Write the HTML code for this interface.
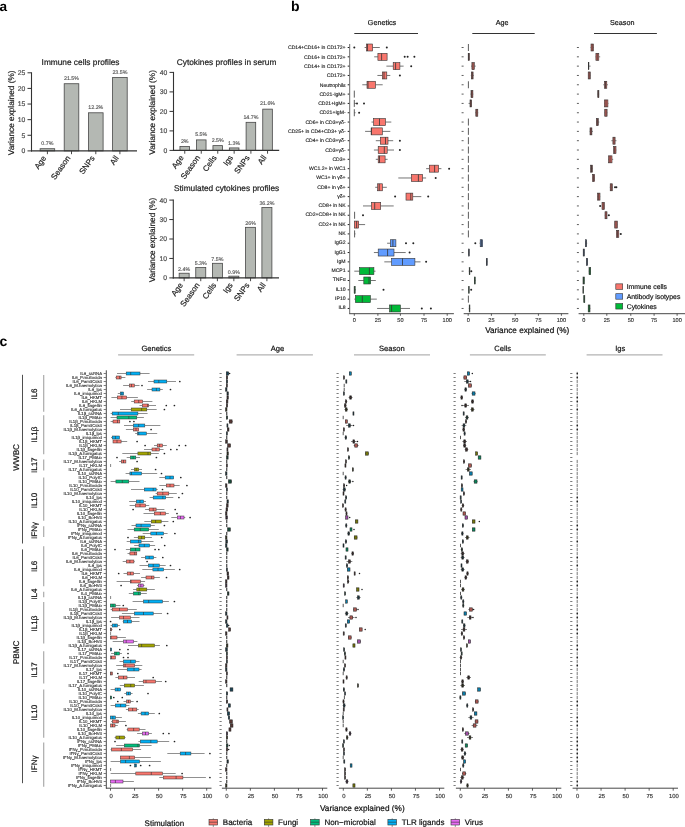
<!DOCTYPE html><html><head><meta charset="utf-8"><style>
html,body{margin:0;padding:0;background:#fff;}
svg{display:block;will-change:transform;}
text{font-family:"Liberation Sans", sans-serif;text-rendering:geometricPrecision;}
</style></head><body>
<svg width="685" height="827" viewBox="0 0 685 827">
<rect width="685" height="827" fill="#fff"/>
<text x="-0.50" y="10.60" font-size="13.6" fill="#000" text-anchor="start" font-weight="bold">a</text>
<text x="290.90" y="10.60" font-size="14" fill="#000" text-anchor="start" font-weight="bold">b</text>
<text x="-0.60" y="346.00" font-size="14" fill="#000" text-anchor="start" font-weight="bold">c</text>
<text x="41.60" y="65.20" font-size="8.3" fill="#222" text-anchor="start" stroke="#222" stroke-width="0.208">Immune cells profiles</text>
<text x="13.60" y="112.85" font-size="8.25" fill="#222" text-anchor="middle" transform="rotate(-90 13.6 112.85)" stroke="#222" stroke-width="0.206">Variance explained (%)</text>
<rect x="40.10" y="148.71" width="14.60" height="2.19" fill="#b4b8b3" stroke="#474747" stroke-width="0.8"/>
<rect x="64.20" y="83.73" width="14.60" height="67.17" fill="#b4b8b3" stroke="#474747" stroke-width="0.8"/>
<rect x="88.50" y="112.79" width="14.60" height="38.11" fill="#b4b8b3" stroke="#474747" stroke-width="0.8"/>
<rect x="112.60" y="77.49" width="14.60" height="73.41" fill="#b4b8b3" stroke="#474747" stroke-width="0.8"/>
<line x1="31.50" y1="72.30" x2="31.50" y2="151.50" stroke="#333" stroke-width="1.1"/>
<line x1="31.00" y1="150.90" x2="137.00" y2="150.90" stroke="#333" stroke-width="1.2"/>
<line x1="27.50" y1="150.90" x2="31.50" y2="150.90" stroke="#333" stroke-width="1.0"/>
<text x="25.30" y="153.30" font-size="6.8" fill="#4a4a4a" text-anchor="end" stroke="#4a4a4a" stroke-width="0.170">0</text>
<line x1="27.50" y1="135.28" x2="31.50" y2="135.28" stroke="#333" stroke-width="1.0"/>
<text x="25.30" y="137.68" font-size="6.8" fill="#4a4a4a" text-anchor="end" stroke="#4a4a4a" stroke-width="0.170">5</text>
<line x1="27.50" y1="119.66" x2="31.50" y2="119.66" stroke="#333" stroke-width="1.0"/>
<text x="25.30" y="122.06" font-size="6.8" fill="#4a4a4a" text-anchor="end" stroke="#4a4a4a" stroke-width="0.170">10</text>
<line x1="27.50" y1="104.04" x2="31.50" y2="104.04" stroke="#333" stroke-width="1.0"/>
<text x="25.30" y="106.44" font-size="6.8" fill="#4a4a4a" text-anchor="end" stroke="#4a4a4a" stroke-width="0.170">15</text>
<line x1="27.50" y1="88.42" x2="31.50" y2="88.42" stroke="#333" stroke-width="1.0"/>
<text x="25.30" y="90.82" font-size="6.8" fill="#4a4a4a" text-anchor="end" stroke="#4a4a4a" stroke-width="0.170">20</text>
<line x1="27.50" y1="72.80" x2="31.50" y2="72.80" stroke="#333" stroke-width="1.0"/>
<text x="25.30" y="75.20" font-size="6.8" fill="#4a4a4a" text-anchor="end" stroke="#4a4a4a" stroke-width="0.170">25</text>
<line x1="47.40" y1="150.90" x2="47.40" y2="154.20" stroke="#333" stroke-width="0.9"/>
<text x="46.60" y="158.10" font-size="8.0" fill="#222" text-anchor="end" transform="rotate(-55 46.6 158.1)" stroke="#222" stroke-width="0.200">Age</text>
<text x="47.40" y="145.31" font-size="5.3" fill="#555" text-anchor="middle" stroke="#555" stroke-width="0.133">0.7%</text>
<line x1="71.50" y1="150.90" x2="71.50" y2="154.20" stroke="#333" stroke-width="0.9"/>
<text x="70.70" y="158.10" font-size="8.0" fill="#222" text-anchor="end" transform="rotate(-55 70.7 158.1)" stroke="#222" stroke-width="0.200">Season</text>
<text x="71.50" y="80.33" font-size="5.3" fill="#555" text-anchor="middle" stroke="#555" stroke-width="0.133">21.5%</text>
<line x1="95.80" y1="150.90" x2="95.80" y2="154.20" stroke="#333" stroke-width="0.9"/>
<text x="95.00" y="158.10" font-size="8.0" fill="#222" text-anchor="end" transform="rotate(-55 95.0 158.1)" stroke="#222" stroke-width="0.200">SNPs</text>
<text x="95.80" y="109.39" font-size="5.3" fill="#555" text-anchor="middle" stroke="#555" stroke-width="0.133">12.2%</text>
<line x1="119.90" y1="150.90" x2="119.90" y2="154.20" stroke="#333" stroke-width="0.9"/>
<text x="119.10" y="158.10" font-size="8.0" fill="#222" text-anchor="end" transform="rotate(-55 119.10000000000001 158.1)" stroke="#222" stroke-width="0.200">All</text>
<text x="119.90" y="74.09" font-size="5.3" fill="#555" text-anchor="middle" stroke="#555" stroke-width="0.133">23.5%</text>
<text x="176.80" y="65.00" font-size="8.3" fill="#222" text-anchor="start" stroke="#222" stroke-width="0.208">Cytokines profiles in serum</text>
<text x="155.20" y="112.40" font-size="8.25" fill="#222" text-anchor="middle" transform="rotate(-90 155.2 112.4)" stroke="#222" stroke-width="0.206">Variance explained (%)</text>
<rect x="179.95" y="146.58" width="9.60" height="3.82" fill="#b4b8b3" stroke="#474747" stroke-width="0.8"/>
<rect x="196.45" y="139.90" width="9.60" height="10.50" fill="#b4b8b3" stroke="#474747" stroke-width="0.8"/>
<rect x="212.95" y="145.62" width="9.60" height="4.77" fill="#b4b8b3" stroke="#474747" stroke-width="0.8"/>
<rect x="229.35" y="147.92" width="9.60" height="2.48" fill="#b4b8b3" stroke="#474747" stroke-width="0.8"/>
<rect x="246.10" y="122.32" width="9.60" height="28.08" fill="#b4b8b3" stroke="#474747" stroke-width="0.8"/>
<rect x="262.75" y="109.14" width="9.60" height="41.26" fill="#b4b8b3" stroke="#474747" stroke-width="0.8"/>
<line x1="173.50" y1="71.90" x2="173.50" y2="151.00" stroke="#333" stroke-width="1.1"/>
<line x1="173.00" y1="150.40" x2="279.20" y2="150.40" stroke="#333" stroke-width="1.2"/>
<line x1="169.50" y1="150.40" x2="173.50" y2="150.40" stroke="#333" stroke-width="1.0"/>
<text x="167.30" y="152.80" font-size="6.8" fill="#4a4a4a" text-anchor="end" stroke="#4a4a4a" stroke-width="0.170">0</text>
<line x1="169.50" y1="130.90" x2="173.50" y2="130.90" stroke="#333" stroke-width="1.0"/>
<text x="167.30" y="133.30" font-size="6.8" fill="#4a4a4a" text-anchor="end" stroke="#4a4a4a" stroke-width="0.170">10</text>
<line x1="169.50" y1="111.40" x2="173.50" y2="111.40" stroke="#333" stroke-width="1.0"/>
<text x="167.30" y="113.80" font-size="6.8" fill="#4a4a4a" text-anchor="end" stroke="#4a4a4a" stroke-width="0.170">20</text>
<line x1="169.50" y1="91.90" x2="173.50" y2="91.90" stroke="#333" stroke-width="1.0"/>
<text x="167.30" y="94.30" font-size="6.8" fill="#4a4a4a" text-anchor="end" stroke="#4a4a4a" stroke-width="0.170">30</text>
<line x1="169.50" y1="72.40" x2="173.50" y2="72.40" stroke="#333" stroke-width="1.0"/>
<text x="167.30" y="74.80" font-size="6.8" fill="#4a4a4a" text-anchor="end" stroke="#4a4a4a" stroke-width="0.170">40</text>
<line x1="184.75" y1="150.40" x2="184.75" y2="153.70" stroke="#333" stroke-width="0.9"/>
<text x="183.95" y="157.60" font-size="8.0" fill="#222" text-anchor="end" transform="rotate(-55 183.95 157.6)" stroke="#222" stroke-width="0.200">Age</text>
<text x="184.75" y="143.30" font-size="5.3" fill="#555" text-anchor="middle" stroke="#555" stroke-width="0.133">2%</text>
<line x1="201.25" y1="150.40" x2="201.25" y2="153.70" stroke="#333" stroke-width="0.9"/>
<text x="200.45" y="157.60" font-size="8.0" fill="#222" text-anchor="end" transform="rotate(-55 200.45 157.6)" stroke="#222" stroke-width="0.200">Season</text>
<text x="201.25" y="136.48" font-size="5.3" fill="#555" text-anchor="middle" stroke="#555" stroke-width="0.133">5.5%</text>
<line x1="217.75" y1="150.40" x2="217.75" y2="153.70" stroke="#333" stroke-width="0.9"/>
<text x="216.95" y="157.60" font-size="8.0" fill="#222" text-anchor="end" transform="rotate(-55 216.95 157.6)" stroke="#222" stroke-width="0.200">Cells</text>
<text x="217.75" y="142.33" font-size="5.3" fill="#555" text-anchor="middle" stroke="#555" stroke-width="0.133">2.5%</text>
<line x1="234.15" y1="150.40" x2="234.15" y2="153.70" stroke="#333" stroke-width="0.9"/>
<text x="233.35" y="157.60" font-size="8.0" fill="#222" text-anchor="end" transform="rotate(-55 233.35 157.6)" stroke="#222" stroke-width="0.200">Igs</text>
<text x="234.15" y="144.67" font-size="5.3" fill="#555" text-anchor="middle" stroke="#555" stroke-width="0.133">1.3%</text>
<line x1="250.90" y1="150.40" x2="250.90" y2="153.70" stroke="#333" stroke-width="0.9"/>
<text x="250.10" y="157.60" font-size="8.0" fill="#222" text-anchor="end" transform="rotate(-55 250.1 157.6)" stroke="#222" stroke-width="0.200">SNPs</text>
<text x="250.90" y="118.54" font-size="5.3" fill="#555" text-anchor="middle" stroke="#555" stroke-width="0.133">14.7%</text>
<line x1="267.55" y1="150.40" x2="267.55" y2="153.70" stroke="#333" stroke-width="0.9"/>
<text x="266.75" y="157.60" font-size="8.0" fill="#222" text-anchor="end" transform="rotate(-55 266.75 157.6)" stroke="#222" stroke-width="0.200">All</text>
<text x="267.55" y="105.08" font-size="5.3" fill="#555" text-anchor="middle" stroke="#555" stroke-width="0.133">21.6%</text>
<text x="174.00" y="191.30" font-size="8.3" fill="#222" text-anchor="start" stroke="#222" stroke-width="0.208">Stimulated cytokines profiles</text>
<text x="155.00" y="240.00" font-size="8.25" fill="#222" text-anchor="middle" transform="rotate(-90 155.0 240.0)" stroke="#222" stroke-width="0.206">Variance explained (%)</text>
<rect x="179.15" y="273.23" width="10.00" height="4.67" fill="#b4b8b3" stroke="#474747" stroke-width="0.8"/>
<rect x="195.75" y="267.59" width="10.00" height="10.31" fill="#b4b8b3" stroke="#474747" stroke-width="0.8"/>
<rect x="212.40" y="263.31" width="10.00" height="14.59" fill="#b4b8b3" stroke="#474747" stroke-width="0.8"/>
<rect x="228.85" y="276.15" width="10.00" height="1.75" fill="#b4b8b3" stroke="#474747" stroke-width="0.8"/>
<rect x="245.55" y="227.33" width="10.00" height="50.57" fill="#b4b8b3" stroke="#474747" stroke-width="0.8"/>
<rect x="261.90" y="207.49" width="10.00" height="70.41" fill="#b4b8b3" stroke="#474747" stroke-width="0.8"/>
<line x1="173.30" y1="199.60" x2="173.30" y2="278.50" stroke="#333" stroke-width="1.1"/>
<line x1="172.80" y1="277.90" x2="279.00" y2="277.90" stroke="#333" stroke-width="1.2"/>
<line x1="169.30" y1="277.90" x2="173.30" y2="277.90" stroke="#333" stroke-width="1.0"/>
<text x="167.10" y="280.30" font-size="6.8" fill="#4a4a4a" text-anchor="end" stroke="#4a4a4a" stroke-width="0.170">0</text>
<line x1="169.30" y1="258.45" x2="173.30" y2="258.45" stroke="#333" stroke-width="1.0"/>
<text x="167.10" y="260.85" font-size="6.8" fill="#4a4a4a" text-anchor="end" stroke="#4a4a4a" stroke-width="0.170">10</text>
<line x1="169.30" y1="239.00" x2="173.30" y2="239.00" stroke="#333" stroke-width="1.0"/>
<text x="167.10" y="241.40" font-size="6.8" fill="#4a4a4a" text-anchor="end" stroke="#4a4a4a" stroke-width="0.170">20</text>
<line x1="169.30" y1="219.55" x2="173.30" y2="219.55" stroke="#333" stroke-width="1.0"/>
<text x="167.10" y="221.95" font-size="6.8" fill="#4a4a4a" text-anchor="end" stroke="#4a4a4a" stroke-width="0.170">30</text>
<line x1="169.30" y1="200.10" x2="173.30" y2="200.10" stroke="#333" stroke-width="1.0"/>
<text x="167.10" y="202.50" font-size="6.8" fill="#4a4a4a" text-anchor="end" stroke="#4a4a4a" stroke-width="0.170">40</text>
<line x1="184.15" y1="277.90" x2="184.15" y2="281.20" stroke="#333" stroke-width="0.9"/>
<text x="183.35" y="285.10" font-size="8.0" fill="#222" text-anchor="end" transform="rotate(-55 183.35 285.09999999999997)" stroke="#222" stroke-width="0.200">Age</text>
<text x="184.15" y="270.73" font-size="5.3" fill="#555" text-anchor="middle" stroke="#555" stroke-width="0.133">2.4%</text>
<line x1="200.75" y1="277.90" x2="200.75" y2="281.20" stroke="#333" stroke-width="0.9"/>
<text x="199.95" y="285.10" font-size="8.0" fill="#222" text-anchor="end" transform="rotate(-55 199.95 285.09999999999997)" stroke="#222" stroke-width="0.200">Season</text>
<text x="200.75" y="265.09" font-size="5.3" fill="#555" text-anchor="middle" stroke="#555" stroke-width="0.133">5.3%</text>
<line x1="217.40" y1="277.90" x2="217.40" y2="281.20" stroke="#333" stroke-width="0.9"/>
<text x="216.60" y="285.10" font-size="8.0" fill="#222" text-anchor="end" transform="rotate(-55 216.6 285.09999999999997)" stroke="#222" stroke-width="0.200">Cells</text>
<text x="217.40" y="260.81" font-size="5.3" fill="#555" text-anchor="middle" stroke="#555" stroke-width="0.133">7.5%</text>
<line x1="233.85" y1="277.90" x2="233.85" y2="281.20" stroke="#333" stroke-width="0.9"/>
<text x="233.05" y="285.10" font-size="8.0" fill="#222" text-anchor="end" transform="rotate(-55 233.04999999999998 285.09999999999997)" stroke="#222" stroke-width="0.200">Igs</text>
<text x="233.85" y="273.65" font-size="5.3" fill="#555" text-anchor="middle" stroke="#555" stroke-width="0.133">0.9%</text>
<line x1="250.55" y1="277.90" x2="250.55" y2="281.20" stroke="#333" stroke-width="0.9"/>
<text x="249.75" y="285.10" font-size="8.0" fill="#222" text-anchor="end" transform="rotate(-55 249.75 285.09999999999997)" stroke="#222" stroke-width="0.200">SNPs</text>
<text x="250.55" y="224.83" font-size="5.3" fill="#555" text-anchor="middle" stroke="#555" stroke-width="0.133">26%</text>
<line x1="266.90" y1="277.90" x2="266.90" y2="281.20" stroke="#333" stroke-width="0.9"/>
<text x="266.10" y="285.10" font-size="8.0" fill="#222" text-anchor="end" transform="rotate(-55 266.09999999999997 285.09999999999997)" stroke="#222" stroke-width="0.200">All</text>
<text x="266.90" y="204.99" font-size="5.3" fill="#555" text-anchor="middle" stroke="#555" stroke-width="0.133">36.2%</text>
<text x="382.00" y="25.10" font-size="7.2" fill="#111" text-anchor="middle" stroke="#111" stroke-width="0.180">Genetics</text>
<line x1="354.30" y1="33.50" x2="418.00" y2="33.50" stroke="#333" stroke-width="1.0"/>
<text x="502.10" y="25.10" font-size="7.2" fill="#111" text-anchor="middle" stroke="#111" stroke-width="0.180">Age</text>
<line x1="472.30" y1="33.50" x2="534.70" y2="33.50" stroke="#333" stroke-width="1.0"/>
<text x="622.20" y="25.10" font-size="7.2" fill="#111" text-anchor="middle" stroke="#111" stroke-width="0.180">Season</text>
<line x1="594.00" y1="33.50" x2="656.90" y2="33.50" stroke="#333" stroke-width="1.0"/>
<text x="345.60" y="49.45" font-size="5.1" fill="#1a1a1a" text-anchor="end" stroke="#1a1a1a" stroke-width="0.128">CD14+CD16+ in CD172+</text>
<line x1="347.70" y1="47.50" x2="349.70" y2="47.50" stroke="#222" stroke-width="1.0"/>
<line x1="372.60" y1="47.50" x2="379.80" y2="47.50" stroke="#3a3a3a" stroke-width="0.7"/>
<line x1="364.60" y1="47.50" x2="366.40" y2="47.50" stroke="#3a3a3a" stroke-width="0.7"/>
<rect x="366.40" y="44.00" width="6.20" height="7.00" fill="#F8766D" stroke="#333" stroke-width="0.6"/>
<line x1="367.50" y1="44.00" x2="367.50" y2="51.00" stroke="#333" stroke-width="0.8"/>
<circle cx="354.30" cy="47.50" r="1.0" fill="#222"/>
<circle cx="386.80" cy="47.50" r="1.0" fill="#222"/>
<text x="345.60" y="58.73" font-size="5.1" fill="#1a1a1a" text-anchor="end" stroke="#1a1a1a" stroke-width="0.128">CD16+ in CD172+</text>
<line x1="347.70" y1="56.82" x2="349.70" y2="56.82" stroke="#222" stroke-width="1.0"/>
<line x1="374.20" y1="56.82" x2="377.90" y2="56.82" stroke="#3a3a3a" stroke-width="0.7"/>
<rect x="377.90" y="53.32" width="9.20" height="7.00" fill="#F8766D" stroke="#333" stroke-width="0.6"/>
<line x1="381.60" y1="53.32" x2="381.60" y2="60.32" stroke="#333" stroke-width="0.8"/>
<circle cx="404.70" cy="56.82" r="1.0" fill="#222"/>
<circle cx="407.60" cy="56.82" r="1.0" fill="#222"/>
<circle cx="414.40" cy="56.82" r="1.0" fill="#222"/>
<text x="345.60" y="68.01" font-size="5.1" fill="#1a1a1a" text-anchor="end" stroke="#1a1a1a" stroke-width="0.128">CD14+ in CD172+</text>
<line x1="347.70" y1="66.14" x2="349.70" y2="66.14" stroke="#222" stroke-width="1.0"/>
<line x1="399.90" y1="66.14" x2="403.60" y2="66.14" stroke="#3a3a3a" stroke-width="0.7"/>
<line x1="386.40" y1="66.14" x2="393.20" y2="66.14" stroke="#3a3a3a" stroke-width="0.7"/>
<rect x="393.20" y="62.64" width="6.70" height="7.00" fill="#F8766D" stroke="#333" stroke-width="0.6"/>
<line x1="395.60" y1="62.64" x2="395.60" y2="69.64" stroke="#333" stroke-width="0.8"/>
<circle cx="411.20" cy="66.14" r="1.0" fill="#222"/>
<text x="345.60" y="77.29" font-size="5.1" fill="#1a1a1a" text-anchor="end" stroke="#1a1a1a" stroke-width="0.128">CD172+</text>
<line x1="347.70" y1="75.46" x2="349.70" y2="75.46" stroke="#222" stroke-width="1.0"/>
<line x1="386.80" y1="75.46" x2="390.30" y2="75.46" stroke="#3a3a3a" stroke-width="0.7"/>
<line x1="377.40" y1="75.46" x2="382.30" y2="75.46" stroke="#3a3a3a" stroke-width="0.7"/>
<rect x="382.30" y="71.96" width="4.50" height="7.00" fill="#F8766D" stroke="#333" stroke-width="0.6"/>
<line x1="384.00" y1="71.96" x2="384.00" y2="78.96" stroke="#333" stroke-width="0.8"/>
<circle cx="399.90" cy="75.46" r="1.0" fill="#222"/>
<text x="345.60" y="86.57" font-size="5.1" fill="#1a1a1a" text-anchor="end" stroke="#1a1a1a" stroke-width="0.128">Neutrophils</text>
<line x1="347.70" y1="84.78" x2="349.70" y2="84.78" stroke="#222" stroke-width="1.0"/>
<line x1="375.50" y1="84.78" x2="382.70" y2="84.78" stroke="#3a3a3a" stroke-width="0.7"/>
<line x1="362.30" y1="84.78" x2="367.00" y2="84.78" stroke="#3a3a3a" stroke-width="0.7"/>
<rect x="367.00" y="81.28" width="8.50" height="7.00" fill="#F8766D" stroke="#333" stroke-width="0.6"/>
<line x1="368.00" y1="81.28" x2="368.00" y2="88.28" stroke="#333" stroke-width="0.8"/>
<text x="345.60" y="95.85" font-size="5.1" fill="#1a1a1a" text-anchor="end" stroke="#1a1a1a" stroke-width="0.128">CD21-IgM+</text>
<line x1="347.70" y1="94.10" x2="349.70" y2="94.10" stroke="#222" stroke-width="1.0"/>
<line x1="354.30" y1="90.60" x2="354.30" y2="97.60" stroke="#333" stroke-width="0.8"/>
<text x="345.60" y="105.13" font-size="5.1" fill="#1a1a1a" text-anchor="end" stroke="#1a1a1a" stroke-width="0.128">CD21+IgM+</text>
<line x1="347.70" y1="103.42" x2="349.70" y2="103.42" stroke="#222" stroke-width="1.0"/>
<line x1="354.50" y1="103.42" x2="356.00" y2="103.42" stroke="#3a3a3a" stroke-width="0.7"/>
<line x1="354.30" y1="99.92" x2="354.30" y2="106.92" stroke="#333" stroke-width="0.8"/>
<circle cx="357.00" cy="103.42" r="1.0" fill="#222"/>
<circle cx="364.00" cy="103.42" r="1.0" fill="#222"/>
<text x="345.60" y="114.41" font-size="5.1" fill="#1a1a1a" text-anchor="end" stroke="#1a1a1a" stroke-width="0.128">CD21+IgM-</text>
<line x1="347.70" y1="112.74" x2="349.70" y2="112.74" stroke="#222" stroke-width="1.0"/>
<line x1="354.50" y1="112.74" x2="355.50" y2="112.74" stroke="#3a3a3a" stroke-width="0.7"/>
<line x1="354.30" y1="109.24" x2="354.30" y2="116.24" stroke="#333" stroke-width="0.8"/>
<circle cx="359.10" cy="112.74" r="1.0" fill="#222"/>
<text x="345.60" y="123.69" font-size="5.1" fill="#1a1a1a" text-anchor="end" stroke="#1a1a1a" stroke-width="0.128">CD6+ in CD3+γδ-</text>
<line x1="347.70" y1="122.06" x2="349.70" y2="122.06" stroke="#222" stroke-width="1.0"/>
<line x1="385.50" y1="122.06" x2="391.30" y2="122.06" stroke="#3a3a3a" stroke-width="0.7"/>
<line x1="371.50" y1="122.06" x2="373.60" y2="122.06" stroke="#3a3a3a" stroke-width="0.7"/>
<rect x="373.60" y="118.56" width="11.90" height="7.00" fill="#F8766D" stroke="#333" stroke-width="0.6"/>
<line x1="379.50" y1="118.56" x2="379.50" y2="125.56" stroke="#333" stroke-width="0.8"/>
<text x="345.60" y="132.97" font-size="5.1" fill="#1a1a1a" text-anchor="end" stroke="#1a1a1a" stroke-width="0.128">CD25+ in CD4+CD3+ γδ-</text>
<line x1="347.70" y1="131.38" x2="349.70" y2="131.38" stroke="#222" stroke-width="1.0"/>
<line x1="382.30" y1="131.38" x2="390.30" y2="131.38" stroke="#3a3a3a" stroke-width="0.7"/>
<line x1="365.10" y1="131.38" x2="371.20" y2="131.38" stroke="#3a3a3a" stroke-width="0.7"/>
<rect x="371.20" y="127.88" width="11.10" height="7.00" fill="#F8766D" stroke="#333" stroke-width="0.6"/>
<line x1="371.40" y1="127.88" x2="371.40" y2="134.88" stroke="#333" stroke-width="0.8"/>
<text x="345.60" y="142.25" font-size="5.1" fill="#1a1a1a" text-anchor="end" stroke="#1a1a1a" stroke-width="0.128">CD4+ in CD3+γδ-</text>
<line x1="347.70" y1="140.70" x2="349.70" y2="140.70" stroke="#222" stroke-width="1.0"/>
<line x1="388.00" y1="140.70" x2="393.20" y2="140.70" stroke="#3a3a3a" stroke-width="0.7"/>
<line x1="375.80" y1="140.70" x2="380.30" y2="140.70" stroke="#3a3a3a" stroke-width="0.7"/>
<rect x="380.30" y="137.20" width="7.70" height="7.00" fill="#F8766D" stroke="#333" stroke-width="0.6"/>
<line x1="385.50" y1="137.20" x2="385.50" y2="144.20" stroke="#333" stroke-width="0.8"/>
<circle cx="399.90" cy="140.70" r="1.0" fill="#222"/>
<text x="345.60" y="151.53" font-size="5.1" fill="#1a1a1a" text-anchor="end" stroke="#1a1a1a" stroke-width="0.128">CD3+γδ-</text>
<line x1="347.70" y1="150.02" x2="349.70" y2="150.02" stroke="#222" stroke-width="1.0"/>
<line x1="387.20" y1="150.02" x2="394.00" y2="150.02" stroke="#3a3a3a" stroke-width="0.7"/>
<line x1="373.90" y1="150.02" x2="378.20" y2="150.02" stroke="#3a3a3a" stroke-width="0.7"/>
<rect x="378.20" y="146.52" width="9.00" height="7.00" fill="#F8766D" stroke="#333" stroke-width="0.6"/>
<line x1="384.30" y1="146.52" x2="384.30" y2="153.52" stroke="#333" stroke-width="0.8"/>
<circle cx="399.90" cy="150.02" r="1.0" fill="#222"/>
<text x="345.60" y="160.81" font-size="5.1" fill="#1a1a1a" text-anchor="end" stroke="#1a1a1a" stroke-width="0.128">CD3+</text>
<line x1="347.70" y1="159.34" x2="349.70" y2="159.34" stroke="#222" stroke-width="1.0"/>
<line x1="385.10" y1="159.34" x2="387.60" y2="159.34" stroke="#3a3a3a" stroke-width="0.7"/>
<line x1="375.80" y1="159.34" x2="378.20" y2="159.34" stroke="#3a3a3a" stroke-width="0.7"/>
<rect x="378.20" y="155.84" width="6.90" height="7.00" fill="#F8766D" stroke="#333" stroke-width="0.6"/>
<line x1="379.50" y1="155.84" x2="379.50" y2="162.84" stroke="#333" stroke-width="0.8"/>
<text x="345.60" y="170.09" font-size="5.1" fill="#1a1a1a" text-anchor="end" stroke="#1a1a1a" stroke-width="0.128">WC1.2+ in WC1</text>
<line x1="347.70" y1="168.66" x2="349.70" y2="168.66" stroke="#222" stroke-width="1.0"/>
<line x1="438.60" y1="168.66" x2="441.40" y2="168.66" stroke="#3a3a3a" stroke-width="0.7"/>
<line x1="426.10" y1="168.66" x2="429.30" y2="168.66" stroke="#3a3a3a" stroke-width="0.7"/>
<rect x="429.30" y="165.16" width="9.30" height="7.00" fill="#F8766D" stroke="#333" stroke-width="0.6"/>
<line x1="434.60" y1="165.16" x2="434.60" y2="172.16" stroke="#333" stroke-width="0.8"/>
<circle cx="449.10" cy="168.66" r="1.0" fill="#222"/>
<text x="345.60" y="179.37" font-size="5.1" fill="#1a1a1a" text-anchor="end" stroke="#1a1a1a" stroke-width="0.128">WC1+ in γδ+</text>
<line x1="347.70" y1="177.98" x2="349.70" y2="177.98" stroke="#222" stroke-width="1.0"/>
<line x1="422.60" y1="177.98" x2="426.10" y2="177.98" stroke="#3a3a3a" stroke-width="0.7"/>
<line x1="398.30" y1="177.98" x2="411.30" y2="177.98" stroke="#3a3a3a" stroke-width="0.7"/>
<rect x="411.30" y="174.48" width="11.30" height="7.00" fill="#F8766D" stroke="#333" stroke-width="0.6"/>
<line x1="418.40" y1="174.48" x2="418.40" y2="181.48" stroke="#333" stroke-width="0.8"/>
<circle cx="435.70" cy="177.98" r="1.0" fill="#222"/>
<text x="345.60" y="188.65" font-size="5.1" fill="#1a1a1a" text-anchor="end" stroke="#1a1a1a" stroke-width="0.128">CD8+ in γδ+</text>
<line x1="347.70" y1="187.30" x2="349.70" y2="187.30" stroke="#222" stroke-width="1.0"/>
<line x1="382.40" y1="187.30" x2="386.80" y2="187.30" stroke="#3a3a3a" stroke-width="0.7"/>
<line x1="375.20" y1="187.30" x2="377.60" y2="187.30" stroke="#3a3a3a" stroke-width="0.7"/>
<rect x="377.60" y="183.80" width="4.80" height="7.00" fill="#F8766D" stroke="#333" stroke-width="0.6"/>
<line x1="379.20" y1="183.80" x2="379.20" y2="190.80" stroke="#333" stroke-width="0.8"/>
<text x="345.60" y="197.93" font-size="5.1" fill="#1a1a1a" text-anchor="end" stroke="#1a1a1a" stroke-width="0.128">γδ+</text>
<line x1="347.70" y1="196.62" x2="349.70" y2="196.62" stroke="#222" stroke-width="1.0"/>
<line x1="412.80" y1="196.62" x2="421.30" y2="196.62" stroke="#3a3a3a" stroke-width="0.7"/>
<rect x="406.00" y="193.12" width="6.80" height="7.00" fill="#F8766D" stroke="#333" stroke-width="0.6"/>
<line x1="410.80" y1="193.12" x2="410.80" y2="200.12" stroke="#333" stroke-width="0.8"/>
<circle cx="395.10" cy="196.62" r="1.0" fill="#222"/>
<circle cx="428.20" cy="196.62" r="1.0" fill="#222"/>
<text x="345.60" y="207.21" font-size="5.1" fill="#1a1a1a" text-anchor="end" stroke="#1a1a1a" stroke-width="0.128">CD8+ in NK</text>
<line x1="347.70" y1="205.94" x2="349.70" y2="205.94" stroke="#222" stroke-width="1.0"/>
<line x1="380.70" y1="205.94" x2="393.70" y2="205.94" stroke="#3a3a3a" stroke-width="0.7"/>
<line x1="363.00" y1="205.94" x2="371.50" y2="205.94" stroke="#3a3a3a" stroke-width="0.7"/>
<rect x="371.50" y="202.44" width="9.20" height="7.00" fill="#F8766D" stroke="#333" stroke-width="0.6"/>
<line x1="374.70" y1="202.44" x2="374.70" y2="209.44" stroke="#333" stroke-width="0.8"/>
<text x="345.60" y="216.49" font-size="5.1" fill="#1a1a1a" text-anchor="end" stroke="#1a1a1a" stroke-width="0.128">CD2+CD8+ in NK</text>
<line x1="347.70" y1="215.26" x2="349.70" y2="215.26" stroke="#222" stroke-width="1.0"/>
<line x1="354.60" y1="211.76" x2="354.60" y2="218.76" stroke="#333" stroke-width="0.8"/>
<circle cx="363.00" cy="215.26" r="1.0" fill="#222"/>
<text x="345.60" y="225.77" font-size="5.1" fill="#1a1a1a" text-anchor="end" stroke="#1a1a1a" stroke-width="0.128">CD2+ in NK</text>
<line x1="347.70" y1="224.58" x2="349.70" y2="224.58" stroke="#222" stroke-width="1.0"/>
<line x1="358.70" y1="224.58" x2="365.10" y2="224.58" stroke="#3a3a3a" stroke-width="0.7"/>
<rect x="354.30" y="221.08" width="4.40" height="7.00" fill="#F8766D" stroke="#333" stroke-width="0.6"/>
<line x1="356.60" y1="221.08" x2="356.60" y2="228.08" stroke="#333" stroke-width="0.8"/>
<text x="345.60" y="235.05" font-size="5.1" fill="#1a1a1a" text-anchor="end" stroke="#1a1a1a" stroke-width="0.128">NK</text>
<line x1="347.70" y1="233.90" x2="349.70" y2="233.90" stroke="#222" stroke-width="1.0"/>
<line x1="354.80" y1="233.90" x2="355.50" y2="233.90" stroke="#3a3a3a" stroke-width="0.7"/>
<line x1="354.60" y1="230.40" x2="354.60" y2="237.40" stroke="#333" stroke-width="0.8"/>
<text x="345.60" y="244.33" font-size="5.1" fill="#1a1a1a" text-anchor="end" stroke="#1a1a1a" stroke-width="0.128">IgG2</text>
<line x1="347.70" y1="243.22" x2="349.70" y2="243.22" stroke="#222" stroke-width="1.0"/>
<line x1="387.10" y1="243.22" x2="390.40" y2="243.22" stroke="#3a3a3a" stroke-width="0.7"/>
<rect x="390.40" y="239.72" width="5.50" height="7.00" fill="#619CFF" stroke="#333" stroke-width="0.6"/>
<line x1="392.90" y1="239.72" x2="392.90" y2="246.72" stroke="#333" stroke-width="0.8"/>
<circle cx="406.00" cy="243.22" r="1.0" fill="#222"/>
<circle cx="413.30" cy="243.22" r="1.0" fill="#222"/>
<text x="345.60" y="253.61" font-size="5.1" fill="#1a1a1a" text-anchor="end" stroke="#1a1a1a" stroke-width="0.128">IgG1</text>
<line x1="347.70" y1="252.54" x2="349.70" y2="252.54" stroke="#222" stroke-width="1.0"/>
<line x1="394.00" y1="252.54" x2="405.70" y2="252.54" stroke="#3a3a3a" stroke-width="0.7"/>
<line x1="373.90" y1="252.54" x2="378.20" y2="252.54" stroke="#3a3a3a" stroke-width="0.7"/>
<rect x="378.20" y="249.04" width="15.80" height="7.00" fill="#619CFF" stroke="#333" stroke-width="0.6"/>
<line x1="387.60" y1="249.04" x2="387.60" y2="256.04" stroke="#333" stroke-width="0.8"/>
<circle cx="409.60" cy="252.54" r="1.0" fill="#222"/>
<text x="345.60" y="262.89" font-size="5.1" fill="#1a1a1a" text-anchor="end" stroke="#1a1a1a" stroke-width="0.128">IgM</text>
<line x1="347.70" y1="261.86" x2="349.70" y2="261.86" stroke="#222" stroke-width="1.0"/>
<line x1="414.90" y1="261.86" x2="420.50" y2="261.86" stroke="#3a3a3a" stroke-width="0.7"/>
<line x1="384.30" y1="261.86" x2="391.60" y2="261.86" stroke="#3a3a3a" stroke-width="0.7"/>
<rect x="391.60" y="258.36" width="23.30" height="7.00" fill="#619CFF" stroke="#333" stroke-width="0.6"/>
<line x1="402.50" y1="258.36" x2="402.50" y2="265.36" stroke="#333" stroke-width="0.8"/>
<circle cx="426.10" cy="261.86" r="1.0" fill="#222"/>
<text x="345.60" y="272.17" font-size="5.1" fill="#1a1a1a" text-anchor="end" stroke="#1a1a1a" stroke-width="0.128">MCP1</text>
<line x1="347.70" y1="271.18" x2="349.70" y2="271.18" stroke="#222" stroke-width="1.0"/>
<line x1="373.90" y1="271.18" x2="375.50" y2="271.18" stroke="#3a3a3a" stroke-width="0.7"/>
<line x1="354.30" y1="271.18" x2="359.50" y2="271.18" stroke="#3a3a3a" stroke-width="0.7"/>
<rect x="359.50" y="267.68" width="14.40" height="7.00" fill="#00BA38" stroke="#333" stroke-width="0.6"/>
<line x1="369.40" y1="267.68" x2="369.40" y2="274.68" stroke="#333" stroke-width="0.8"/>
<text x="345.60" y="281.45" font-size="5.1" fill="#1a1a1a" text-anchor="end" stroke="#1a1a1a" stroke-width="0.128">TNFα</text>
<line x1="347.70" y1="280.50" x2="349.70" y2="280.50" stroke="#222" stroke-width="1.0"/>
<line x1="370.70" y1="280.50" x2="375.80" y2="280.50" stroke="#3a3a3a" stroke-width="0.7"/>
<line x1="358.30" y1="280.50" x2="363.80" y2="280.50" stroke="#3a3a3a" stroke-width="0.7"/>
<rect x="363.80" y="277.00" width="6.90" height="7.00" fill="#00BA38" stroke="#333" stroke-width="0.6"/>
<line x1="369.00" y1="277.00" x2="369.00" y2="284.00" stroke="#333" stroke-width="0.8"/>
<text x="345.60" y="290.73" font-size="5.1" fill="#1a1a1a" text-anchor="end" stroke="#1a1a1a" stroke-width="0.128">IL10</text>
<line x1="347.70" y1="289.82" x2="349.70" y2="289.82" stroke="#222" stroke-width="1.0"/>
<line x1="355.20" y1="289.82" x2="356.00" y2="289.82" stroke="#3a3a3a" stroke-width="0.7"/>
<rect x="354.30" y="286.32" width="0.90" height="7.00" fill="#00BA38" stroke="#333" stroke-width="0.6"/>
<line x1="354.30" y1="286.32" x2="354.30" y2="293.32" stroke="#333" stroke-width="0.8"/>
<circle cx="383.50" cy="289.82" r="1.0" fill="#222"/>
<text x="345.60" y="300.01" font-size="5.1" fill="#1a1a1a" text-anchor="end" stroke="#1a1a1a" stroke-width="0.128">IP10</text>
<line x1="347.70" y1="299.14" x2="349.70" y2="299.14" stroke="#222" stroke-width="1.0"/>
<line x1="370.40" y1="299.14" x2="376.80" y2="299.14" stroke="#3a3a3a" stroke-width="0.7"/>
<line x1="354.30" y1="299.14" x2="355.40" y2="299.14" stroke="#3a3a3a" stroke-width="0.7"/>
<rect x="355.40" y="295.64" width="15.00" height="7.00" fill="#00BA38" stroke="#333" stroke-width="0.6"/>
<line x1="362.30" y1="295.64" x2="362.30" y2="302.64" stroke="#333" stroke-width="0.8"/>
<text x="345.60" y="309.29" font-size="5.1" fill="#1a1a1a" text-anchor="end" stroke="#1a1a1a" stroke-width="0.128">IL8</text>
<line x1="347.70" y1="308.46" x2="349.70" y2="308.46" stroke="#222" stroke-width="1.0"/>
<line x1="400.40" y1="308.46" x2="410.00" y2="308.46" stroke="#3a3a3a" stroke-width="0.7"/>
<line x1="377.10" y1="308.46" x2="389.50" y2="308.46" stroke="#3a3a3a" stroke-width="0.7"/>
<rect x="389.50" y="304.96" width="10.90" height="7.00" fill="#00BA38" stroke="#333" stroke-width="0.6"/>
<line x1="391.60" y1="304.96" x2="391.60" y2="311.96" stroke="#333" stroke-width="0.8"/>
<circle cx="421.80" cy="308.46" r="1.0" fill="#222"/>
<circle cx="430.90" cy="308.46" r="1.0" fill="#222"/>
<line x1="349.70" y1="44.00" x2="349.70" y2="313.60" stroke="#6a6a6a" stroke-width="1.0"/>
<line x1="349.20" y1="313.70" x2="453.90" y2="313.70" stroke="#333" stroke-width="0.9"/>
<line x1="354.30" y1="313.70" x2="354.30" y2="315.80" stroke="#333" stroke-width="0.8"/>
<text x="354.30" y="322.40" font-size="5.6" fill="#333" text-anchor="middle" stroke="#333" stroke-width="0.140">0</text>
<line x1="377.90" y1="313.70" x2="377.90" y2="315.80" stroke="#333" stroke-width="0.8"/>
<text x="377.90" y="322.40" font-size="5.6" fill="#333" text-anchor="middle" stroke="#333" stroke-width="0.140">25</text>
<line x1="400.40" y1="313.70" x2="400.40" y2="315.80" stroke="#333" stroke-width="0.8"/>
<text x="400.40" y="322.40" font-size="5.6" fill="#333" text-anchor="middle" stroke="#333" stroke-width="0.140">50</text>
<line x1="424.00" y1="313.70" x2="424.00" y2="315.80" stroke="#333" stroke-width="0.8"/>
<text x="424.00" y="322.40" font-size="5.6" fill="#333" text-anchor="middle" stroke="#333" stroke-width="0.140">75</text>
<line x1="447.20" y1="313.70" x2="447.20" y2="315.80" stroke="#333" stroke-width="0.8"/>
<text x="447.20" y="322.40" font-size="5.6" fill="#333" text-anchor="middle" stroke="#333" stroke-width="0.140">100</text>
<line x1="461.60" y1="47.50" x2="463.60" y2="47.50" stroke="#333" stroke-width="0.8"/>
<line x1="468.40" y1="44.00" x2="468.40" y2="51.00" stroke="#333" stroke-width="0.8"/>
<line x1="461.60" y1="56.82" x2="463.60" y2="56.82" stroke="#333" stroke-width="0.8"/>
<rect x="468.20" y="53.32" width="1.20" height="7.00" fill="#b75c56" stroke="#333" stroke-width="0.6"/>
<line x1="468.60" y1="53.32" x2="468.60" y2="60.32" stroke="#333" stroke-width="0.8"/>
<line x1="461.60" y1="66.14" x2="463.60" y2="66.14" stroke="#333" stroke-width="0.8"/>
<line x1="474.30" y1="66.14" x2="475.80" y2="66.14" stroke="#333" stroke-width="0.6"/>
<line x1="471.00" y1="66.14" x2="471.90" y2="66.14" stroke="#333" stroke-width="0.6"/>
<rect x="471.90" y="62.64" width="2.40" height="7.00" fill="#d76961" stroke="#333" stroke-width="0.6"/>
<line x1="473.00" y1="62.64" x2="473.00" y2="69.64" stroke="#333" stroke-width="0.8"/>
<line x1="461.60" y1="75.46" x2="463.60" y2="75.46" stroke="#333" stroke-width="0.8"/>
<line x1="473.10" y1="75.46" x2="473.80" y2="75.46" stroke="#333" stroke-width="0.6"/>
<line x1="470.80" y1="75.46" x2="471.40" y2="75.46" stroke="#333" stroke-width="0.6"/>
<rect x="471.40" y="71.96" width="1.70" height="7.00" fill="#b75c56" stroke="#333" stroke-width="0.6"/>
<line x1="472.20" y1="71.96" x2="472.20" y2="78.96" stroke="#333" stroke-width="0.8"/>
<line x1="461.60" y1="84.78" x2="463.60" y2="84.78" stroke="#333" stroke-width="0.8"/>
<line x1="468.40" y1="81.28" x2="468.40" y2="88.28" stroke="#333" stroke-width="0.8"/>
<line x1="461.60" y1="94.10" x2="463.60" y2="94.10" stroke="#333" stroke-width="0.8"/>
<line x1="472.90" y1="94.10" x2="473.30" y2="94.10" stroke="#333" stroke-width="0.6"/>
<line x1="470.50" y1="94.10" x2="471.00" y2="94.10" stroke="#333" stroke-width="0.6"/>
<rect x="471.00" y="90.60" width="1.90" height="7.00" fill="#b75c56" stroke="#333" stroke-width="0.6"/>
<line x1="471.80" y1="90.60" x2="471.80" y2="97.60" stroke="#333" stroke-width="0.8"/>
<line x1="461.60" y1="103.42" x2="463.60" y2="103.42" stroke="#333" stroke-width="0.8"/>
<line x1="468.50" y1="103.42" x2="470.00" y2="103.42" stroke="#333" stroke-width="0.6"/>
<rect x="470.00" y="99.92" width="1.60" height="7.00" fill="#b75c56" stroke="#333" stroke-width="0.6"/>
<line x1="470.80" y1="99.92" x2="470.80" y2="106.92" stroke="#333" stroke-width="0.8"/>
<line x1="461.60" y1="112.74" x2="463.60" y2="112.74" stroke="#333" stroke-width="0.8"/>
<line x1="477.80" y1="112.74" x2="478.20" y2="112.74" stroke="#333" stroke-width="0.6"/>
<line x1="475.20" y1="112.74" x2="475.80" y2="112.74" stroke="#333" stroke-width="0.6"/>
<rect x="475.80" y="109.24" width="2.00" height="7.00" fill="#d76961" stroke="#333" stroke-width="0.6"/>
<line x1="476.80" y1="109.24" x2="476.80" y2="116.24" stroke="#333" stroke-width="0.8"/>
<line x1="461.60" y1="122.06" x2="463.60" y2="122.06" stroke="#333" stroke-width="0.8"/>
<line x1="468.40" y1="118.56" x2="468.40" y2="125.56" stroke="#333" stroke-width="0.8"/>
<line x1="461.60" y1="131.38" x2="463.60" y2="131.38" stroke="#333" stroke-width="0.8"/>
<line x1="468.40" y1="127.88" x2="468.40" y2="134.88" stroke="#333" stroke-width="0.8"/>
<line x1="461.60" y1="140.70" x2="463.60" y2="140.70" stroke="#333" stroke-width="0.8"/>
<line x1="468.40" y1="137.20" x2="468.40" y2="144.20" stroke="#333" stroke-width="0.8"/>
<line x1="461.60" y1="150.02" x2="463.60" y2="150.02" stroke="#333" stroke-width="0.8"/>
<line x1="468.40" y1="146.52" x2="468.40" y2="153.52" stroke="#333" stroke-width="0.8"/>
<line x1="461.60" y1="159.34" x2="463.60" y2="159.34" stroke="#333" stroke-width="0.8"/>
<line x1="468.40" y1="155.84" x2="468.40" y2="162.84" stroke="#333" stroke-width="0.8"/>
<line x1="461.60" y1="168.66" x2="463.60" y2="168.66" stroke="#333" stroke-width="0.8"/>
<line x1="468.40" y1="165.16" x2="468.40" y2="172.16" stroke="#333" stroke-width="0.8"/>
<line x1="461.60" y1="177.98" x2="463.60" y2="177.98" stroke="#333" stroke-width="0.8"/>
<line x1="468.40" y1="174.48" x2="468.40" y2="181.48" stroke="#333" stroke-width="0.8"/>
<line x1="461.60" y1="187.30" x2="463.60" y2="187.30" stroke="#333" stroke-width="0.8"/>
<line x1="468.40" y1="183.80" x2="468.40" y2="190.80" stroke="#333" stroke-width="0.8"/>
<line x1="461.60" y1="196.62" x2="463.60" y2="196.62" stroke="#333" stroke-width="0.8"/>
<line x1="468.40" y1="193.12" x2="468.40" y2="200.12" stroke="#333" stroke-width="0.8"/>
<line x1="461.60" y1="205.94" x2="463.60" y2="205.94" stroke="#333" stroke-width="0.8"/>
<line x1="468.40" y1="202.44" x2="468.40" y2="209.44" stroke="#333" stroke-width="0.8"/>
<line x1="461.60" y1="215.26" x2="463.60" y2="215.26" stroke="#333" stroke-width="0.8"/>
<line x1="468.40" y1="211.76" x2="468.40" y2="218.76" stroke="#333" stroke-width="0.8"/>
<line x1="461.60" y1="224.58" x2="463.60" y2="224.58" stroke="#333" stroke-width="0.8"/>
<line x1="468.40" y1="221.08" x2="468.40" y2="228.08" stroke="#333" stroke-width="0.8"/>
<line x1="461.60" y1="233.90" x2="463.60" y2="233.90" stroke="#333" stroke-width="0.8"/>
<line x1="468.40" y1="230.40" x2="468.40" y2="237.40" stroke="#333" stroke-width="0.8"/>
<line x1="461.60" y1="243.22" x2="463.60" y2="243.22" stroke="#333" stroke-width="0.8"/>
<line x1="479.50" y1="243.22" x2="480.20" y2="243.22" stroke="#333" stroke-width="0.6"/>
<rect x="480.20" y="239.72" width="2.40" height="7.00" fill="#5789dd" stroke="#333" stroke-width="0.6"/>
<line x1="481.40" y1="239.72" x2="481.40" y2="246.72" stroke="#333" stroke-width="0.8"/>
<circle cx="475.30" cy="243.22" r="1.0" fill="#222"/>
<line x1="461.60" y1="252.54" x2="463.60" y2="252.54" stroke="#333" stroke-width="0.8"/>
<line x1="469.20" y1="252.54" x2="469.40" y2="252.54" stroke="#333" stroke-width="0.6"/>
<rect x="468.60" y="249.04" width="0.60" height="7.00" fill="#4e77bc" stroke="#333" stroke-width="0.6"/>
<line x1="468.90" y1="249.04" x2="468.90" y2="256.04" stroke="#333" stroke-width="0.8"/>
<line x1="461.60" y1="261.86" x2="463.60" y2="261.86" stroke="#333" stroke-width="0.8"/>
<line x1="487.20" y1="261.86" x2="487.60" y2="261.86" stroke="#333" stroke-width="0.6"/>
<line x1="486.00" y1="261.86" x2="486.30" y2="261.86" stroke="#333" stroke-width="0.6"/>
<rect x="486.30" y="258.36" width="0.90" height="7.00" fill="#4e77bc" stroke="#333" stroke-width="0.6"/>
<line x1="486.70" y1="258.36" x2="486.70" y2="265.36" stroke="#333" stroke-width="0.8"/>
<line x1="461.60" y1="271.18" x2="463.60" y2="271.18" stroke="#333" stroke-width="0.8"/>
<line x1="469.90" y1="271.18" x2="470.20" y2="271.18" stroke="#333" stroke-width="0.6"/>
<line x1="468.80" y1="271.18" x2="469.20" y2="271.18" stroke="#333" stroke-width="0.6"/>
<rect x="469.20" y="267.68" width="0.70" height="7.00" fill="#0a8c31" stroke="#333" stroke-width="0.6"/>
<line x1="469.50" y1="267.68" x2="469.50" y2="274.68" stroke="#333" stroke-width="0.8"/>
<circle cx="471.30" cy="271.18" r="1.0" fill="#222"/>
<line x1="461.60" y1="280.50" x2="463.60" y2="280.50" stroke="#333" stroke-width="0.8"/>
<line x1="475.20" y1="280.50" x2="475.60" y2="280.50" stroke="#333" stroke-width="0.6"/>
<line x1="474.00" y1="280.50" x2="474.30" y2="280.50" stroke="#333" stroke-width="0.6"/>
<rect x="474.30" y="277.00" width="0.90" height="7.00" fill="#0a8c31" stroke="#333" stroke-width="0.6"/>
<line x1="474.70" y1="277.00" x2="474.70" y2="284.00" stroke="#333" stroke-width="0.8"/>
<line x1="461.60" y1="289.82" x2="463.60" y2="289.82" stroke="#333" stroke-width="0.8"/>
<line x1="469.10" y1="289.82" x2="469.30" y2="289.82" stroke="#333" stroke-width="0.6"/>
<line x1="468.60" y1="289.82" x2="468.70" y2="289.82" stroke="#333" stroke-width="0.6"/>
<rect x="468.70" y="286.32" width="0.40" height="7.00" fill="#0a8c31" stroke="#333" stroke-width="0.6"/>
<line x1="468.90" y1="286.32" x2="468.90" y2="293.32" stroke="#333" stroke-width="0.8"/>
<circle cx="471.20" cy="289.82" r="1.0" fill="#222"/>
<line x1="461.60" y1="299.14" x2="463.60" y2="299.14" stroke="#333" stroke-width="0.8"/>
<line x1="468.40" y1="295.64" x2="468.40" y2="302.64" stroke="#333" stroke-width="0.8"/>
<line x1="461.60" y1="308.46" x2="463.60" y2="308.46" stroke="#333" stroke-width="0.8"/>
<line x1="469.90" y1="308.46" x2="470.20" y2="308.46" stroke="#333" stroke-width="0.6"/>
<line x1="468.80" y1="308.46" x2="469.20" y2="308.46" stroke="#333" stroke-width="0.6"/>
<rect x="469.20" y="304.96" width="0.70" height="7.00" fill="#0a8c31" stroke="#333" stroke-width="0.6"/>
<line x1="469.50" y1="304.96" x2="469.50" y2="311.96" stroke="#333" stroke-width="0.8"/>
<line x1="463.70" y1="313.70" x2="568.40" y2="313.70" stroke="#333" stroke-width="0.9"/>
<line x1="468.20" y1="313.70" x2="468.20" y2="315.80" stroke="#333" stroke-width="0.8"/>
<text x="468.20" y="322.40" font-size="5.6" fill="#333" text-anchor="middle" stroke="#333" stroke-width="0.140">0</text>
<line x1="491.40" y1="313.70" x2="491.40" y2="315.80" stroke="#333" stroke-width="0.8"/>
<text x="491.40" y="322.40" font-size="5.6" fill="#333" text-anchor="middle" stroke="#333" stroke-width="0.140">25</text>
<line x1="515.20" y1="313.70" x2="515.20" y2="315.80" stroke="#333" stroke-width="0.8"/>
<text x="515.20" y="322.40" font-size="5.6" fill="#333" text-anchor="middle" stroke="#333" stroke-width="0.140">50</text>
<line x1="538.40" y1="313.70" x2="538.40" y2="315.80" stroke="#333" stroke-width="0.8"/>
<text x="538.40" y="322.40" font-size="5.6" fill="#333" text-anchor="middle" stroke="#333" stroke-width="0.140">75</text>
<line x1="561.40" y1="313.70" x2="561.40" y2="315.80" stroke="#333" stroke-width="0.8"/>
<text x="561.40" y="322.40" font-size="5.6" fill="#333" text-anchor="middle" stroke="#333" stroke-width="0.140">100</text>
<line x1="576.90" y1="47.50" x2="578.90" y2="47.50" stroke="#333" stroke-width="0.8"/>
<line x1="593.50" y1="47.50" x2="594.00" y2="47.50" stroke="#333" stroke-width="0.6"/>
<line x1="590.60" y1="47.50" x2="591.00" y2="47.50" stroke="#333" stroke-width="0.6"/>
<rect x="591.00" y="44.00" width="2.50" height="7.00" fill="#d76961" stroke="#333" stroke-width="0.6"/>
<line x1="592.20" y1="44.00" x2="592.20" y2="51.00" stroke="#333" stroke-width="0.8"/>
<line x1="576.90" y1="56.82" x2="578.90" y2="56.82" stroke="#333" stroke-width="0.8"/>
<line x1="598.80" y1="56.82" x2="600.20" y2="56.82" stroke="#333" stroke-width="0.6"/>
<line x1="595.50" y1="56.82" x2="595.90" y2="56.82" stroke="#333" stroke-width="0.6"/>
<rect x="595.90" y="53.32" width="2.90" height="7.00" fill="#d76961" stroke="#333" stroke-width="0.6"/>
<line x1="597.20" y1="53.32" x2="597.20" y2="60.32" stroke="#333" stroke-width="0.8"/>
<line x1="576.90" y1="66.14" x2="578.90" y2="66.14" stroke="#333" stroke-width="0.8"/>
<line x1="588.90" y1="66.14" x2="590.60" y2="66.14" stroke="#333" stroke-width="0.6"/>
<rect x="588.30" y="62.64" width="0.60" height="7.00" fill="#b75c56" stroke="#333" stroke-width="0.6"/>
<line x1="588.50" y1="62.64" x2="588.50" y2="69.64" stroke="#333" stroke-width="0.8"/>
<line x1="576.90" y1="75.46" x2="578.90" y2="75.46" stroke="#333" stroke-width="0.8"/>
<line x1="590.30" y1="75.46" x2="590.50" y2="75.46" stroke="#333" stroke-width="0.6"/>
<line x1="588.00" y1="75.46" x2="588.20" y2="75.46" stroke="#333" stroke-width="0.6"/>
<rect x="588.20" y="71.96" width="2.10" height="7.00" fill="#d76961" stroke="#333" stroke-width="0.6"/>
<line x1="589.20" y1="71.96" x2="589.20" y2="78.96" stroke="#333" stroke-width="0.8"/>
<line x1="576.90" y1="84.78" x2="578.90" y2="84.78" stroke="#333" stroke-width="0.8"/>
<line x1="606.80" y1="84.78" x2="608.00" y2="84.78" stroke="#333" stroke-width="0.6"/>
<line x1="603.20" y1="84.78" x2="604.40" y2="84.78" stroke="#333" stroke-width="0.6"/>
<rect x="604.40" y="81.28" width="2.40" height="7.00" fill="#d76961" stroke="#333" stroke-width="0.6"/>
<line x1="605.50" y1="81.28" x2="605.50" y2="88.28" stroke="#333" stroke-width="0.8"/>
<line x1="576.90" y1="94.10" x2="578.90" y2="94.10" stroke="#333" stroke-width="0.8"/>
<line x1="598.90" y1="94.10" x2="599.10" y2="94.10" stroke="#333" stroke-width="0.6"/>
<line x1="597.50" y1="94.10" x2="597.80" y2="94.10" stroke="#333" stroke-width="0.6"/>
<rect x="597.80" y="90.60" width="1.10" height="7.00" fill="#b75c56" stroke="#333" stroke-width="0.6"/>
<line x1="598.30" y1="90.60" x2="598.30" y2="97.60" stroke="#333" stroke-width="0.8"/>
<line x1="576.90" y1="103.42" x2="578.90" y2="103.42" stroke="#333" stroke-width="0.8"/>
<line x1="607.90" y1="103.42" x2="608.40" y2="103.42" stroke="#333" stroke-width="0.6"/>
<line x1="604.00" y1="103.42" x2="604.40" y2="103.42" stroke="#333" stroke-width="0.6"/>
<rect x="604.40" y="99.92" width="3.50" height="7.00" fill="#d76961" stroke="#333" stroke-width="0.6"/>
<line x1="606.00" y1="99.92" x2="606.00" y2="106.92" stroke="#333" stroke-width="0.8"/>
<line x1="576.90" y1="112.74" x2="578.90" y2="112.74" stroke="#333" stroke-width="0.8"/>
<line x1="607.10" y1="112.74" x2="607.40" y2="112.74" stroke="#333" stroke-width="0.6"/>
<line x1="604.40" y1="112.74" x2="604.70" y2="112.74" stroke="#333" stroke-width="0.6"/>
<rect x="604.70" y="109.24" width="2.40" height="7.00" fill="#d76961" stroke="#333" stroke-width="0.6"/>
<line x1="606.00" y1="109.24" x2="606.00" y2="116.24" stroke="#333" stroke-width="0.8"/>
<line x1="576.90" y1="122.06" x2="578.90" y2="122.06" stroke="#333" stroke-width="0.8"/>
<line x1="598.30" y1="122.06" x2="599.30" y2="122.06" stroke="#333" stroke-width="0.6"/>
<line x1="596.00" y1="122.06" x2="596.40" y2="122.06" stroke="#333" stroke-width="0.6"/>
<rect x="596.40" y="118.56" width="1.90" height="7.00" fill="#b75c56" stroke="#333" stroke-width="0.6"/>
<line x1="597.30" y1="118.56" x2="597.30" y2="125.56" stroke="#333" stroke-width="0.8"/>
<line x1="576.90" y1="131.38" x2="578.90" y2="131.38" stroke="#333" stroke-width="0.8"/>
<line x1="591.90" y1="131.38" x2="593.00" y2="131.38" stroke="#333" stroke-width="0.6"/>
<line x1="589.70" y1="131.38" x2="590.00" y2="131.38" stroke="#333" stroke-width="0.6"/>
<rect x="590.00" y="127.88" width="1.90" height="7.00" fill="#b75c56" stroke="#333" stroke-width="0.6"/>
<line x1="591.00" y1="127.88" x2="591.00" y2="134.88" stroke="#333" stroke-width="0.8"/>
<line x1="576.90" y1="140.70" x2="578.90" y2="140.70" stroke="#333" stroke-width="0.8"/>
<line x1="615.10" y1="140.70" x2="616.50" y2="140.70" stroke="#333" stroke-width="0.6"/>
<line x1="611.30" y1="140.70" x2="612.90" y2="140.70" stroke="#333" stroke-width="0.6"/>
<rect x="612.90" y="137.20" width="2.20" height="7.00" fill="#d76961" stroke="#333" stroke-width="0.6"/>
<line x1="614.00" y1="137.20" x2="614.00" y2="144.20" stroke="#333" stroke-width="0.8"/>
<line x1="576.90" y1="150.02" x2="578.90" y2="150.02" stroke="#333" stroke-width="0.8"/>
<line x1="616.00" y1="150.02" x2="616.30" y2="150.02" stroke="#333" stroke-width="0.6"/>
<line x1="613.30" y1="150.02" x2="613.60" y2="150.02" stroke="#333" stroke-width="0.6"/>
<rect x="613.60" y="146.52" width="2.40" height="7.00" fill="#d76961" stroke="#333" stroke-width="0.6"/>
<line x1="614.70" y1="146.52" x2="614.70" y2="153.52" stroke="#333" stroke-width="0.8"/>
<line x1="576.90" y1="159.34" x2="578.90" y2="159.34" stroke="#333" stroke-width="0.8"/>
<line x1="612.00" y1="159.34" x2="613.20" y2="159.34" stroke="#333" stroke-width="0.6"/>
<line x1="608.00" y1="159.34" x2="608.50" y2="159.34" stroke="#333" stroke-width="0.6"/>
<rect x="608.50" y="155.84" width="3.50" height="7.00" fill="#d76961" stroke="#333" stroke-width="0.6"/>
<line x1="610.00" y1="155.84" x2="610.00" y2="162.84" stroke="#333" stroke-width="0.8"/>
<line x1="576.90" y1="168.66" x2="578.90" y2="168.66" stroke="#333" stroke-width="0.8"/>
<line x1="592.40" y1="168.66" x2="592.80" y2="168.66" stroke="#333" stroke-width="0.6"/>
<line x1="590.30" y1="168.66" x2="590.60" y2="168.66" stroke="#333" stroke-width="0.6"/>
<rect x="590.60" y="165.16" width="1.80" height="7.00" fill="#b75c56" stroke="#333" stroke-width="0.6"/>
<line x1="591.50" y1="165.16" x2="591.50" y2="172.16" stroke="#333" stroke-width="0.8"/>
<line x1="576.90" y1="177.98" x2="578.90" y2="177.98" stroke="#333" stroke-width="0.8"/>
<line x1="594.60" y1="177.98" x2="595.00" y2="177.98" stroke="#333" stroke-width="0.6"/>
<line x1="592.20" y1="177.98" x2="592.50" y2="177.98" stroke="#333" stroke-width="0.6"/>
<rect x="592.50" y="174.48" width="2.10" height="7.00" fill="#d76961" stroke="#333" stroke-width="0.6"/>
<line x1="593.60" y1="174.48" x2="593.60" y2="181.48" stroke="#333" stroke-width="0.8"/>
<line x1="576.90" y1="187.30" x2="578.90" y2="187.30" stroke="#333" stroke-width="0.8"/>
<line x1="612.30" y1="187.30" x2="612.80" y2="187.30" stroke="#333" stroke-width="0.6"/>
<line x1="609.80" y1="187.30" x2="610.20" y2="187.30" stroke="#333" stroke-width="0.6"/>
<rect x="610.20" y="183.80" width="2.10" height="7.00" fill="#d76961" stroke="#333" stroke-width="0.6"/>
<line x1="611.20" y1="183.80" x2="611.20" y2="190.80" stroke="#333" stroke-width="0.8"/>
<circle cx="615.00" cy="187.30" r="1.0" fill="#222"/>
<circle cx="616.40" cy="187.30" r="1.0" fill="#222"/>
<line x1="576.90" y1="196.62" x2="578.90" y2="196.62" stroke="#333" stroke-width="0.8"/>
<line x1="600.00" y1="196.62" x2="600.20" y2="196.62" stroke="#333" stroke-width="0.6"/>
<line x1="597.20" y1="196.62" x2="597.50" y2="196.62" stroke="#333" stroke-width="0.6"/>
<rect x="597.50" y="193.12" width="2.50" height="7.00" fill="#d76961" stroke="#333" stroke-width="0.6"/>
<line x1="598.70" y1="193.12" x2="598.70" y2="200.12" stroke="#333" stroke-width="0.8"/>
<line x1="576.90" y1="205.94" x2="578.90" y2="205.94" stroke="#333" stroke-width="0.8"/>
<line x1="604.40" y1="205.94" x2="604.60" y2="205.94" stroke="#333" stroke-width="0.6"/>
<line x1="601.80" y1="205.94" x2="602.00" y2="205.94" stroke="#333" stroke-width="0.6"/>
<rect x="602.00" y="202.44" width="2.40" height="7.00" fill="#d76961" stroke="#333" stroke-width="0.6"/>
<line x1="603.20" y1="202.44" x2="603.20" y2="209.44" stroke="#333" stroke-width="0.8"/>
<circle cx="600.10" cy="205.94" r="1.0" fill="#222"/>
<line x1="576.90" y1="215.26" x2="578.90" y2="215.26" stroke="#333" stroke-width="0.8"/>
<line x1="607.00" y1="215.26" x2="607.30" y2="215.26" stroke="#333" stroke-width="0.6"/>
<line x1="604.80" y1="215.26" x2="605.00" y2="215.26" stroke="#333" stroke-width="0.6"/>
<rect x="605.00" y="211.76" width="2.00" height="7.00" fill="#d76961" stroke="#333" stroke-width="0.6"/>
<line x1="606.00" y1="211.76" x2="606.00" y2="218.76" stroke="#333" stroke-width="0.8"/>
<circle cx="608.90" cy="215.26" r="1.0" fill="#222"/>
<line x1="576.90" y1="224.58" x2="578.90" y2="224.58" stroke="#333" stroke-width="0.8"/>
<line x1="617.40" y1="224.58" x2="617.60" y2="224.58" stroke="#333" stroke-width="0.6"/>
<line x1="614.50" y1="224.58" x2="614.70" y2="224.58" stroke="#333" stroke-width="0.6"/>
<rect x="614.70" y="221.08" width="2.70" height="7.00" fill="#d76961" stroke="#333" stroke-width="0.6"/>
<line x1="616.00" y1="221.08" x2="616.00" y2="228.08" stroke="#333" stroke-width="0.8"/>
<line x1="576.90" y1="233.90" x2="578.90" y2="233.90" stroke="#333" stroke-width="0.8"/>
<line x1="618.80" y1="233.90" x2="619.30" y2="233.90" stroke="#333" stroke-width="0.6"/>
<line x1="616.20" y1="233.90" x2="616.40" y2="233.90" stroke="#333" stroke-width="0.6"/>
<rect x="616.40" y="230.40" width="2.40" height="7.00" fill="#d76961" stroke="#333" stroke-width="0.6"/>
<line x1="617.60" y1="230.40" x2="617.60" y2="237.40" stroke="#333" stroke-width="0.8"/>
<circle cx="620.80" cy="233.90" r="1.0" fill="#222"/>
<line x1="576.90" y1="243.22" x2="578.90" y2="243.22" stroke="#333" stroke-width="0.8"/>
<line x1="586.50" y1="243.22" x2="587.20" y2="243.22" stroke="#333" stroke-width="0.6"/>
<line x1="585.20" y1="243.22" x2="585.50" y2="243.22" stroke="#333" stroke-width="0.6"/>
<rect x="585.50" y="239.72" width="1.00" height="7.00" fill="#4e77bc" stroke="#333" stroke-width="0.6"/>
<line x1="586.00" y1="239.72" x2="586.00" y2="246.72" stroke="#333" stroke-width="0.8"/>
<line x1="576.90" y1="252.54" x2="578.90" y2="252.54" stroke="#333" stroke-width="0.8"/>
<line x1="584.30" y1="252.54" x2="584.50" y2="252.54" stroke="#333" stroke-width="0.6"/>
<line x1="583.00" y1="252.54" x2="583.20" y2="252.54" stroke="#333" stroke-width="0.6"/>
<rect x="583.20" y="249.04" width="1.10" height="7.00" fill="#4e77bc" stroke="#333" stroke-width="0.6"/>
<line x1="583.70" y1="249.04" x2="583.70" y2="256.04" stroke="#333" stroke-width="0.8"/>
<line x1="576.90" y1="261.86" x2="578.90" y2="261.86" stroke="#333" stroke-width="0.8"/>
<line x1="587.60" y1="261.86" x2="587.80" y2="261.86" stroke="#333" stroke-width="0.6"/>
<line x1="586.30" y1="261.86" x2="586.50" y2="261.86" stroke="#333" stroke-width="0.6"/>
<rect x="586.50" y="258.36" width="1.10" height="7.00" fill="#4e77bc" stroke="#333" stroke-width="0.6"/>
<line x1="587.00" y1="258.36" x2="587.00" y2="265.36" stroke="#333" stroke-width="0.8"/>
<line x1="576.90" y1="271.18" x2="578.90" y2="271.18" stroke="#333" stroke-width="0.8"/>
<line x1="590.70" y1="271.18" x2="590.90" y2="271.18" stroke="#333" stroke-width="0.6"/>
<line x1="588.80" y1="271.18" x2="589.00" y2="271.18" stroke="#333" stroke-width="0.6"/>
<rect x="589.00" y="267.68" width="1.70" height="7.00" fill="#0a8c31" stroke="#333" stroke-width="0.6"/>
<line x1="589.80" y1="267.68" x2="589.80" y2="274.68" stroke="#333" stroke-width="0.8"/>
<line x1="576.90" y1="280.50" x2="578.90" y2="280.50" stroke="#333" stroke-width="0.8"/>
<line x1="584.30" y1="280.50" x2="584.50" y2="280.50" stroke="#333" stroke-width="0.6"/>
<rect x="583.00" y="277.00" width="1.30" height="7.00" fill="#0a8c31" stroke="#333" stroke-width="0.6"/>
<line x1="583.60" y1="277.00" x2="583.60" y2="284.00" stroke="#333" stroke-width="0.8"/>
<line x1="576.90" y1="289.82" x2="578.90" y2="289.82" stroke="#333" stroke-width="0.8"/>
<line x1="583.40" y1="289.82" x2="583.60" y2="289.82" stroke="#333" stroke-width="0.6"/>
<rect x="583.00" y="286.32" width="0.40" height="7.00" fill="#0a8c31" stroke="#333" stroke-width="0.6"/>
<line x1="583.20" y1="286.32" x2="583.20" y2="293.32" stroke="#333" stroke-width="0.8"/>
<line x1="576.90" y1="299.14" x2="578.90" y2="299.14" stroke="#333" stroke-width="0.8"/>
<line x1="584.80" y1="299.14" x2="585.00" y2="299.14" stroke="#333" stroke-width="0.6"/>
<line x1="583.60" y1="299.14" x2="583.80" y2="299.14" stroke="#333" stroke-width="0.6"/>
<rect x="583.80" y="295.64" width="1.00" height="7.00" fill="#0a8c31" stroke="#333" stroke-width="0.6"/>
<line x1="584.30" y1="295.64" x2="584.30" y2="302.64" stroke="#333" stroke-width="0.8"/>
<line x1="576.90" y1="308.46" x2="578.90" y2="308.46" stroke="#333" stroke-width="0.8"/>
<line x1="590.00" y1="308.46" x2="590.30" y2="308.46" stroke="#333" stroke-width="0.6"/>
<line x1="588.00" y1="308.46" x2="588.20" y2="308.46" stroke="#333" stroke-width="0.6"/>
<rect x="588.20" y="304.96" width="1.80" height="7.00" fill="#0a8c31" stroke="#333" stroke-width="0.6"/>
<line x1="589.10" y1="304.96" x2="589.10" y2="311.96" stroke="#333" stroke-width="0.8"/>
<line x1="578.60" y1="313.70" x2="685.00" y2="313.70" stroke="#333" stroke-width="0.9"/>
<line x1="583.80" y1="313.70" x2="583.80" y2="315.80" stroke="#333" stroke-width="0.8"/>
<text x="583.80" y="322.40" font-size="5.6" fill="#333" text-anchor="middle" stroke="#333" stroke-width="0.140">0</text>
<line x1="606.80" y1="313.70" x2="606.80" y2="315.80" stroke="#333" stroke-width="0.8"/>
<text x="606.80" y="322.40" font-size="5.6" fill="#333" text-anchor="middle" stroke="#333" stroke-width="0.140">25</text>
<line x1="630.80" y1="313.70" x2="630.80" y2="315.80" stroke="#333" stroke-width="0.8"/>
<text x="630.80" y="322.40" font-size="5.6" fill="#333" text-anchor="middle" stroke="#333" stroke-width="0.140">50</text>
<line x1="654.10" y1="313.70" x2="654.10" y2="315.80" stroke="#333" stroke-width="0.8"/>
<text x="654.10" y="322.40" font-size="5.6" fill="#333" text-anchor="middle" stroke="#333" stroke-width="0.140">75</text>
<line x1="677.10" y1="313.70" x2="677.10" y2="315.80" stroke="#333" stroke-width="0.8"/>
<text x="677.10" y="322.40" font-size="5.6" fill="#333" text-anchor="middle" stroke="#333" stroke-width="0.140">100</text>
<text x="527.20" y="333.30" font-size="8.2" fill="#111" text-anchor="middle" stroke="#111" stroke-width="0.205">Variance explained (%)</text>
<rect x="615.80" y="283.85" width="6.90" height="5.50" fill="#F8766D" stroke="#333" stroke-width="0.6"/>
<text x="626.70" y="289.00" font-size="6.85" fill="#111" text-anchor="start" stroke="#111" stroke-width="0.171">Immune cells</text>
<rect x="615.80" y="293.70" width="6.90" height="5.50" fill="#619CFF" stroke="#333" stroke-width="0.6"/>
<text x="626.70" y="298.85" font-size="6.85" fill="#111" text-anchor="start" stroke="#111" stroke-width="0.171">Antibody isotypes</text>
<rect x="615.80" y="303.55" width="6.90" height="5.50" fill="#00BA38" stroke="#333" stroke-width="0.6"/>
<text x="626.70" y="308.70" font-size="6.85" fill="#111" text-anchor="start" stroke="#111" stroke-width="0.171">Cytokines</text>
<text x="156.40" y="351.20" font-size="7.6" fill="#111" text-anchor="middle" stroke="#111" stroke-width="0.190">Genetics</text>
<line x1="118.10" y1="354.90" x2="194.20" y2="354.90" stroke="#b3b3b3" stroke-width="1.3"/>
<text x="277.40" y="351.20" font-size="7.6" fill="#111" text-anchor="middle" stroke="#111" stroke-width="0.190">Age</text>
<line x1="236.60" y1="354.90" x2="312.90" y2="354.90" stroke="#b3b3b3" stroke-width="1.3"/>
<text x="391.90" y="351.20" font-size="7.6" fill="#111" text-anchor="middle" stroke="#111" stroke-width="0.190">Season</text>
<line x1="354.00" y1="354.90" x2="430.00" y2="354.90" stroke="#b3b3b3" stroke-width="1.3"/>
<text x="502.70" y="351.20" font-size="7.6" fill="#111" text-anchor="middle" stroke="#111" stroke-width="0.190">Cells</text>
<line x1="469.90" y1="354.90" x2="545.80" y2="354.90" stroke="#b3b3b3" stroke-width="1.3"/>
<text x="620.20" y="351.20" font-size="7.6" fill="#111" text-anchor="middle" stroke="#111" stroke-width="0.190">Igs</text>
<line x1="586.60" y1="354.90" x2="662.50" y2="354.90" stroke="#b3b3b3" stroke-width="1.3"/>
<text x="102.00" y="374.95" font-size="4.3" fill="#2a2a2a" text-anchor="end" stroke="#2a2a2a" stroke-width="0.107">IL6_ssRNA</text>
<text x="102.00" y="378.95" font-size="4.3" fill="#2a2a2a" text-anchor="end" stroke="#2a2a2a" stroke-width="0.107">IL6_P.multocida</text>
<text x="102.00" y="382.95" font-size="4.3" fill="#2a2a2a" text-anchor="end" stroke="#2a2a2a" stroke-width="0.107">IL6_Pam3Csk4</text>
<text x="102.00" y="386.95" font-size="4.3" fill="#2a2a2a" text-anchor="end" stroke="#2a2a2a" stroke-width="0.107">IL6_M.haemolytica</text>
<text x="102.00" y="390.95" font-size="4.3" fill="#2a2a2a" text-anchor="end" stroke="#2a2a2a" stroke-width="0.107">IL6_lps</text>
<text x="102.00" y="394.95" font-size="4.3" fill="#2a2a2a" text-anchor="end" stroke="#2a2a2a" stroke-width="0.107">IL6_imiquimod</text>
<text x="102.00" y="398.95" font-size="4.3" fill="#2a2a2a" text-anchor="end" stroke="#2a2a2a" stroke-width="0.107">IL6_HKMT</text>
<text x="102.00" y="402.95" font-size="4.3" fill="#2a2a2a" text-anchor="end" stroke="#2a2a2a" stroke-width="0.107">IL6_HKLM</text>
<text x="102.00" y="406.95" font-size="4.3" fill="#2a2a2a" text-anchor="end" stroke="#2a2a2a" stroke-width="0.107">IL6_flagellin</text>
<text x="102.00" y="410.95" font-size="4.3" fill="#2a2a2a" text-anchor="end" stroke="#2a2a2a" stroke-width="0.107">IL6_A.fumigatus</text>
<text x="102.00" y="414.95" font-size="4.3" fill="#2a2a2a" text-anchor="end" stroke="#2a2a2a" stroke-width="0.107">IL1β_ssRNA</text>
<text x="102.00" y="418.95" font-size="4.3" fill="#2a2a2a" text-anchor="end" stroke="#2a2a2a" stroke-width="0.107">IL1β_PMAio</text>
<text x="102.00" y="422.95" font-size="4.3" fill="#2a2a2a" text-anchor="end" stroke="#2a2a2a" stroke-width="0.107">IL1β_P.multocida</text>
<text x="102.00" y="426.95" font-size="4.3" fill="#2a2a2a" text-anchor="end" stroke="#2a2a2a" stroke-width="0.107">IL1β_Pam3Csk4</text>
<text x="102.00" y="430.95" font-size="4.3" fill="#2a2a2a" text-anchor="end" stroke="#2a2a2a" stroke-width="0.107">IL1β_M.haemolytica</text>
<text x="102.00" y="434.95" font-size="4.3" fill="#2a2a2a" text-anchor="end" stroke="#2a2a2a" stroke-width="0.107">IL1β_lps</text>
<text x="102.00" y="438.95" font-size="4.3" fill="#2a2a2a" text-anchor="end" stroke="#2a2a2a" stroke-width="0.107">IL1β_imiquimod</text>
<text x="102.00" y="442.95" font-size="4.3" fill="#2a2a2a" text-anchor="end" stroke="#2a2a2a" stroke-width="0.107">IL1β_HKMT</text>
<text x="102.00" y="446.95" font-size="4.3" fill="#2a2a2a" text-anchor="end" stroke="#2a2a2a" stroke-width="0.107">IL1β_HKLM</text>
<text x="102.00" y="450.95" font-size="4.3" fill="#2a2a2a" text-anchor="end" stroke="#2a2a2a" stroke-width="0.107">IL1β_flagellin</text>
<text x="102.00" y="454.95" font-size="4.3" fill="#2a2a2a" text-anchor="end" stroke="#2a2a2a" stroke-width="0.107">IL1β_A.fumigatus</text>
<text x="102.00" y="458.95" font-size="4.3" fill="#2a2a2a" text-anchor="end" stroke="#2a2a2a" stroke-width="0.107">IL17_PMAio</text>
<text x="102.00" y="462.95" font-size="4.3" fill="#2a2a2a" text-anchor="end" stroke="#2a2a2a" stroke-width="0.107">IL17_M.haemolytica</text>
<text x="102.00" y="466.95" font-size="4.3" fill="#2a2a2a" text-anchor="end" stroke="#2a2a2a" stroke-width="0.107">IL17_HKLM</text>
<text x="102.00" y="470.95" font-size="4.3" fill="#2a2a2a" text-anchor="end" stroke="#2a2a2a" stroke-width="0.107">IL17_A.fumigatus</text>
<text x="102.00" y="474.95" font-size="4.3" fill="#2a2a2a" text-anchor="end" stroke="#2a2a2a" stroke-width="0.107">IL10_ssRNA</text>
<text x="102.00" y="478.95" font-size="4.3" fill="#2a2a2a" text-anchor="end" stroke="#2a2a2a" stroke-width="0.107">IL10_PolyIC</text>
<text x="102.00" y="482.95" font-size="4.3" fill="#2a2a2a" text-anchor="end" stroke="#2a2a2a" stroke-width="0.107">IL10_PMAio</text>
<text x="102.00" y="486.95" font-size="4.3" fill="#2a2a2a" text-anchor="end" stroke="#2a2a2a" stroke-width="0.107">IL10_P.multocida</text>
<text x="102.00" y="490.95" font-size="4.3" fill="#2a2a2a" text-anchor="end" stroke="#2a2a2a" stroke-width="0.107">IL10_Pam3Csk4</text>
<text x="102.00" y="494.95" font-size="4.3" fill="#2a2a2a" text-anchor="end" stroke="#2a2a2a" stroke-width="0.107">IL10_M.haemolytica</text>
<text x="102.00" y="498.95" font-size="4.3" fill="#2a2a2a" text-anchor="end" stroke="#2a2a2a" stroke-width="0.107">IL10_lps</text>
<text x="102.00" y="502.95" font-size="4.3" fill="#2a2a2a" text-anchor="end" stroke="#2a2a2a" stroke-width="0.107">IL10_imiquimod</text>
<text x="102.00" y="506.95" font-size="4.3" fill="#2a2a2a" text-anchor="end" stroke="#2a2a2a" stroke-width="0.107">IL10_HKMT</text>
<text x="102.00" y="510.95" font-size="4.3" fill="#2a2a2a" text-anchor="end" stroke="#2a2a2a" stroke-width="0.107">IL10_HKLM</text>
<text x="102.00" y="514.95" font-size="4.3" fill="#2a2a2a" text-anchor="end" stroke="#2a2a2a" stroke-width="0.107">IL10_flagellin</text>
<text x="102.00" y="518.95" font-size="4.3" fill="#2a2a2a" text-anchor="end" stroke="#2a2a2a" stroke-width="0.107">IL10_BoHV4</text>
<text x="102.00" y="522.95" font-size="4.3" fill="#2a2a2a" text-anchor="end" stroke="#2a2a2a" stroke-width="0.107">IL10_A.fumigatus</text>
<text x="102.00" y="526.95" font-size="4.3" fill="#2a2a2a" text-anchor="end" stroke="#2a2a2a" stroke-width="0.107">IFNγ_ssRNA</text>
<text x="102.00" y="530.95" font-size="4.3" fill="#2a2a2a" text-anchor="end" stroke="#2a2a2a" stroke-width="0.107">IFNγ_PMAio</text>
<text x="102.00" y="534.95" font-size="4.3" fill="#2a2a2a" text-anchor="end" stroke="#2a2a2a" stroke-width="0.107">IFNγ_imiquimod</text>
<text x="102.00" y="538.95" font-size="4.3" fill="#2a2a2a" text-anchor="end" stroke="#2a2a2a" stroke-width="0.107">IFNγ_A.fumigatus</text>
<text x="102.00" y="542.95" font-size="4.3" fill="#2a2a2a" text-anchor="end" stroke="#2a2a2a" stroke-width="0.107">IL6_ssRNA</text>
<text x="102.00" y="546.95" font-size="4.3" fill="#2a2a2a" text-anchor="end" stroke="#2a2a2a" stroke-width="0.107">IL6_PolyIC</text>
<text x="102.00" y="550.95" font-size="4.3" fill="#2a2a2a" text-anchor="end" stroke="#2a2a2a" stroke-width="0.107">IL6_PMAio</text>
<text x="102.00" y="554.95" font-size="4.3" fill="#2a2a2a" text-anchor="end" stroke="#2a2a2a" stroke-width="0.107">IL6_P.multocida</text>
<text x="102.00" y="558.95" font-size="4.3" fill="#2a2a2a" text-anchor="end" stroke="#2a2a2a" stroke-width="0.107">IL6_Pam3Csk4</text>
<text x="102.00" y="562.95" font-size="4.3" fill="#2a2a2a" text-anchor="end" stroke="#2a2a2a" stroke-width="0.107">IL6_M.haemolytica</text>
<text x="102.00" y="566.95" font-size="4.3" fill="#2a2a2a" text-anchor="end" stroke="#2a2a2a" stroke-width="0.107">IL6_lps</text>
<text x="102.00" y="570.95" font-size="4.3" fill="#2a2a2a" text-anchor="end" stroke="#2a2a2a" stroke-width="0.107">IL6_imiquimod</text>
<text x="102.00" y="574.95" font-size="4.3" fill="#2a2a2a" text-anchor="end" stroke="#2a2a2a" stroke-width="0.107">IL6_HKMT</text>
<text x="102.00" y="578.95" font-size="4.3" fill="#2a2a2a" text-anchor="end" stroke="#2a2a2a" stroke-width="0.107">IL6_HKLM</text>
<text x="102.00" y="582.95" font-size="4.3" fill="#2a2a2a" text-anchor="end" stroke="#2a2a2a" stroke-width="0.107">IL6_flagellin</text>
<text x="102.00" y="586.95" font-size="4.3" fill="#2a2a2a" text-anchor="end" stroke="#2a2a2a" stroke-width="0.107">IL6_BoHV4</text>
<text x="102.00" y="590.95" font-size="4.3" fill="#2a2a2a" text-anchor="end" stroke="#2a2a2a" stroke-width="0.107">IL6_A.fumigatus</text>
<text x="102.00" y="594.95" font-size="4.3" fill="#2a2a2a" text-anchor="end" stroke="#2a2a2a" stroke-width="0.107">IL4_PMAio</text>
<text x="102.00" y="598.95" font-size="4.3" fill="#2a2a2a" text-anchor="end" stroke="#2a2a2a" stroke-width="0.107">IL1β_ssRNA</text>
<text x="102.00" y="602.95" font-size="4.3" fill="#2a2a2a" text-anchor="end" stroke="#2a2a2a" stroke-width="0.107">IL1β_PolyIC</text>
<text x="102.00" y="606.95" font-size="4.3" fill="#2a2a2a" text-anchor="end" stroke="#2a2a2a" stroke-width="0.107">IL1β_PMAio</text>
<text x="102.00" y="610.95" font-size="4.3" fill="#2a2a2a" text-anchor="end" stroke="#2a2a2a" stroke-width="0.107">IL1β_P.multocida</text>
<text x="102.00" y="614.95" font-size="4.3" fill="#2a2a2a" text-anchor="end" stroke="#2a2a2a" stroke-width="0.107">IL1β_Pam3Csk4</text>
<text x="102.00" y="618.95" font-size="4.3" fill="#2a2a2a" text-anchor="end" stroke="#2a2a2a" stroke-width="0.107">IL1β_M.haemolytica</text>
<text x="102.00" y="622.95" font-size="4.3" fill="#2a2a2a" text-anchor="end" stroke="#2a2a2a" stroke-width="0.107">IL1β_lps</text>
<text x="102.00" y="626.95" font-size="4.3" fill="#2a2a2a" text-anchor="end" stroke="#2a2a2a" stroke-width="0.107">IL1β_imiquimod</text>
<text x="102.00" y="630.95" font-size="4.3" fill="#2a2a2a" text-anchor="end" stroke="#2a2a2a" stroke-width="0.107">IL1β_HKMT</text>
<text x="102.00" y="634.95" font-size="4.3" fill="#2a2a2a" text-anchor="end" stroke="#2a2a2a" stroke-width="0.107">IL1β_HKLM</text>
<text x="102.00" y="638.95" font-size="4.3" fill="#2a2a2a" text-anchor="end" stroke="#2a2a2a" stroke-width="0.107">IL1β_flagellin</text>
<text x="102.00" y="642.95" font-size="4.3" fill="#2a2a2a" text-anchor="end" stroke="#2a2a2a" stroke-width="0.107">IL1β_BoHV4</text>
<text x="102.00" y="646.95" font-size="4.3" fill="#2a2a2a" text-anchor="end" stroke="#2a2a2a" stroke-width="0.107">IL1β_A.fumigatus</text>
<text x="102.00" y="650.95" font-size="4.3" fill="#2a2a2a" text-anchor="end" stroke="#2a2a2a" stroke-width="0.107">IL17_ssRNA</text>
<text x="102.00" y="654.95" font-size="4.3" fill="#2a2a2a" text-anchor="end" stroke="#2a2a2a" stroke-width="0.107">IL17_PMAio</text>
<text x="102.00" y="658.95" font-size="4.3" fill="#2a2a2a" text-anchor="end" stroke="#2a2a2a" stroke-width="0.107">IL17_P.multocida</text>
<text x="102.00" y="662.95" font-size="4.3" fill="#2a2a2a" text-anchor="end" stroke="#2a2a2a" stroke-width="0.107">IL17_Pam3Csk4</text>
<text x="102.00" y="666.95" font-size="4.3" fill="#2a2a2a" text-anchor="end" stroke="#2a2a2a" stroke-width="0.107">IL17_M.haemolytica</text>
<text x="102.00" y="670.95" font-size="4.3" fill="#2a2a2a" text-anchor="end" stroke="#2a2a2a" stroke-width="0.107">IL17_lps</text>
<text x="102.00" y="674.95" font-size="4.3" fill="#2a2a2a" text-anchor="end" stroke="#2a2a2a" stroke-width="0.107">IL17_HKMT</text>
<text x="102.00" y="678.95" font-size="4.3" fill="#2a2a2a" text-anchor="end" stroke="#2a2a2a" stroke-width="0.107">IL17_HKLM</text>
<text x="102.00" y="682.95" font-size="4.3" fill="#2a2a2a" text-anchor="end" stroke="#2a2a2a" stroke-width="0.107">IL17_flagellin</text>
<text x="102.00" y="686.95" font-size="4.3" fill="#2a2a2a" text-anchor="end" stroke="#2a2a2a" stroke-width="0.107">IL17_A.fumigatus</text>
<text x="102.00" y="690.95" font-size="4.3" fill="#2a2a2a" text-anchor="end" stroke="#2a2a2a" stroke-width="0.107">IL10_ssRNA</text>
<text x="102.00" y="694.95" font-size="4.3" fill="#2a2a2a" text-anchor="end" stroke="#2a2a2a" stroke-width="0.107">IL10_PolyIC</text>
<text x="102.00" y="698.95" font-size="4.3" fill="#2a2a2a" text-anchor="end" stroke="#2a2a2a" stroke-width="0.107">IL10_PMAio</text>
<text x="102.00" y="702.95" font-size="4.3" fill="#2a2a2a" text-anchor="end" stroke="#2a2a2a" stroke-width="0.107">IL10_P.multocida</text>
<text x="102.00" y="706.95" font-size="4.3" fill="#2a2a2a" text-anchor="end" stroke="#2a2a2a" stroke-width="0.107">IL10_Pam3Csk4</text>
<text x="102.00" y="710.95" font-size="4.3" fill="#2a2a2a" text-anchor="end" stroke="#2a2a2a" stroke-width="0.107">IL10_M.haemolytica</text>
<text x="102.00" y="714.95" font-size="4.3" fill="#2a2a2a" text-anchor="end" stroke="#2a2a2a" stroke-width="0.107">IL10_lps</text>
<text x="102.00" y="718.95" font-size="4.3" fill="#2a2a2a" text-anchor="end" stroke="#2a2a2a" stroke-width="0.107">IL10_imiquimod</text>
<text x="102.00" y="722.95" font-size="4.3" fill="#2a2a2a" text-anchor="end" stroke="#2a2a2a" stroke-width="0.107">IL10_HKMT</text>
<text x="102.00" y="726.95" font-size="4.3" fill="#2a2a2a" text-anchor="end" stroke="#2a2a2a" stroke-width="0.107">IL10_HKLM</text>
<text x="102.00" y="730.95" font-size="4.3" fill="#2a2a2a" text-anchor="end" stroke="#2a2a2a" stroke-width="0.107">IL10_flagellin</text>
<text x="102.00" y="734.95" font-size="4.3" fill="#2a2a2a" text-anchor="end" stroke="#2a2a2a" stroke-width="0.107">IL10_BoHV4</text>
<text x="102.00" y="738.95" font-size="4.3" fill="#2a2a2a" text-anchor="end" stroke="#2a2a2a" stroke-width="0.107">IL10_A.fumigatus</text>
<text x="102.00" y="742.95" font-size="4.3" fill="#2a2a2a" text-anchor="end" stroke="#2a2a2a" stroke-width="0.107">IFNγ_ssRNA</text>
<text x="102.00" y="746.95" font-size="4.3" fill="#2a2a2a" text-anchor="end" stroke="#2a2a2a" stroke-width="0.107">IFNγ_PMAio</text>
<text x="102.00" y="750.95" font-size="4.3" fill="#2a2a2a" text-anchor="end" stroke="#2a2a2a" stroke-width="0.107">IFNγ_P.multocida</text>
<text x="102.00" y="754.95" font-size="4.3" fill="#2a2a2a" text-anchor="end" stroke="#2a2a2a" stroke-width="0.107">IFNγ_Pam3Csk4</text>
<text x="102.00" y="758.95" font-size="4.3" fill="#2a2a2a" text-anchor="end" stroke="#2a2a2a" stroke-width="0.107">IFNγ_M.haemolytica</text>
<text x="102.00" y="762.95" font-size="4.3" fill="#2a2a2a" text-anchor="end" stroke="#2a2a2a" stroke-width="0.107">IFNγ_lps</text>
<text x="102.00" y="766.95" font-size="4.3" fill="#2a2a2a" text-anchor="end" stroke="#2a2a2a" stroke-width="0.107">IFNγ_imiquimod</text>
<text x="102.00" y="770.95" font-size="4.3" fill="#2a2a2a" text-anchor="end" stroke="#2a2a2a" stroke-width="0.107">IFNγ_HKMT</text>
<text x="102.00" y="774.95" font-size="4.3" fill="#2a2a2a" text-anchor="end" stroke="#2a2a2a" stroke-width="0.107">IFNγ_HKLM</text>
<text x="102.00" y="778.95" font-size="4.3" fill="#2a2a2a" text-anchor="end" stroke="#2a2a2a" stroke-width="0.107">IFNγ_flagellin</text>
<text x="102.00" y="782.95" font-size="4.3" fill="#2a2a2a" text-anchor="end" stroke="#2a2a2a" stroke-width="0.107">IFNγ_BoHV4</text>
<text x="102.00" y="786.95" font-size="4.3" fill="#2a2a2a" text-anchor="end" stroke="#2a2a2a" stroke-width="0.107">IFNγ_A.fumigatus</text>
<line x1="103.70" y1="373.50" x2="105.90" y2="373.50" stroke="#444" stroke-width="0.7"/>
<line x1="103.70" y1="377.50" x2="105.90" y2="377.50" stroke="#444" stroke-width="0.7"/>
<line x1="103.70" y1="381.50" x2="105.90" y2="381.50" stroke="#444" stroke-width="0.7"/>
<line x1="103.70" y1="385.50" x2="105.90" y2="385.50" stroke="#444" stroke-width="0.7"/>
<line x1="103.70" y1="389.50" x2="105.90" y2="389.50" stroke="#444" stroke-width="0.7"/>
<line x1="103.70" y1="393.50" x2="105.90" y2="393.50" stroke="#444" stroke-width="0.7"/>
<line x1="103.70" y1="397.50" x2="105.90" y2="397.50" stroke="#444" stroke-width="0.7"/>
<line x1="103.70" y1="401.50" x2="105.90" y2="401.50" stroke="#444" stroke-width="0.7"/>
<line x1="103.70" y1="405.50" x2="105.90" y2="405.50" stroke="#444" stroke-width="0.7"/>
<line x1="103.70" y1="409.50" x2="105.90" y2="409.50" stroke="#444" stroke-width="0.7"/>
<line x1="103.70" y1="413.50" x2="105.90" y2="413.50" stroke="#444" stroke-width="0.7"/>
<line x1="103.70" y1="417.50" x2="105.90" y2="417.50" stroke="#444" stroke-width="0.7"/>
<line x1="103.70" y1="421.50" x2="105.90" y2="421.50" stroke="#444" stroke-width="0.7"/>
<line x1="103.70" y1="425.50" x2="105.90" y2="425.50" stroke="#444" stroke-width="0.7"/>
<line x1="103.70" y1="429.50" x2="105.90" y2="429.50" stroke="#444" stroke-width="0.7"/>
<line x1="103.70" y1="433.50" x2="105.90" y2="433.50" stroke="#444" stroke-width="0.7"/>
<line x1="103.70" y1="437.50" x2="105.90" y2="437.50" stroke="#444" stroke-width="0.7"/>
<line x1="103.70" y1="441.50" x2="105.90" y2="441.50" stroke="#444" stroke-width="0.7"/>
<line x1="103.70" y1="445.50" x2="105.90" y2="445.50" stroke="#444" stroke-width="0.7"/>
<line x1="103.70" y1="449.50" x2="105.90" y2="449.50" stroke="#444" stroke-width="0.7"/>
<line x1="103.70" y1="453.50" x2="105.90" y2="453.50" stroke="#444" stroke-width="0.7"/>
<line x1="103.70" y1="457.50" x2="105.90" y2="457.50" stroke="#444" stroke-width="0.7"/>
<line x1="103.70" y1="461.50" x2="105.90" y2="461.50" stroke="#444" stroke-width="0.7"/>
<line x1="103.70" y1="465.50" x2="105.90" y2="465.50" stroke="#444" stroke-width="0.7"/>
<line x1="103.70" y1="469.50" x2="105.90" y2="469.50" stroke="#444" stroke-width="0.7"/>
<line x1="103.70" y1="473.50" x2="105.90" y2="473.50" stroke="#444" stroke-width="0.7"/>
<line x1="103.70" y1="477.50" x2="105.90" y2="477.50" stroke="#444" stroke-width="0.7"/>
<line x1="103.70" y1="481.50" x2="105.90" y2="481.50" stroke="#444" stroke-width="0.7"/>
<line x1="103.70" y1="485.50" x2="105.90" y2="485.50" stroke="#444" stroke-width="0.7"/>
<line x1="103.70" y1="489.50" x2="105.90" y2="489.50" stroke="#444" stroke-width="0.7"/>
<line x1="103.70" y1="493.50" x2="105.90" y2="493.50" stroke="#444" stroke-width="0.7"/>
<line x1="103.70" y1="497.50" x2="105.90" y2="497.50" stroke="#444" stroke-width="0.7"/>
<line x1="103.70" y1="501.50" x2="105.90" y2="501.50" stroke="#444" stroke-width="0.7"/>
<line x1="103.70" y1="505.50" x2="105.90" y2="505.50" stroke="#444" stroke-width="0.7"/>
<line x1="103.70" y1="509.50" x2="105.90" y2="509.50" stroke="#444" stroke-width="0.7"/>
<line x1="103.70" y1="513.50" x2="105.90" y2="513.50" stroke="#444" stroke-width="0.7"/>
<line x1="103.70" y1="517.50" x2="105.90" y2="517.50" stroke="#444" stroke-width="0.7"/>
<line x1="103.70" y1="521.50" x2="105.90" y2="521.50" stroke="#444" stroke-width="0.7"/>
<line x1="103.70" y1="525.50" x2="105.90" y2="525.50" stroke="#444" stroke-width="0.7"/>
<line x1="103.70" y1="529.50" x2="105.90" y2="529.50" stroke="#444" stroke-width="0.7"/>
<line x1="103.70" y1="533.50" x2="105.90" y2="533.50" stroke="#444" stroke-width="0.7"/>
<line x1="103.70" y1="537.50" x2="105.90" y2="537.50" stroke="#444" stroke-width="0.7"/>
<line x1="103.70" y1="541.50" x2="105.90" y2="541.50" stroke="#444" stroke-width="0.7"/>
<line x1="103.70" y1="545.50" x2="105.90" y2="545.50" stroke="#444" stroke-width="0.7"/>
<line x1="103.70" y1="549.50" x2="105.90" y2="549.50" stroke="#444" stroke-width="0.7"/>
<line x1="103.70" y1="553.50" x2="105.90" y2="553.50" stroke="#444" stroke-width="0.7"/>
<line x1="103.70" y1="557.50" x2="105.90" y2="557.50" stroke="#444" stroke-width="0.7"/>
<line x1="103.70" y1="561.50" x2="105.90" y2="561.50" stroke="#444" stroke-width="0.7"/>
<line x1="103.70" y1="565.50" x2="105.90" y2="565.50" stroke="#444" stroke-width="0.7"/>
<line x1="103.70" y1="569.50" x2="105.90" y2="569.50" stroke="#444" stroke-width="0.7"/>
<line x1="103.70" y1="573.50" x2="105.90" y2="573.50" stroke="#444" stroke-width="0.7"/>
<line x1="103.70" y1="577.50" x2="105.90" y2="577.50" stroke="#444" stroke-width="0.7"/>
<line x1="103.70" y1="581.50" x2="105.90" y2="581.50" stroke="#444" stroke-width="0.7"/>
<line x1="103.70" y1="585.50" x2="105.90" y2="585.50" stroke="#444" stroke-width="0.7"/>
<line x1="103.70" y1="589.50" x2="105.90" y2="589.50" stroke="#444" stroke-width="0.7"/>
<line x1="103.70" y1="593.50" x2="105.90" y2="593.50" stroke="#444" stroke-width="0.7"/>
<line x1="103.70" y1="597.50" x2="105.90" y2="597.50" stroke="#444" stroke-width="0.7"/>
<line x1="103.70" y1="601.50" x2="105.90" y2="601.50" stroke="#444" stroke-width="0.7"/>
<line x1="103.70" y1="605.50" x2="105.90" y2="605.50" stroke="#444" stroke-width="0.7"/>
<line x1="103.70" y1="609.50" x2="105.90" y2="609.50" stroke="#444" stroke-width="0.7"/>
<line x1="103.70" y1="613.50" x2="105.90" y2="613.50" stroke="#444" stroke-width="0.7"/>
<line x1="103.70" y1="617.50" x2="105.90" y2="617.50" stroke="#444" stroke-width="0.7"/>
<line x1="103.70" y1="621.50" x2="105.90" y2="621.50" stroke="#444" stroke-width="0.7"/>
<line x1="103.70" y1="625.50" x2="105.90" y2="625.50" stroke="#444" stroke-width="0.7"/>
<line x1="103.70" y1="629.50" x2="105.90" y2="629.50" stroke="#444" stroke-width="0.7"/>
<line x1="103.70" y1="633.50" x2="105.90" y2="633.50" stroke="#444" stroke-width="0.7"/>
<line x1="103.70" y1="637.50" x2="105.90" y2="637.50" stroke="#444" stroke-width="0.7"/>
<line x1="103.70" y1="641.50" x2="105.90" y2="641.50" stroke="#444" stroke-width="0.7"/>
<line x1="103.70" y1="645.50" x2="105.90" y2="645.50" stroke="#444" stroke-width="0.7"/>
<line x1="103.70" y1="649.50" x2="105.90" y2="649.50" stroke="#444" stroke-width="0.7"/>
<line x1="103.70" y1="653.50" x2="105.90" y2="653.50" stroke="#444" stroke-width="0.7"/>
<line x1="103.70" y1="657.50" x2="105.90" y2="657.50" stroke="#444" stroke-width="0.7"/>
<line x1="103.70" y1="661.50" x2="105.90" y2="661.50" stroke="#444" stroke-width="0.7"/>
<line x1="103.70" y1="665.50" x2="105.90" y2="665.50" stroke="#444" stroke-width="0.7"/>
<line x1="103.70" y1="669.50" x2="105.90" y2="669.50" stroke="#444" stroke-width="0.7"/>
<line x1="103.70" y1="673.50" x2="105.90" y2="673.50" stroke="#444" stroke-width="0.7"/>
<line x1="103.70" y1="677.50" x2="105.90" y2="677.50" stroke="#444" stroke-width="0.7"/>
<line x1="103.70" y1="681.50" x2="105.90" y2="681.50" stroke="#444" stroke-width="0.7"/>
<line x1="103.70" y1="685.50" x2="105.90" y2="685.50" stroke="#444" stroke-width="0.7"/>
<line x1="103.70" y1="689.50" x2="105.90" y2="689.50" stroke="#444" stroke-width="0.7"/>
<line x1="103.70" y1="693.50" x2="105.90" y2="693.50" stroke="#444" stroke-width="0.7"/>
<line x1="103.70" y1="697.50" x2="105.90" y2="697.50" stroke="#444" stroke-width="0.7"/>
<line x1="103.70" y1="701.50" x2="105.90" y2="701.50" stroke="#444" stroke-width="0.7"/>
<line x1="103.70" y1="705.50" x2="105.90" y2="705.50" stroke="#444" stroke-width="0.7"/>
<line x1="103.70" y1="709.50" x2="105.90" y2="709.50" stroke="#444" stroke-width="0.7"/>
<line x1="103.70" y1="713.50" x2="105.90" y2="713.50" stroke="#444" stroke-width="0.7"/>
<line x1="103.70" y1="717.50" x2="105.90" y2="717.50" stroke="#444" stroke-width="0.7"/>
<line x1="103.70" y1="721.50" x2="105.90" y2="721.50" stroke="#444" stroke-width="0.7"/>
<line x1="103.70" y1="725.50" x2="105.90" y2="725.50" stroke="#444" stroke-width="0.7"/>
<line x1="103.70" y1="729.50" x2="105.90" y2="729.50" stroke="#444" stroke-width="0.7"/>
<line x1="103.70" y1="733.50" x2="105.90" y2="733.50" stroke="#444" stroke-width="0.7"/>
<line x1="103.70" y1="737.50" x2="105.90" y2="737.50" stroke="#444" stroke-width="0.7"/>
<line x1="103.70" y1="741.50" x2="105.90" y2="741.50" stroke="#444" stroke-width="0.7"/>
<line x1="103.70" y1="745.50" x2="105.90" y2="745.50" stroke="#444" stroke-width="0.7"/>
<line x1="103.70" y1="749.50" x2="105.90" y2="749.50" stroke="#444" stroke-width="0.7"/>
<line x1="103.70" y1="753.50" x2="105.90" y2="753.50" stroke="#444" stroke-width="0.7"/>
<line x1="103.70" y1="757.50" x2="105.90" y2="757.50" stroke="#444" stroke-width="0.7"/>
<line x1="103.70" y1="761.50" x2="105.90" y2="761.50" stroke="#444" stroke-width="0.7"/>
<line x1="103.70" y1="765.50" x2="105.90" y2="765.50" stroke="#444" stroke-width="0.7"/>
<line x1="103.70" y1="769.50" x2="105.90" y2="769.50" stroke="#444" stroke-width="0.7"/>
<line x1="103.70" y1="773.50" x2="105.90" y2="773.50" stroke="#444" stroke-width="0.7"/>
<line x1="103.70" y1="777.50" x2="105.90" y2="777.50" stroke="#444" stroke-width="0.7"/>
<line x1="103.70" y1="781.50" x2="105.90" y2="781.50" stroke="#444" stroke-width="0.7"/>
<line x1="103.70" y1="785.50" x2="105.90" y2="785.50" stroke="#444" stroke-width="0.7"/>
<line x1="219.50" y1="373.50" x2="221.70" y2="373.50" stroke="#444" stroke-width="0.7"/>
<line x1="219.50" y1="377.50" x2="221.70" y2="377.50" stroke="#444" stroke-width="0.7"/>
<line x1="219.50" y1="381.50" x2="221.70" y2="381.50" stroke="#444" stroke-width="0.7"/>
<line x1="219.50" y1="385.50" x2="221.70" y2="385.50" stroke="#444" stroke-width="0.7"/>
<line x1="219.50" y1="389.50" x2="221.70" y2="389.50" stroke="#444" stroke-width="0.7"/>
<line x1="219.50" y1="393.50" x2="221.70" y2="393.50" stroke="#444" stroke-width="0.7"/>
<line x1="219.50" y1="397.50" x2="221.70" y2="397.50" stroke="#444" stroke-width="0.7"/>
<line x1="219.50" y1="401.50" x2="221.70" y2="401.50" stroke="#444" stroke-width="0.7"/>
<line x1="219.50" y1="405.50" x2="221.70" y2="405.50" stroke="#444" stroke-width="0.7"/>
<line x1="219.50" y1="409.50" x2="221.70" y2="409.50" stroke="#444" stroke-width="0.7"/>
<line x1="219.50" y1="413.50" x2="221.70" y2="413.50" stroke="#444" stroke-width="0.7"/>
<line x1="219.50" y1="417.50" x2="221.70" y2="417.50" stroke="#444" stroke-width="0.7"/>
<line x1="219.50" y1="421.50" x2="221.70" y2="421.50" stroke="#444" stroke-width="0.7"/>
<line x1="219.50" y1="425.50" x2="221.70" y2="425.50" stroke="#444" stroke-width="0.7"/>
<line x1="219.50" y1="429.50" x2="221.70" y2="429.50" stroke="#444" stroke-width="0.7"/>
<line x1="219.50" y1="433.50" x2="221.70" y2="433.50" stroke="#444" stroke-width="0.7"/>
<line x1="219.50" y1="437.50" x2="221.70" y2="437.50" stroke="#444" stroke-width="0.7"/>
<line x1="219.50" y1="441.50" x2="221.70" y2="441.50" stroke="#444" stroke-width="0.7"/>
<line x1="219.50" y1="445.50" x2="221.70" y2="445.50" stroke="#444" stroke-width="0.7"/>
<line x1="219.50" y1="449.50" x2="221.70" y2="449.50" stroke="#444" stroke-width="0.7"/>
<line x1="219.50" y1="453.50" x2="221.70" y2="453.50" stroke="#444" stroke-width="0.7"/>
<line x1="219.50" y1="457.50" x2="221.70" y2="457.50" stroke="#444" stroke-width="0.7"/>
<line x1="219.50" y1="461.50" x2="221.70" y2="461.50" stroke="#444" stroke-width="0.7"/>
<line x1="219.50" y1="465.50" x2="221.70" y2="465.50" stroke="#444" stroke-width="0.7"/>
<line x1="219.50" y1="469.50" x2="221.70" y2="469.50" stroke="#444" stroke-width="0.7"/>
<line x1="219.50" y1="473.50" x2="221.70" y2="473.50" stroke="#444" stroke-width="0.7"/>
<line x1="219.50" y1="477.50" x2="221.70" y2="477.50" stroke="#444" stroke-width="0.7"/>
<line x1="219.50" y1="481.50" x2="221.70" y2="481.50" stroke="#444" stroke-width="0.7"/>
<line x1="219.50" y1="485.50" x2="221.70" y2="485.50" stroke="#444" stroke-width="0.7"/>
<line x1="219.50" y1="489.50" x2="221.70" y2="489.50" stroke="#444" stroke-width="0.7"/>
<line x1="219.50" y1="493.50" x2="221.70" y2="493.50" stroke="#444" stroke-width="0.7"/>
<line x1="219.50" y1="497.50" x2="221.70" y2="497.50" stroke="#444" stroke-width="0.7"/>
<line x1="219.50" y1="501.50" x2="221.70" y2="501.50" stroke="#444" stroke-width="0.7"/>
<line x1="219.50" y1="505.50" x2="221.70" y2="505.50" stroke="#444" stroke-width="0.7"/>
<line x1="219.50" y1="509.50" x2="221.70" y2="509.50" stroke="#444" stroke-width="0.7"/>
<line x1="219.50" y1="513.50" x2="221.70" y2="513.50" stroke="#444" stroke-width="0.7"/>
<line x1="219.50" y1="517.50" x2="221.70" y2="517.50" stroke="#444" stroke-width="0.7"/>
<line x1="219.50" y1="521.50" x2="221.70" y2="521.50" stroke="#444" stroke-width="0.7"/>
<line x1="219.50" y1="525.50" x2="221.70" y2="525.50" stroke="#444" stroke-width="0.7"/>
<line x1="219.50" y1="529.50" x2="221.70" y2="529.50" stroke="#444" stroke-width="0.7"/>
<line x1="219.50" y1="533.50" x2="221.70" y2="533.50" stroke="#444" stroke-width="0.7"/>
<line x1="219.50" y1="537.50" x2="221.70" y2="537.50" stroke="#444" stroke-width="0.7"/>
<line x1="219.50" y1="541.50" x2="221.70" y2="541.50" stroke="#444" stroke-width="0.7"/>
<line x1="219.50" y1="545.50" x2="221.70" y2="545.50" stroke="#444" stroke-width="0.7"/>
<line x1="219.50" y1="549.50" x2="221.70" y2="549.50" stroke="#444" stroke-width="0.7"/>
<line x1="219.50" y1="553.50" x2="221.70" y2="553.50" stroke="#444" stroke-width="0.7"/>
<line x1="219.50" y1="557.50" x2="221.70" y2="557.50" stroke="#444" stroke-width="0.7"/>
<line x1="219.50" y1="561.50" x2="221.70" y2="561.50" stroke="#444" stroke-width="0.7"/>
<line x1="219.50" y1="565.50" x2="221.70" y2="565.50" stroke="#444" stroke-width="0.7"/>
<line x1="219.50" y1="569.50" x2="221.70" y2="569.50" stroke="#444" stroke-width="0.7"/>
<line x1="219.50" y1="573.50" x2="221.70" y2="573.50" stroke="#444" stroke-width="0.7"/>
<line x1="219.50" y1="577.50" x2="221.70" y2="577.50" stroke="#444" stroke-width="0.7"/>
<line x1="219.50" y1="581.50" x2="221.70" y2="581.50" stroke="#444" stroke-width="0.7"/>
<line x1="219.50" y1="585.50" x2="221.70" y2="585.50" stroke="#444" stroke-width="0.7"/>
<line x1="219.50" y1="589.50" x2="221.70" y2="589.50" stroke="#444" stroke-width="0.7"/>
<line x1="219.50" y1="593.50" x2="221.70" y2="593.50" stroke="#444" stroke-width="0.7"/>
<line x1="219.50" y1="597.50" x2="221.70" y2="597.50" stroke="#444" stroke-width="0.7"/>
<line x1="219.50" y1="601.50" x2="221.70" y2="601.50" stroke="#444" stroke-width="0.7"/>
<line x1="219.50" y1="605.50" x2="221.70" y2="605.50" stroke="#444" stroke-width="0.7"/>
<line x1="219.50" y1="609.50" x2="221.70" y2="609.50" stroke="#444" stroke-width="0.7"/>
<line x1="219.50" y1="613.50" x2="221.70" y2="613.50" stroke="#444" stroke-width="0.7"/>
<line x1="219.50" y1="617.50" x2="221.70" y2="617.50" stroke="#444" stroke-width="0.7"/>
<line x1="219.50" y1="621.50" x2="221.70" y2="621.50" stroke="#444" stroke-width="0.7"/>
<line x1="219.50" y1="625.50" x2="221.70" y2="625.50" stroke="#444" stroke-width="0.7"/>
<line x1="219.50" y1="629.50" x2="221.70" y2="629.50" stroke="#444" stroke-width="0.7"/>
<line x1="219.50" y1="633.50" x2="221.70" y2="633.50" stroke="#444" stroke-width="0.7"/>
<line x1="219.50" y1="637.50" x2="221.70" y2="637.50" stroke="#444" stroke-width="0.7"/>
<line x1="219.50" y1="641.50" x2="221.70" y2="641.50" stroke="#444" stroke-width="0.7"/>
<line x1="219.50" y1="645.50" x2="221.70" y2="645.50" stroke="#444" stroke-width="0.7"/>
<line x1="219.50" y1="649.50" x2="221.70" y2="649.50" stroke="#444" stroke-width="0.7"/>
<line x1="219.50" y1="653.50" x2="221.70" y2="653.50" stroke="#444" stroke-width="0.7"/>
<line x1="219.50" y1="657.50" x2="221.70" y2="657.50" stroke="#444" stroke-width="0.7"/>
<line x1="219.50" y1="661.50" x2="221.70" y2="661.50" stroke="#444" stroke-width="0.7"/>
<line x1="219.50" y1="665.50" x2="221.70" y2="665.50" stroke="#444" stroke-width="0.7"/>
<line x1="219.50" y1="669.50" x2="221.70" y2="669.50" stroke="#444" stroke-width="0.7"/>
<line x1="219.50" y1="673.50" x2="221.70" y2="673.50" stroke="#444" stroke-width="0.7"/>
<line x1="219.50" y1="677.50" x2="221.70" y2="677.50" stroke="#444" stroke-width="0.7"/>
<line x1="219.50" y1="681.50" x2="221.70" y2="681.50" stroke="#444" stroke-width="0.7"/>
<line x1="219.50" y1="685.50" x2="221.70" y2="685.50" stroke="#444" stroke-width="0.7"/>
<line x1="219.50" y1="689.50" x2="221.70" y2="689.50" stroke="#444" stroke-width="0.7"/>
<line x1="219.50" y1="693.50" x2="221.70" y2="693.50" stroke="#444" stroke-width="0.7"/>
<line x1="219.50" y1="697.50" x2="221.70" y2="697.50" stroke="#444" stroke-width="0.7"/>
<line x1="219.50" y1="701.50" x2="221.70" y2="701.50" stroke="#444" stroke-width="0.7"/>
<line x1="219.50" y1="705.50" x2="221.70" y2="705.50" stroke="#444" stroke-width="0.7"/>
<line x1="219.50" y1="709.50" x2="221.70" y2="709.50" stroke="#444" stroke-width="0.7"/>
<line x1="219.50" y1="713.50" x2="221.70" y2="713.50" stroke="#444" stroke-width="0.7"/>
<line x1="219.50" y1="717.50" x2="221.70" y2="717.50" stroke="#444" stroke-width="0.7"/>
<line x1="219.50" y1="721.50" x2="221.70" y2="721.50" stroke="#444" stroke-width="0.7"/>
<line x1="219.50" y1="725.50" x2="221.70" y2="725.50" stroke="#444" stroke-width="0.7"/>
<line x1="219.50" y1="729.50" x2="221.70" y2="729.50" stroke="#444" stroke-width="0.7"/>
<line x1="219.50" y1="733.50" x2="221.70" y2="733.50" stroke="#444" stroke-width="0.7"/>
<line x1="219.50" y1="737.50" x2="221.70" y2="737.50" stroke="#444" stroke-width="0.7"/>
<line x1="219.50" y1="741.50" x2="221.70" y2="741.50" stroke="#444" stroke-width="0.7"/>
<line x1="219.50" y1="745.50" x2="221.70" y2="745.50" stroke="#444" stroke-width="0.7"/>
<line x1="219.50" y1="749.50" x2="221.70" y2="749.50" stroke="#444" stroke-width="0.7"/>
<line x1="219.50" y1="753.50" x2="221.70" y2="753.50" stroke="#444" stroke-width="0.7"/>
<line x1="219.50" y1="757.50" x2="221.70" y2="757.50" stroke="#444" stroke-width="0.7"/>
<line x1="219.50" y1="761.50" x2="221.70" y2="761.50" stroke="#444" stroke-width="0.7"/>
<line x1="219.50" y1="765.50" x2="221.70" y2="765.50" stroke="#444" stroke-width="0.7"/>
<line x1="219.50" y1="769.50" x2="221.70" y2="769.50" stroke="#444" stroke-width="0.7"/>
<line x1="219.50" y1="773.50" x2="221.70" y2="773.50" stroke="#444" stroke-width="0.7"/>
<line x1="219.50" y1="777.50" x2="221.70" y2="777.50" stroke="#444" stroke-width="0.7"/>
<line x1="219.50" y1="781.50" x2="221.70" y2="781.50" stroke="#444" stroke-width="0.7"/>
<line x1="219.50" y1="785.50" x2="221.70" y2="785.50" stroke="#444" stroke-width="0.7"/>
<line x1="336.50" y1="373.50" x2="338.70" y2="373.50" stroke="#444" stroke-width="0.7"/>
<line x1="336.50" y1="377.50" x2="338.70" y2="377.50" stroke="#444" stroke-width="0.7"/>
<line x1="336.50" y1="381.50" x2="338.70" y2="381.50" stroke="#444" stroke-width="0.7"/>
<line x1="336.50" y1="385.50" x2="338.70" y2="385.50" stroke="#444" stroke-width="0.7"/>
<line x1="336.50" y1="389.50" x2="338.70" y2="389.50" stroke="#444" stroke-width="0.7"/>
<line x1="336.50" y1="393.50" x2="338.70" y2="393.50" stroke="#444" stroke-width="0.7"/>
<line x1="336.50" y1="397.50" x2="338.70" y2="397.50" stroke="#444" stroke-width="0.7"/>
<line x1="336.50" y1="401.50" x2="338.70" y2="401.50" stroke="#444" stroke-width="0.7"/>
<line x1="336.50" y1="405.50" x2="338.70" y2="405.50" stroke="#444" stroke-width="0.7"/>
<line x1="336.50" y1="409.50" x2="338.70" y2="409.50" stroke="#444" stroke-width="0.7"/>
<line x1="336.50" y1="413.50" x2="338.70" y2="413.50" stroke="#444" stroke-width="0.7"/>
<line x1="336.50" y1="417.50" x2="338.70" y2="417.50" stroke="#444" stroke-width="0.7"/>
<line x1="336.50" y1="421.50" x2="338.70" y2="421.50" stroke="#444" stroke-width="0.7"/>
<line x1="336.50" y1="425.50" x2="338.70" y2="425.50" stroke="#444" stroke-width="0.7"/>
<line x1="336.50" y1="429.50" x2="338.70" y2="429.50" stroke="#444" stroke-width="0.7"/>
<line x1="336.50" y1="433.50" x2="338.70" y2="433.50" stroke="#444" stroke-width="0.7"/>
<line x1="336.50" y1="437.50" x2="338.70" y2="437.50" stroke="#444" stroke-width="0.7"/>
<line x1="336.50" y1="441.50" x2="338.70" y2="441.50" stroke="#444" stroke-width="0.7"/>
<line x1="336.50" y1="445.50" x2="338.70" y2="445.50" stroke="#444" stroke-width="0.7"/>
<line x1="336.50" y1="449.50" x2="338.70" y2="449.50" stroke="#444" stroke-width="0.7"/>
<line x1="336.50" y1="453.50" x2="338.70" y2="453.50" stroke="#444" stroke-width="0.7"/>
<line x1="336.50" y1="457.50" x2="338.70" y2="457.50" stroke="#444" stroke-width="0.7"/>
<line x1="336.50" y1="461.50" x2="338.70" y2="461.50" stroke="#444" stroke-width="0.7"/>
<line x1="336.50" y1="465.50" x2="338.70" y2="465.50" stroke="#444" stroke-width="0.7"/>
<line x1="336.50" y1="469.50" x2="338.70" y2="469.50" stroke="#444" stroke-width="0.7"/>
<line x1="336.50" y1="473.50" x2="338.70" y2="473.50" stroke="#444" stroke-width="0.7"/>
<line x1="336.50" y1="477.50" x2="338.70" y2="477.50" stroke="#444" stroke-width="0.7"/>
<line x1="336.50" y1="481.50" x2="338.70" y2="481.50" stroke="#444" stroke-width="0.7"/>
<line x1="336.50" y1="485.50" x2="338.70" y2="485.50" stroke="#444" stroke-width="0.7"/>
<line x1="336.50" y1="489.50" x2="338.70" y2="489.50" stroke="#444" stroke-width="0.7"/>
<line x1="336.50" y1="493.50" x2="338.70" y2="493.50" stroke="#444" stroke-width="0.7"/>
<line x1="336.50" y1="497.50" x2="338.70" y2="497.50" stroke="#444" stroke-width="0.7"/>
<line x1="336.50" y1="501.50" x2="338.70" y2="501.50" stroke="#444" stroke-width="0.7"/>
<line x1="336.50" y1="505.50" x2="338.70" y2="505.50" stroke="#444" stroke-width="0.7"/>
<line x1="336.50" y1="509.50" x2="338.70" y2="509.50" stroke="#444" stroke-width="0.7"/>
<line x1="336.50" y1="513.50" x2="338.70" y2="513.50" stroke="#444" stroke-width="0.7"/>
<line x1="336.50" y1="517.50" x2="338.70" y2="517.50" stroke="#444" stroke-width="0.7"/>
<line x1="336.50" y1="521.50" x2="338.70" y2="521.50" stroke="#444" stroke-width="0.7"/>
<line x1="336.50" y1="525.50" x2="338.70" y2="525.50" stroke="#444" stroke-width="0.7"/>
<line x1="336.50" y1="529.50" x2="338.70" y2="529.50" stroke="#444" stroke-width="0.7"/>
<line x1="336.50" y1="533.50" x2="338.70" y2="533.50" stroke="#444" stroke-width="0.7"/>
<line x1="336.50" y1="537.50" x2="338.70" y2="537.50" stroke="#444" stroke-width="0.7"/>
<line x1="336.50" y1="541.50" x2="338.70" y2="541.50" stroke="#444" stroke-width="0.7"/>
<line x1="336.50" y1="545.50" x2="338.70" y2="545.50" stroke="#444" stroke-width="0.7"/>
<line x1="336.50" y1="549.50" x2="338.70" y2="549.50" stroke="#444" stroke-width="0.7"/>
<line x1="336.50" y1="553.50" x2="338.70" y2="553.50" stroke="#444" stroke-width="0.7"/>
<line x1="336.50" y1="557.50" x2="338.70" y2="557.50" stroke="#444" stroke-width="0.7"/>
<line x1="336.50" y1="561.50" x2="338.70" y2="561.50" stroke="#444" stroke-width="0.7"/>
<line x1="336.50" y1="565.50" x2="338.70" y2="565.50" stroke="#444" stroke-width="0.7"/>
<line x1="336.50" y1="569.50" x2="338.70" y2="569.50" stroke="#444" stroke-width="0.7"/>
<line x1="336.50" y1="573.50" x2="338.70" y2="573.50" stroke="#444" stroke-width="0.7"/>
<line x1="336.50" y1="577.50" x2="338.70" y2="577.50" stroke="#444" stroke-width="0.7"/>
<line x1="336.50" y1="581.50" x2="338.70" y2="581.50" stroke="#444" stroke-width="0.7"/>
<line x1="336.50" y1="585.50" x2="338.70" y2="585.50" stroke="#444" stroke-width="0.7"/>
<line x1="336.50" y1="589.50" x2="338.70" y2="589.50" stroke="#444" stroke-width="0.7"/>
<line x1="336.50" y1="593.50" x2="338.70" y2="593.50" stroke="#444" stroke-width="0.7"/>
<line x1="336.50" y1="597.50" x2="338.70" y2="597.50" stroke="#444" stroke-width="0.7"/>
<line x1="336.50" y1="601.50" x2="338.70" y2="601.50" stroke="#444" stroke-width="0.7"/>
<line x1="336.50" y1="605.50" x2="338.70" y2="605.50" stroke="#444" stroke-width="0.7"/>
<line x1="336.50" y1="609.50" x2="338.70" y2="609.50" stroke="#444" stroke-width="0.7"/>
<line x1="336.50" y1="613.50" x2="338.70" y2="613.50" stroke="#444" stroke-width="0.7"/>
<line x1="336.50" y1="617.50" x2="338.70" y2="617.50" stroke="#444" stroke-width="0.7"/>
<line x1="336.50" y1="621.50" x2="338.70" y2="621.50" stroke="#444" stroke-width="0.7"/>
<line x1="336.50" y1="625.50" x2="338.70" y2="625.50" stroke="#444" stroke-width="0.7"/>
<line x1="336.50" y1="629.50" x2="338.70" y2="629.50" stroke="#444" stroke-width="0.7"/>
<line x1="336.50" y1="633.50" x2="338.70" y2="633.50" stroke="#444" stroke-width="0.7"/>
<line x1="336.50" y1="637.50" x2="338.70" y2="637.50" stroke="#444" stroke-width="0.7"/>
<line x1="336.50" y1="641.50" x2="338.70" y2="641.50" stroke="#444" stroke-width="0.7"/>
<line x1="336.50" y1="645.50" x2="338.70" y2="645.50" stroke="#444" stroke-width="0.7"/>
<line x1="336.50" y1="649.50" x2="338.70" y2="649.50" stroke="#444" stroke-width="0.7"/>
<line x1="336.50" y1="653.50" x2="338.70" y2="653.50" stroke="#444" stroke-width="0.7"/>
<line x1="336.50" y1="657.50" x2="338.70" y2="657.50" stroke="#444" stroke-width="0.7"/>
<line x1="336.50" y1="661.50" x2="338.70" y2="661.50" stroke="#444" stroke-width="0.7"/>
<line x1="336.50" y1="665.50" x2="338.70" y2="665.50" stroke="#444" stroke-width="0.7"/>
<line x1="336.50" y1="669.50" x2="338.70" y2="669.50" stroke="#444" stroke-width="0.7"/>
<line x1="336.50" y1="673.50" x2="338.70" y2="673.50" stroke="#444" stroke-width="0.7"/>
<line x1="336.50" y1="677.50" x2="338.70" y2="677.50" stroke="#444" stroke-width="0.7"/>
<line x1="336.50" y1="681.50" x2="338.70" y2="681.50" stroke="#444" stroke-width="0.7"/>
<line x1="336.50" y1="685.50" x2="338.70" y2="685.50" stroke="#444" stroke-width="0.7"/>
<line x1="336.50" y1="689.50" x2="338.70" y2="689.50" stroke="#444" stroke-width="0.7"/>
<line x1="336.50" y1="693.50" x2="338.70" y2="693.50" stroke="#444" stroke-width="0.7"/>
<line x1="336.50" y1="697.50" x2="338.70" y2="697.50" stroke="#444" stroke-width="0.7"/>
<line x1="336.50" y1="701.50" x2="338.70" y2="701.50" stroke="#444" stroke-width="0.7"/>
<line x1="336.50" y1="705.50" x2="338.70" y2="705.50" stroke="#444" stroke-width="0.7"/>
<line x1="336.50" y1="709.50" x2="338.70" y2="709.50" stroke="#444" stroke-width="0.7"/>
<line x1="336.50" y1="713.50" x2="338.70" y2="713.50" stroke="#444" stroke-width="0.7"/>
<line x1="336.50" y1="717.50" x2="338.70" y2="717.50" stroke="#444" stroke-width="0.7"/>
<line x1="336.50" y1="721.50" x2="338.70" y2="721.50" stroke="#444" stroke-width="0.7"/>
<line x1="336.50" y1="725.50" x2="338.70" y2="725.50" stroke="#444" stroke-width="0.7"/>
<line x1="336.50" y1="729.50" x2="338.70" y2="729.50" stroke="#444" stroke-width="0.7"/>
<line x1="336.50" y1="733.50" x2="338.70" y2="733.50" stroke="#444" stroke-width="0.7"/>
<line x1="336.50" y1="737.50" x2="338.70" y2="737.50" stroke="#444" stroke-width="0.7"/>
<line x1="336.50" y1="741.50" x2="338.70" y2="741.50" stroke="#444" stroke-width="0.7"/>
<line x1="336.50" y1="745.50" x2="338.70" y2="745.50" stroke="#444" stroke-width="0.7"/>
<line x1="336.50" y1="749.50" x2="338.70" y2="749.50" stroke="#444" stroke-width="0.7"/>
<line x1="336.50" y1="753.50" x2="338.70" y2="753.50" stroke="#444" stroke-width="0.7"/>
<line x1="336.50" y1="757.50" x2="338.70" y2="757.50" stroke="#444" stroke-width="0.7"/>
<line x1="336.50" y1="761.50" x2="338.70" y2="761.50" stroke="#444" stroke-width="0.7"/>
<line x1="336.50" y1="765.50" x2="338.70" y2="765.50" stroke="#444" stroke-width="0.7"/>
<line x1="336.50" y1="769.50" x2="338.70" y2="769.50" stroke="#444" stroke-width="0.7"/>
<line x1="336.50" y1="773.50" x2="338.70" y2="773.50" stroke="#444" stroke-width="0.7"/>
<line x1="336.50" y1="777.50" x2="338.70" y2="777.50" stroke="#444" stroke-width="0.7"/>
<line x1="336.50" y1="781.50" x2="338.70" y2="781.50" stroke="#444" stroke-width="0.7"/>
<line x1="336.50" y1="785.50" x2="338.70" y2="785.50" stroke="#444" stroke-width="0.7"/>
<line x1="453.50" y1="373.50" x2="455.70" y2="373.50" stroke="#444" stroke-width="0.7"/>
<line x1="453.50" y1="377.50" x2="455.70" y2="377.50" stroke="#444" stroke-width="0.7"/>
<line x1="453.50" y1="381.50" x2="455.70" y2="381.50" stroke="#444" stroke-width="0.7"/>
<line x1="453.50" y1="385.50" x2="455.70" y2="385.50" stroke="#444" stroke-width="0.7"/>
<line x1="453.50" y1="389.50" x2="455.70" y2="389.50" stroke="#444" stroke-width="0.7"/>
<line x1="453.50" y1="393.50" x2="455.70" y2="393.50" stroke="#444" stroke-width="0.7"/>
<line x1="453.50" y1="397.50" x2="455.70" y2="397.50" stroke="#444" stroke-width="0.7"/>
<line x1="453.50" y1="401.50" x2="455.70" y2="401.50" stroke="#444" stroke-width="0.7"/>
<line x1="453.50" y1="405.50" x2="455.70" y2="405.50" stroke="#444" stroke-width="0.7"/>
<line x1="453.50" y1="409.50" x2="455.70" y2="409.50" stroke="#444" stroke-width="0.7"/>
<line x1="453.50" y1="413.50" x2="455.70" y2="413.50" stroke="#444" stroke-width="0.7"/>
<line x1="453.50" y1="417.50" x2="455.70" y2="417.50" stroke="#444" stroke-width="0.7"/>
<line x1="453.50" y1="421.50" x2="455.70" y2="421.50" stroke="#444" stroke-width="0.7"/>
<line x1="453.50" y1="425.50" x2="455.70" y2="425.50" stroke="#444" stroke-width="0.7"/>
<line x1="453.50" y1="429.50" x2="455.70" y2="429.50" stroke="#444" stroke-width="0.7"/>
<line x1="453.50" y1="433.50" x2="455.70" y2="433.50" stroke="#444" stroke-width="0.7"/>
<line x1="453.50" y1="437.50" x2="455.70" y2="437.50" stroke="#444" stroke-width="0.7"/>
<line x1="453.50" y1="441.50" x2="455.70" y2="441.50" stroke="#444" stroke-width="0.7"/>
<line x1="453.50" y1="445.50" x2="455.70" y2="445.50" stroke="#444" stroke-width="0.7"/>
<line x1="453.50" y1="449.50" x2="455.70" y2="449.50" stroke="#444" stroke-width="0.7"/>
<line x1="453.50" y1="453.50" x2="455.70" y2="453.50" stroke="#444" stroke-width="0.7"/>
<line x1="453.50" y1="457.50" x2="455.70" y2="457.50" stroke="#444" stroke-width="0.7"/>
<line x1="453.50" y1="461.50" x2="455.70" y2="461.50" stroke="#444" stroke-width="0.7"/>
<line x1="453.50" y1="465.50" x2="455.70" y2="465.50" stroke="#444" stroke-width="0.7"/>
<line x1="453.50" y1="469.50" x2="455.70" y2="469.50" stroke="#444" stroke-width="0.7"/>
<line x1="453.50" y1="473.50" x2="455.70" y2="473.50" stroke="#444" stroke-width="0.7"/>
<line x1="453.50" y1="477.50" x2="455.70" y2="477.50" stroke="#444" stroke-width="0.7"/>
<line x1="453.50" y1="481.50" x2="455.70" y2="481.50" stroke="#444" stroke-width="0.7"/>
<line x1="453.50" y1="485.50" x2="455.70" y2="485.50" stroke="#444" stroke-width="0.7"/>
<line x1="453.50" y1="489.50" x2="455.70" y2="489.50" stroke="#444" stroke-width="0.7"/>
<line x1="453.50" y1="493.50" x2="455.70" y2="493.50" stroke="#444" stroke-width="0.7"/>
<line x1="453.50" y1="497.50" x2="455.70" y2="497.50" stroke="#444" stroke-width="0.7"/>
<line x1="453.50" y1="501.50" x2="455.70" y2="501.50" stroke="#444" stroke-width="0.7"/>
<line x1="453.50" y1="505.50" x2="455.70" y2="505.50" stroke="#444" stroke-width="0.7"/>
<line x1="453.50" y1="509.50" x2="455.70" y2="509.50" stroke="#444" stroke-width="0.7"/>
<line x1="453.50" y1="513.50" x2="455.70" y2="513.50" stroke="#444" stroke-width="0.7"/>
<line x1="453.50" y1="517.50" x2="455.70" y2="517.50" stroke="#444" stroke-width="0.7"/>
<line x1="453.50" y1="521.50" x2="455.70" y2="521.50" stroke="#444" stroke-width="0.7"/>
<line x1="453.50" y1="525.50" x2="455.70" y2="525.50" stroke="#444" stroke-width="0.7"/>
<line x1="453.50" y1="529.50" x2="455.70" y2="529.50" stroke="#444" stroke-width="0.7"/>
<line x1="453.50" y1="533.50" x2="455.70" y2="533.50" stroke="#444" stroke-width="0.7"/>
<line x1="453.50" y1="537.50" x2="455.70" y2="537.50" stroke="#444" stroke-width="0.7"/>
<line x1="453.50" y1="541.50" x2="455.70" y2="541.50" stroke="#444" stroke-width="0.7"/>
<line x1="453.50" y1="545.50" x2="455.70" y2="545.50" stroke="#444" stroke-width="0.7"/>
<line x1="453.50" y1="549.50" x2="455.70" y2="549.50" stroke="#444" stroke-width="0.7"/>
<line x1="453.50" y1="553.50" x2="455.70" y2="553.50" stroke="#444" stroke-width="0.7"/>
<line x1="453.50" y1="557.50" x2="455.70" y2="557.50" stroke="#444" stroke-width="0.7"/>
<line x1="453.50" y1="561.50" x2="455.70" y2="561.50" stroke="#444" stroke-width="0.7"/>
<line x1="453.50" y1="565.50" x2="455.70" y2="565.50" stroke="#444" stroke-width="0.7"/>
<line x1="453.50" y1="569.50" x2="455.70" y2="569.50" stroke="#444" stroke-width="0.7"/>
<line x1="453.50" y1="573.50" x2="455.70" y2="573.50" stroke="#444" stroke-width="0.7"/>
<line x1="453.50" y1="577.50" x2="455.70" y2="577.50" stroke="#444" stroke-width="0.7"/>
<line x1="453.50" y1="581.50" x2="455.70" y2="581.50" stroke="#444" stroke-width="0.7"/>
<line x1="453.50" y1="585.50" x2="455.70" y2="585.50" stroke="#444" stroke-width="0.7"/>
<line x1="453.50" y1="589.50" x2="455.70" y2="589.50" stroke="#444" stroke-width="0.7"/>
<line x1="453.50" y1="593.50" x2="455.70" y2="593.50" stroke="#444" stroke-width="0.7"/>
<line x1="453.50" y1="597.50" x2="455.70" y2="597.50" stroke="#444" stroke-width="0.7"/>
<line x1="453.50" y1="601.50" x2="455.70" y2="601.50" stroke="#444" stroke-width="0.7"/>
<line x1="453.50" y1="605.50" x2="455.70" y2="605.50" stroke="#444" stroke-width="0.7"/>
<line x1="453.50" y1="609.50" x2="455.70" y2="609.50" stroke="#444" stroke-width="0.7"/>
<line x1="453.50" y1="613.50" x2="455.70" y2="613.50" stroke="#444" stroke-width="0.7"/>
<line x1="453.50" y1="617.50" x2="455.70" y2="617.50" stroke="#444" stroke-width="0.7"/>
<line x1="453.50" y1="621.50" x2="455.70" y2="621.50" stroke="#444" stroke-width="0.7"/>
<line x1="453.50" y1="625.50" x2="455.70" y2="625.50" stroke="#444" stroke-width="0.7"/>
<line x1="453.50" y1="629.50" x2="455.70" y2="629.50" stroke="#444" stroke-width="0.7"/>
<line x1="453.50" y1="633.50" x2="455.70" y2="633.50" stroke="#444" stroke-width="0.7"/>
<line x1="453.50" y1="637.50" x2="455.70" y2="637.50" stroke="#444" stroke-width="0.7"/>
<line x1="453.50" y1="641.50" x2="455.70" y2="641.50" stroke="#444" stroke-width="0.7"/>
<line x1="453.50" y1="645.50" x2="455.70" y2="645.50" stroke="#444" stroke-width="0.7"/>
<line x1="453.50" y1="649.50" x2="455.70" y2="649.50" stroke="#444" stroke-width="0.7"/>
<line x1="453.50" y1="653.50" x2="455.70" y2="653.50" stroke="#444" stroke-width="0.7"/>
<line x1="453.50" y1="657.50" x2="455.70" y2="657.50" stroke="#444" stroke-width="0.7"/>
<line x1="453.50" y1="661.50" x2="455.70" y2="661.50" stroke="#444" stroke-width="0.7"/>
<line x1="453.50" y1="665.50" x2="455.70" y2="665.50" stroke="#444" stroke-width="0.7"/>
<line x1="453.50" y1="669.50" x2="455.70" y2="669.50" stroke="#444" stroke-width="0.7"/>
<line x1="453.50" y1="673.50" x2="455.70" y2="673.50" stroke="#444" stroke-width="0.7"/>
<line x1="453.50" y1="677.50" x2="455.70" y2="677.50" stroke="#444" stroke-width="0.7"/>
<line x1="453.50" y1="681.50" x2="455.70" y2="681.50" stroke="#444" stroke-width="0.7"/>
<line x1="453.50" y1="685.50" x2="455.70" y2="685.50" stroke="#444" stroke-width="0.7"/>
<line x1="453.50" y1="689.50" x2="455.70" y2="689.50" stroke="#444" stroke-width="0.7"/>
<line x1="453.50" y1="693.50" x2="455.70" y2="693.50" stroke="#444" stroke-width="0.7"/>
<line x1="453.50" y1="697.50" x2="455.70" y2="697.50" stroke="#444" stroke-width="0.7"/>
<line x1="453.50" y1="701.50" x2="455.70" y2="701.50" stroke="#444" stroke-width="0.7"/>
<line x1="453.50" y1="705.50" x2="455.70" y2="705.50" stroke="#444" stroke-width="0.7"/>
<line x1="453.50" y1="709.50" x2="455.70" y2="709.50" stroke="#444" stroke-width="0.7"/>
<line x1="453.50" y1="713.50" x2="455.70" y2="713.50" stroke="#444" stroke-width="0.7"/>
<line x1="453.50" y1="717.50" x2="455.70" y2="717.50" stroke="#444" stroke-width="0.7"/>
<line x1="453.50" y1="721.50" x2="455.70" y2="721.50" stroke="#444" stroke-width="0.7"/>
<line x1="453.50" y1="725.50" x2="455.70" y2="725.50" stroke="#444" stroke-width="0.7"/>
<line x1="453.50" y1="729.50" x2="455.70" y2="729.50" stroke="#444" stroke-width="0.7"/>
<line x1="453.50" y1="733.50" x2="455.70" y2="733.50" stroke="#444" stroke-width="0.7"/>
<line x1="453.50" y1="737.50" x2="455.70" y2="737.50" stroke="#444" stroke-width="0.7"/>
<line x1="453.50" y1="741.50" x2="455.70" y2="741.50" stroke="#444" stroke-width="0.7"/>
<line x1="453.50" y1="745.50" x2="455.70" y2="745.50" stroke="#444" stroke-width="0.7"/>
<line x1="453.50" y1="749.50" x2="455.70" y2="749.50" stroke="#444" stroke-width="0.7"/>
<line x1="453.50" y1="753.50" x2="455.70" y2="753.50" stroke="#444" stroke-width="0.7"/>
<line x1="453.50" y1="757.50" x2="455.70" y2="757.50" stroke="#444" stroke-width="0.7"/>
<line x1="453.50" y1="761.50" x2="455.70" y2="761.50" stroke="#444" stroke-width="0.7"/>
<line x1="453.50" y1="765.50" x2="455.70" y2="765.50" stroke="#444" stroke-width="0.7"/>
<line x1="453.50" y1="769.50" x2="455.70" y2="769.50" stroke="#444" stroke-width="0.7"/>
<line x1="453.50" y1="773.50" x2="455.70" y2="773.50" stroke="#444" stroke-width="0.7"/>
<line x1="453.50" y1="777.50" x2="455.70" y2="777.50" stroke="#444" stroke-width="0.7"/>
<line x1="453.50" y1="781.50" x2="455.70" y2="781.50" stroke="#444" stroke-width="0.7"/>
<line x1="453.50" y1="785.50" x2="455.70" y2="785.50" stroke="#444" stroke-width="0.7"/>
<line x1="570.20" y1="373.50" x2="572.40" y2="373.50" stroke="#444" stroke-width="0.7"/>
<line x1="570.20" y1="377.50" x2="572.40" y2="377.50" stroke="#444" stroke-width="0.7"/>
<line x1="570.20" y1="381.50" x2="572.40" y2="381.50" stroke="#444" stroke-width="0.7"/>
<line x1="570.20" y1="385.50" x2="572.40" y2="385.50" stroke="#444" stroke-width="0.7"/>
<line x1="570.20" y1="389.50" x2="572.40" y2="389.50" stroke="#444" stroke-width="0.7"/>
<line x1="570.20" y1="393.50" x2="572.40" y2="393.50" stroke="#444" stroke-width="0.7"/>
<line x1="570.20" y1="397.50" x2="572.40" y2="397.50" stroke="#444" stroke-width="0.7"/>
<line x1="570.20" y1="401.50" x2="572.40" y2="401.50" stroke="#444" stroke-width="0.7"/>
<line x1="570.20" y1="405.50" x2="572.40" y2="405.50" stroke="#444" stroke-width="0.7"/>
<line x1="570.20" y1="409.50" x2="572.40" y2="409.50" stroke="#444" stroke-width="0.7"/>
<line x1="570.20" y1="413.50" x2="572.40" y2="413.50" stroke="#444" stroke-width="0.7"/>
<line x1="570.20" y1="417.50" x2="572.40" y2="417.50" stroke="#444" stroke-width="0.7"/>
<line x1="570.20" y1="421.50" x2="572.40" y2="421.50" stroke="#444" stroke-width="0.7"/>
<line x1="570.20" y1="425.50" x2="572.40" y2="425.50" stroke="#444" stroke-width="0.7"/>
<line x1="570.20" y1="429.50" x2="572.40" y2="429.50" stroke="#444" stroke-width="0.7"/>
<line x1="570.20" y1="433.50" x2="572.40" y2="433.50" stroke="#444" stroke-width="0.7"/>
<line x1="570.20" y1="437.50" x2="572.40" y2="437.50" stroke="#444" stroke-width="0.7"/>
<line x1="570.20" y1="441.50" x2="572.40" y2="441.50" stroke="#444" stroke-width="0.7"/>
<line x1="570.20" y1="445.50" x2="572.40" y2="445.50" stroke="#444" stroke-width="0.7"/>
<line x1="570.20" y1="449.50" x2="572.40" y2="449.50" stroke="#444" stroke-width="0.7"/>
<line x1="570.20" y1="453.50" x2="572.40" y2="453.50" stroke="#444" stroke-width="0.7"/>
<line x1="570.20" y1="457.50" x2="572.40" y2="457.50" stroke="#444" stroke-width="0.7"/>
<line x1="570.20" y1="461.50" x2="572.40" y2="461.50" stroke="#444" stroke-width="0.7"/>
<line x1="570.20" y1="465.50" x2="572.40" y2="465.50" stroke="#444" stroke-width="0.7"/>
<line x1="570.20" y1="469.50" x2="572.40" y2="469.50" stroke="#444" stroke-width="0.7"/>
<line x1="570.20" y1="473.50" x2="572.40" y2="473.50" stroke="#444" stroke-width="0.7"/>
<line x1="570.20" y1="477.50" x2="572.40" y2="477.50" stroke="#444" stroke-width="0.7"/>
<line x1="570.20" y1="481.50" x2="572.40" y2="481.50" stroke="#444" stroke-width="0.7"/>
<line x1="570.20" y1="485.50" x2="572.40" y2="485.50" stroke="#444" stroke-width="0.7"/>
<line x1="570.20" y1="489.50" x2="572.40" y2="489.50" stroke="#444" stroke-width="0.7"/>
<line x1="570.20" y1="493.50" x2="572.40" y2="493.50" stroke="#444" stroke-width="0.7"/>
<line x1="570.20" y1="497.50" x2="572.40" y2="497.50" stroke="#444" stroke-width="0.7"/>
<line x1="570.20" y1="501.50" x2="572.40" y2="501.50" stroke="#444" stroke-width="0.7"/>
<line x1="570.20" y1="505.50" x2="572.40" y2="505.50" stroke="#444" stroke-width="0.7"/>
<line x1="570.20" y1="509.50" x2="572.40" y2="509.50" stroke="#444" stroke-width="0.7"/>
<line x1="570.20" y1="513.50" x2="572.40" y2="513.50" stroke="#444" stroke-width="0.7"/>
<line x1="570.20" y1="517.50" x2="572.40" y2="517.50" stroke="#444" stroke-width="0.7"/>
<line x1="570.20" y1="521.50" x2="572.40" y2="521.50" stroke="#444" stroke-width="0.7"/>
<line x1="570.20" y1="525.50" x2="572.40" y2="525.50" stroke="#444" stroke-width="0.7"/>
<line x1="570.20" y1="529.50" x2="572.40" y2="529.50" stroke="#444" stroke-width="0.7"/>
<line x1="570.20" y1="533.50" x2="572.40" y2="533.50" stroke="#444" stroke-width="0.7"/>
<line x1="570.20" y1="537.50" x2="572.40" y2="537.50" stroke="#444" stroke-width="0.7"/>
<line x1="570.20" y1="541.50" x2="572.40" y2="541.50" stroke="#444" stroke-width="0.7"/>
<line x1="570.20" y1="545.50" x2="572.40" y2="545.50" stroke="#444" stroke-width="0.7"/>
<line x1="570.20" y1="549.50" x2="572.40" y2="549.50" stroke="#444" stroke-width="0.7"/>
<line x1="570.20" y1="553.50" x2="572.40" y2="553.50" stroke="#444" stroke-width="0.7"/>
<line x1="570.20" y1="557.50" x2="572.40" y2="557.50" stroke="#444" stroke-width="0.7"/>
<line x1="570.20" y1="561.50" x2="572.40" y2="561.50" stroke="#444" stroke-width="0.7"/>
<line x1="570.20" y1="565.50" x2="572.40" y2="565.50" stroke="#444" stroke-width="0.7"/>
<line x1="570.20" y1="569.50" x2="572.40" y2="569.50" stroke="#444" stroke-width="0.7"/>
<line x1="570.20" y1="573.50" x2="572.40" y2="573.50" stroke="#444" stroke-width="0.7"/>
<line x1="570.20" y1="577.50" x2="572.40" y2="577.50" stroke="#444" stroke-width="0.7"/>
<line x1="570.20" y1="581.50" x2="572.40" y2="581.50" stroke="#444" stroke-width="0.7"/>
<line x1="570.20" y1="585.50" x2="572.40" y2="585.50" stroke="#444" stroke-width="0.7"/>
<line x1="570.20" y1="589.50" x2="572.40" y2="589.50" stroke="#444" stroke-width="0.7"/>
<line x1="570.20" y1="593.50" x2="572.40" y2="593.50" stroke="#444" stroke-width="0.7"/>
<line x1="570.20" y1="597.50" x2="572.40" y2="597.50" stroke="#444" stroke-width="0.7"/>
<line x1="570.20" y1="601.50" x2="572.40" y2="601.50" stroke="#444" stroke-width="0.7"/>
<line x1="570.20" y1="605.50" x2="572.40" y2="605.50" stroke="#444" stroke-width="0.7"/>
<line x1="570.20" y1="609.50" x2="572.40" y2="609.50" stroke="#444" stroke-width="0.7"/>
<line x1="570.20" y1="613.50" x2="572.40" y2="613.50" stroke="#444" stroke-width="0.7"/>
<line x1="570.20" y1="617.50" x2="572.40" y2="617.50" stroke="#444" stroke-width="0.7"/>
<line x1="570.20" y1="621.50" x2="572.40" y2="621.50" stroke="#444" stroke-width="0.7"/>
<line x1="570.20" y1="625.50" x2="572.40" y2="625.50" stroke="#444" stroke-width="0.7"/>
<line x1="570.20" y1="629.50" x2="572.40" y2="629.50" stroke="#444" stroke-width="0.7"/>
<line x1="570.20" y1="633.50" x2="572.40" y2="633.50" stroke="#444" stroke-width="0.7"/>
<line x1="570.20" y1="637.50" x2="572.40" y2="637.50" stroke="#444" stroke-width="0.7"/>
<line x1="570.20" y1="641.50" x2="572.40" y2="641.50" stroke="#444" stroke-width="0.7"/>
<line x1="570.20" y1="645.50" x2="572.40" y2="645.50" stroke="#444" stroke-width="0.7"/>
<line x1="570.20" y1="649.50" x2="572.40" y2="649.50" stroke="#444" stroke-width="0.7"/>
<line x1="570.20" y1="653.50" x2="572.40" y2="653.50" stroke="#444" stroke-width="0.7"/>
<line x1="570.20" y1="657.50" x2="572.40" y2="657.50" stroke="#444" stroke-width="0.7"/>
<line x1="570.20" y1="661.50" x2="572.40" y2="661.50" stroke="#444" stroke-width="0.7"/>
<line x1="570.20" y1="665.50" x2="572.40" y2="665.50" stroke="#444" stroke-width="0.7"/>
<line x1="570.20" y1="669.50" x2="572.40" y2="669.50" stroke="#444" stroke-width="0.7"/>
<line x1="570.20" y1="673.50" x2="572.40" y2="673.50" stroke="#444" stroke-width="0.7"/>
<line x1="570.20" y1="677.50" x2="572.40" y2="677.50" stroke="#444" stroke-width="0.7"/>
<line x1="570.20" y1="681.50" x2="572.40" y2="681.50" stroke="#444" stroke-width="0.7"/>
<line x1="570.20" y1="685.50" x2="572.40" y2="685.50" stroke="#444" stroke-width="0.7"/>
<line x1="570.20" y1="689.50" x2="572.40" y2="689.50" stroke="#444" stroke-width="0.7"/>
<line x1="570.20" y1="693.50" x2="572.40" y2="693.50" stroke="#444" stroke-width="0.7"/>
<line x1="570.20" y1="697.50" x2="572.40" y2="697.50" stroke="#444" stroke-width="0.7"/>
<line x1="570.20" y1="701.50" x2="572.40" y2="701.50" stroke="#444" stroke-width="0.7"/>
<line x1="570.20" y1="705.50" x2="572.40" y2="705.50" stroke="#444" stroke-width="0.7"/>
<line x1="570.20" y1="709.50" x2="572.40" y2="709.50" stroke="#444" stroke-width="0.7"/>
<line x1="570.20" y1="713.50" x2="572.40" y2="713.50" stroke="#444" stroke-width="0.7"/>
<line x1="570.20" y1="717.50" x2="572.40" y2="717.50" stroke="#444" stroke-width="0.7"/>
<line x1="570.20" y1="721.50" x2="572.40" y2="721.50" stroke="#444" stroke-width="0.7"/>
<line x1="570.20" y1="725.50" x2="572.40" y2="725.50" stroke="#444" stroke-width="0.7"/>
<line x1="570.20" y1="729.50" x2="572.40" y2="729.50" stroke="#444" stroke-width="0.7"/>
<line x1="570.20" y1="733.50" x2="572.40" y2="733.50" stroke="#444" stroke-width="0.7"/>
<line x1="570.20" y1="737.50" x2="572.40" y2="737.50" stroke="#444" stroke-width="0.7"/>
<line x1="570.20" y1="741.50" x2="572.40" y2="741.50" stroke="#444" stroke-width="0.7"/>
<line x1="570.20" y1="745.50" x2="572.40" y2="745.50" stroke="#444" stroke-width="0.7"/>
<line x1="570.20" y1="749.50" x2="572.40" y2="749.50" stroke="#444" stroke-width="0.7"/>
<line x1="570.20" y1="753.50" x2="572.40" y2="753.50" stroke="#444" stroke-width="0.7"/>
<line x1="570.20" y1="757.50" x2="572.40" y2="757.50" stroke="#444" stroke-width="0.7"/>
<line x1="570.20" y1="761.50" x2="572.40" y2="761.50" stroke="#444" stroke-width="0.7"/>
<line x1="570.20" y1="765.50" x2="572.40" y2="765.50" stroke="#444" stroke-width="0.7"/>
<line x1="570.20" y1="769.50" x2="572.40" y2="769.50" stroke="#444" stroke-width="0.7"/>
<line x1="570.20" y1="773.50" x2="572.40" y2="773.50" stroke="#444" stroke-width="0.7"/>
<line x1="570.20" y1="777.50" x2="572.40" y2="777.50" stroke="#444" stroke-width="0.7"/>
<line x1="570.20" y1="781.50" x2="572.40" y2="781.50" stroke="#444" stroke-width="0.7"/>
<line x1="570.20" y1="785.50" x2="572.40" y2="785.50" stroke="#444" stroke-width="0.7"/>
<line x1="106.30" y1="370.30" x2="106.30" y2="788.60" stroke="#333" stroke-width="0.9"/>
<line x1="106.00" y1="788.20" x2="211.50" y2="788.20" stroke="#333" stroke-width="0.9"/>
<line x1="110.50" y1="788.20" x2="110.50" y2="790.70" stroke="#333" stroke-width="0.8"/>
<text x="111.20" y="797.60" font-size="5.9" fill="#333" text-anchor="middle" stroke="#333" stroke-width="0.148">0</text>
<line x1="134.55" y1="788.20" x2="134.55" y2="790.70" stroke="#333" stroke-width="0.8"/>
<text x="135.25" y="797.60" font-size="5.9" fill="#333" text-anchor="middle" stroke="#333" stroke-width="0.148">25</text>
<line x1="158.60" y1="788.20" x2="158.60" y2="790.70" stroke="#333" stroke-width="0.8"/>
<text x="159.30" y="797.60" font-size="5.9" fill="#333" text-anchor="middle" stroke="#333" stroke-width="0.148">50</text>
<line x1="182.65" y1="788.20" x2="182.65" y2="790.70" stroke="#333" stroke-width="0.8"/>
<text x="183.35" y="797.60" font-size="5.9" fill="#333" text-anchor="middle" stroke="#333" stroke-width="0.148">75</text>
<line x1="206.70" y1="788.20" x2="206.70" y2="790.70" stroke="#333" stroke-width="0.8"/>
<text x="207.40" y="797.60" font-size="5.9" fill="#333" text-anchor="middle" stroke="#333" stroke-width="0.148">100</text>
<line x1="221.90" y1="788.20" x2="327.30" y2="788.20" stroke="#333" stroke-width="0.9"/>
<line x1="226.30" y1="788.20" x2="226.30" y2="790.70" stroke="#333" stroke-width="0.8"/>
<text x="227.00" y="797.60" font-size="5.9" fill="#333" text-anchor="middle" stroke="#333" stroke-width="0.148">0</text>
<line x1="250.35" y1="788.20" x2="250.35" y2="790.70" stroke="#333" stroke-width="0.8"/>
<text x="251.05" y="797.60" font-size="5.9" fill="#333" text-anchor="middle" stroke="#333" stroke-width="0.148">25</text>
<line x1="274.40" y1="788.20" x2="274.40" y2="790.70" stroke="#333" stroke-width="0.8"/>
<text x="275.10" y="797.60" font-size="5.9" fill="#333" text-anchor="middle" stroke="#333" stroke-width="0.148">50</text>
<line x1="298.45" y1="788.20" x2="298.45" y2="790.70" stroke="#333" stroke-width="0.8"/>
<text x="299.15" y="797.60" font-size="5.9" fill="#333" text-anchor="middle" stroke="#333" stroke-width="0.148">75</text>
<line x1="322.50" y1="788.20" x2="322.50" y2="790.70" stroke="#333" stroke-width="0.8"/>
<text x="323.20" y="797.60" font-size="5.9" fill="#333" text-anchor="middle" stroke="#333" stroke-width="0.148">100</text>
<line x1="338.90" y1="788.20" x2="444.30" y2="788.20" stroke="#333" stroke-width="0.9"/>
<line x1="343.30" y1="788.20" x2="343.30" y2="790.70" stroke="#333" stroke-width="0.8"/>
<text x="344.00" y="797.60" font-size="5.9" fill="#333" text-anchor="middle" stroke="#333" stroke-width="0.148">0</text>
<line x1="367.35" y1="788.20" x2="367.35" y2="790.70" stroke="#333" stroke-width="0.8"/>
<text x="368.05" y="797.60" font-size="5.9" fill="#333" text-anchor="middle" stroke="#333" stroke-width="0.148">25</text>
<line x1="391.40" y1="788.20" x2="391.40" y2="790.70" stroke="#333" stroke-width="0.8"/>
<text x="392.10" y="797.60" font-size="5.9" fill="#333" text-anchor="middle" stroke="#333" stroke-width="0.148">50</text>
<line x1="415.45" y1="788.20" x2="415.45" y2="790.70" stroke="#333" stroke-width="0.8"/>
<text x="416.15" y="797.60" font-size="5.9" fill="#333" text-anchor="middle" stroke="#333" stroke-width="0.148">75</text>
<line x1="439.50" y1="788.20" x2="439.50" y2="790.70" stroke="#333" stroke-width="0.8"/>
<text x="440.20" y="797.60" font-size="5.9" fill="#333" text-anchor="middle" stroke="#333" stroke-width="0.148">100</text>
<line x1="455.90" y1="788.20" x2="561.30" y2="788.20" stroke="#333" stroke-width="0.9"/>
<line x1="460.30" y1="788.20" x2="460.30" y2="790.70" stroke="#333" stroke-width="0.8"/>
<text x="461.00" y="797.60" font-size="5.9" fill="#333" text-anchor="middle" stroke="#333" stroke-width="0.148">0</text>
<line x1="484.35" y1="788.20" x2="484.35" y2="790.70" stroke="#333" stroke-width="0.8"/>
<text x="485.05" y="797.60" font-size="5.9" fill="#333" text-anchor="middle" stroke="#333" stroke-width="0.148">25</text>
<line x1="508.40" y1="788.20" x2="508.40" y2="790.70" stroke="#333" stroke-width="0.8"/>
<text x="509.10" y="797.60" font-size="5.9" fill="#333" text-anchor="middle" stroke="#333" stroke-width="0.148">50</text>
<line x1="532.45" y1="788.20" x2="532.45" y2="790.70" stroke="#333" stroke-width="0.8"/>
<text x="533.15" y="797.60" font-size="5.9" fill="#333" text-anchor="middle" stroke="#333" stroke-width="0.148">75</text>
<line x1="556.50" y1="788.20" x2="556.50" y2="790.70" stroke="#333" stroke-width="0.8"/>
<text x="557.20" y="797.60" font-size="5.9" fill="#333" text-anchor="middle" stroke="#333" stroke-width="0.148">100</text>
<line x1="572.60" y1="788.20" x2="678.00" y2="788.20" stroke="#333" stroke-width="0.9"/>
<line x1="577.00" y1="788.20" x2="577.00" y2="790.70" stroke="#333" stroke-width="0.8"/>
<text x="577.70" y="797.60" font-size="5.9" fill="#333" text-anchor="middle" stroke="#333" stroke-width="0.148">0</text>
<line x1="601.05" y1="788.20" x2="601.05" y2="790.70" stroke="#333" stroke-width="0.8"/>
<text x="601.75" y="797.60" font-size="5.9" fill="#333" text-anchor="middle" stroke="#333" stroke-width="0.148">25</text>
<line x1="625.10" y1="788.20" x2="625.10" y2="790.70" stroke="#333" stroke-width="0.8"/>
<text x="625.80" y="797.60" font-size="5.9" fill="#333" text-anchor="middle" stroke="#333" stroke-width="0.148">50</text>
<line x1="649.15" y1="788.20" x2="649.15" y2="790.70" stroke="#333" stroke-width="0.8"/>
<text x="649.85" y="797.60" font-size="5.9" fill="#333" text-anchor="middle" stroke="#333" stroke-width="0.148">75</text>
<line x1="673.20" y1="788.20" x2="673.20" y2="790.70" stroke="#333" stroke-width="0.8"/>
<text x="673.90" y="797.60" font-size="5.9" fill="#333" text-anchor="middle" stroke="#333" stroke-width="0.148">100</text>
<text x="362.30" y="810.70" font-size="8.25" fill="#111" text-anchor="middle" stroke="#111" stroke-width="0.206">Variance explained (%)</text>
<line x1="140.00" y1="373.50" x2="149.60" y2="373.50" stroke="#444" stroke-width="0.6"/>
<line x1="117.00" y1="373.50" x2="126.20" y2="373.50" stroke="#444" stroke-width="0.6"/>
<rect x="126.20" y="372.00" width="13.80" height="3.00" fill="#00B0F6" stroke="#333" stroke-width="0.5"/>
<line x1="130.70" y1="372.00" x2="130.70" y2="375.00" stroke="#333" stroke-width="0.6"/>
<line x1="121.10" y1="377.50" x2="125.40" y2="377.50" stroke="#444" stroke-width="0.6"/>
<line x1="115.40" y1="377.50" x2="116.20" y2="377.50" stroke="#444" stroke-width="0.6"/>
<rect x="116.20" y="376.00" width="4.90" height="3.00" fill="#F8766D" stroke="#333" stroke-width="0.5"/>
<line x1="119.60" y1="376.00" x2="119.60" y2="379.00" stroke="#333" stroke-width="0.6"/>
<line x1="166.80" y1="381.50" x2="176.00" y2="381.50" stroke="#444" stroke-width="0.6"/>
<line x1="148.00" y1="381.50" x2="154.00" y2="381.50" stroke="#444" stroke-width="0.6"/>
<rect x="154.00" y="380.00" width="12.80" height="3.00" fill="#00B0F6" stroke="#333" stroke-width="0.5"/>
<line x1="158.80" y1="380.00" x2="158.80" y2="383.00" stroke="#333" stroke-width="0.6"/>
<circle cx="179.80" cy="381.50" r="0.85" fill="#222"/>
<line x1="134.40" y1="385.50" x2="139.50" y2="385.50" stroke="#444" stroke-width="0.6"/>
<line x1="123.10" y1="385.50" x2="129.40" y2="385.50" stroke="#444" stroke-width="0.6"/>
<rect x="129.40" y="384.00" width="5.00" height="3.00" fill="#F8766D" stroke="#333" stroke-width="0.5"/>
<line x1="131.50" y1="384.00" x2="131.50" y2="387.00" stroke="#333" stroke-width="0.6"/>
<circle cx="142.00" cy="385.50" r="0.85" fill="#222"/>
<line x1="159.90" y1="389.50" x2="162.80" y2="389.50" stroke="#444" stroke-width="0.6"/>
<line x1="147.10" y1="389.50" x2="152.00" y2="389.50" stroke="#444" stroke-width="0.6"/>
<rect x="152.00" y="388.00" width="7.90" height="3.00" fill="#00B0F6" stroke="#333" stroke-width="0.5"/>
<line x1="156.40" y1="388.00" x2="156.40" y2="391.00" stroke="#333" stroke-width="0.6"/>
<circle cx="170.50" cy="389.50" r="0.85" fill="#222"/>
<line x1="117.80" y1="393.50" x2="120.30" y2="393.50" stroke="#444" stroke-width="0.6"/>
<rect x="120.30" y="392.00" width="3.30" height="3.00" fill="#00B0F6" stroke="#333" stroke-width="0.5"/>
<line x1="121.90" y1="392.00" x2="121.90" y2="395.00" stroke="#333" stroke-width="0.6"/>
<line x1="126.70" y1="397.50" x2="137.90" y2="397.50" stroke="#444" stroke-width="0.6"/>
<line x1="111.40" y1="397.50" x2="117.40" y2="397.50" stroke="#444" stroke-width="0.6"/>
<rect x="117.40" y="396.00" width="9.30" height="3.00" fill="#F8766D" stroke="#333" stroke-width="0.5"/>
<line x1="121.90" y1="396.00" x2="121.90" y2="399.00" stroke="#333" stroke-width="0.6"/>
<line x1="142.70" y1="401.50" x2="152.40" y2="401.50" stroke="#444" stroke-width="0.6"/>
<line x1="131.20" y1="401.50" x2="134.20" y2="401.50" stroke="#444" stroke-width="0.6"/>
<rect x="134.20" y="400.00" width="8.50" height="3.00" fill="#F8766D" stroke="#333" stroke-width="0.5"/>
<line x1="138.70" y1="400.00" x2="138.70" y2="403.00" stroke="#333" stroke-width="0.6"/>
<line x1="148.70" y1="405.50" x2="156.00" y2="405.50" stroke="#444" stroke-width="0.6"/>
<line x1="139.50" y1="405.50" x2="142.40" y2="405.50" stroke="#444" stroke-width="0.6"/>
<rect x="142.40" y="404.00" width="6.30" height="3.00" fill="#F8766D" stroke="#333" stroke-width="0.5"/>
<line x1="147.60" y1="404.00" x2="147.60" y2="407.00" stroke="#333" stroke-width="0.6"/>
<circle cx="166.30" cy="405.50" r="0.85" fill="#222"/>
<circle cx="174.40" cy="405.50" r="0.85" fill="#222"/>
<line x1="146.80" y1="409.50" x2="156.70" y2="409.50" stroke="#444" stroke-width="0.6"/>
<line x1="120.00" y1="409.50" x2="131.20" y2="409.50" stroke="#444" stroke-width="0.6"/>
<rect x="131.20" y="408.00" width="15.60" height="3.00" fill="#A3A500" stroke="#333" stroke-width="0.5"/>
<line x1="141.60" y1="408.00" x2="141.60" y2="411.00" stroke="#333" stroke-width="0.6"/>
<circle cx="164.40" cy="409.50" r="0.85" fill="#222"/>
<line x1="137.90" y1="413.50" x2="147.60" y2="413.50" stroke="#444" stroke-width="0.6"/>
<line x1="110.60" y1="413.50" x2="112.20" y2="413.50" stroke="#444" stroke-width="0.6"/>
<rect x="112.20" y="412.00" width="25.70" height="3.00" fill="#00B0F6" stroke="#333" stroke-width="0.5"/>
<line x1="118.30" y1="412.00" x2="118.30" y2="415.00" stroke="#333" stroke-width="0.6"/>
<line x1="136.80" y1="417.50" x2="143.90" y2="417.50" stroke="#444" stroke-width="0.6"/>
<line x1="110.60" y1="417.50" x2="117.00" y2="417.50" stroke="#444" stroke-width="0.6"/>
<rect x="117.00" y="416.00" width="19.80" height="3.00" fill="#00BF7D" stroke="#333" stroke-width="0.5"/>
<line x1="128.80" y1="416.00" x2="128.80" y2="419.00" stroke="#333" stroke-width="0.6"/>
<line x1="110.60" y1="421.50" x2="113.00" y2="421.50" stroke="#444" stroke-width="0.6"/>
<rect x="113.00" y="420.00" width="6.80" height="3.00" fill="#F8766D" stroke="#333" stroke-width="0.5"/>
<line x1="117.50" y1="420.00" x2="117.50" y2="423.00" stroke="#333" stroke-width="0.6"/>
<circle cx="129.90" cy="421.50" r="0.85" fill="#222"/>
<circle cx="133.90" cy="421.50" r="0.85" fill="#222"/>
<line x1="144.80" y1="425.50" x2="160.40" y2="425.50" stroke="#444" stroke-width="0.6"/>
<line x1="124.00" y1="425.50" x2="133.40" y2="425.50" stroke="#444" stroke-width="0.6"/>
<rect x="133.40" y="424.00" width="11.40" height="3.00" fill="#00B0F6" stroke="#333" stroke-width="0.5"/>
<line x1="138.70" y1="424.00" x2="138.70" y2="427.00" stroke="#333" stroke-width="0.6"/>
<line x1="125.90" y1="429.50" x2="133.40" y2="429.50" stroke="#444" stroke-width="0.6"/>
<rect x="133.40" y="428.00" width="5.30" height="3.00" fill="#F8766D" stroke="#333" stroke-width="0.5"/>
<line x1="136.00" y1="428.00" x2="136.00" y2="431.00" stroke="#333" stroke-width="0.6"/>
<circle cx="151.10" cy="429.50" r="0.85" fill="#222"/>
<line x1="146.40" y1="433.50" x2="157.20" y2="433.50" stroke="#444" stroke-width="0.6"/>
<line x1="135.20" y1="433.50" x2="137.60" y2="433.50" stroke="#444" stroke-width="0.6"/>
<rect x="137.60" y="432.00" width="8.80" height="3.00" fill="#00B0F6" stroke="#333" stroke-width="0.5"/>
<line x1="138.70" y1="432.00" x2="138.70" y2="435.00" stroke="#333" stroke-width="0.6"/>
<line x1="111.10" y1="437.50" x2="112.20" y2="437.50" stroke="#444" stroke-width="0.6"/>
<rect x="112.20" y="436.00" width="7.30" height="3.00" fill="#00B0F6" stroke="#333" stroke-width="0.5"/>
<line x1="115.40" y1="436.00" x2="115.40" y2="439.00" stroke="#333" stroke-width="0.6"/>
<line x1="121.10" y1="441.50" x2="127.20" y2="441.50" stroke="#444" stroke-width="0.6"/>
<rect x="113.00" y="440.00" width="8.10" height="3.00" fill="#F8766D" stroke="#333" stroke-width="0.5"/>
<line x1="117.00" y1="440.00" x2="117.00" y2="443.00" stroke="#333" stroke-width="0.6"/>
<circle cx="137.10" cy="441.50" r="0.85" fill="#222"/>
<line x1="162.50" y1="445.50" x2="166.80" y2="445.50" stroke="#444" stroke-width="0.6"/>
<line x1="154.00" y1="445.50" x2="157.20" y2="445.50" stroke="#444" stroke-width="0.6"/>
<rect x="157.20" y="444.00" width="5.30" height="3.00" fill="#F8766D" stroke="#333" stroke-width="0.5"/>
<line x1="159.60" y1="444.00" x2="159.60" y2="447.00" stroke="#333" stroke-width="0.6"/>
<circle cx="145.10" cy="445.50" r="0.85" fill="#222"/>
<circle cx="179.20" cy="445.50" r="0.85" fill="#222"/>
<circle cx="185.60" cy="445.50" r="0.85" fill="#222"/>
<line x1="159.30" y1="449.50" x2="163.60" y2="449.50" stroke="#444" stroke-width="0.6"/>
<line x1="144.00" y1="449.50" x2="152.00" y2="449.50" stroke="#444" stroke-width="0.6"/>
<rect x="152.00" y="448.00" width="7.30" height="3.00" fill="#F8766D" stroke="#333" stroke-width="0.5"/>
<line x1="156.00" y1="448.00" x2="156.00" y2="451.00" stroke="#333" stroke-width="0.6"/>
<circle cx="170.80" cy="449.50" r="0.85" fill="#222"/>
<circle cx="176.90" cy="449.50" r="0.85" fill="#222"/>
<line x1="150.80" y1="453.50" x2="158.80" y2="453.50" stroke="#444" stroke-width="0.6"/>
<line x1="122.30" y1="453.50" x2="137.90" y2="453.50" stroke="#444" stroke-width="0.6"/>
<rect x="137.90" y="452.00" width="12.90" height="3.00" fill="#A3A500" stroke="#333" stroke-width="0.5"/>
<line x1="148.00" y1="452.00" x2="148.00" y2="455.00" stroke="#333" stroke-width="0.6"/>
<circle cx="164.40" cy="453.50" r="0.85" fill="#222"/>
<line x1="135.80" y1="457.50" x2="140.00" y2="457.50" stroke="#444" stroke-width="0.6"/>
<line x1="126.70" y1="457.50" x2="130.40" y2="457.50" stroke="#444" stroke-width="0.6"/>
<rect x="130.40" y="456.00" width="5.40" height="3.00" fill="#00BF7D" stroke="#333" stroke-width="0.5"/>
<line x1="133.10" y1="456.00" x2="133.10" y2="459.00" stroke="#333" stroke-width="0.6"/>
<circle cx="117.00" cy="457.50" r="0.85" fill="#222"/>
<circle cx="156.40" cy="457.50" r="0.85" fill="#222"/>
<line x1="119.10" y1="461.50" x2="121.40" y2="461.50" stroke="#444" stroke-width="0.6"/>
<rect x="121.40" y="460.00" width="4.50" height="3.00" fill="#F8766D" stroke="#333" stroke-width="0.5"/>
<line x1="123.50" y1="460.00" x2="123.50" y2="463.00" stroke="#333" stroke-width="0.6"/>
<circle cx="137.10" cy="461.50" r="0.85" fill="#222"/>
<line x1="110.60" y1="464.00" x2="110.60" y2="467.00" stroke="#333" stroke-width="0.6"/>
<line x1="138.70" y1="469.50" x2="142.00" y2="469.50" stroke="#444" stroke-width="0.6"/>
<line x1="131.00" y1="469.50" x2="134.40" y2="469.50" stroke="#444" stroke-width="0.6"/>
<rect x="134.40" y="468.00" width="4.30" height="3.00" fill="#A3A500" stroke="#333" stroke-width="0.5"/>
<line x1="136.30" y1="468.00" x2="136.30" y2="471.00" stroke="#333" stroke-width="0.6"/>
<circle cx="155.60" cy="469.50" r="0.85" fill="#222"/>
<line x1="141.60" y1="473.50" x2="157.20" y2="473.50" stroke="#444" stroke-width="0.6"/>
<line x1="125.60" y1="473.50" x2="129.90" y2="473.50" stroke="#444" stroke-width="0.6"/>
<rect x="129.90" y="472.00" width="11.70" height="3.00" fill="#00B0F6" stroke="#333" stroke-width="0.5"/>
<line x1="131.50" y1="472.00" x2="131.50" y2="475.00" stroke="#333" stroke-width="0.6"/>
<circle cx="161.50" cy="473.50" r="0.85" fill="#222"/>
<line x1="159.30" y1="477.50" x2="165.20" y2="477.50" stroke="#444" stroke-width="0.6"/>
<rect x="165.20" y="476.00" width="8.50" height="3.00" fill="#00B0F6" stroke="#333" stroke-width="0.5"/>
<line x1="170.00" y1="476.00" x2="170.00" y2="479.00" stroke="#333" stroke-width="0.6"/>
<circle cx="180.80" cy="477.50" r="0.85" fill="#222"/>
<line x1="128.80" y1="481.50" x2="139.50" y2="481.50" stroke="#444" stroke-width="0.6"/>
<line x1="110.60" y1="481.50" x2="115.90" y2="481.50" stroke="#444" stroke-width="0.6"/>
<rect x="115.90" y="480.00" width="12.90" height="3.00" fill="#00BF7D" stroke="#333" stroke-width="0.5"/>
<line x1="122.30" y1="480.00" x2="122.30" y2="483.00" stroke="#333" stroke-width="0.6"/>
<line x1="174.00" y1="485.50" x2="179.70" y2="485.50" stroke="#444" stroke-width="0.6"/>
<line x1="159.30" y1="485.50" x2="166.30" y2="485.50" stroke="#444" stroke-width="0.6"/>
<rect x="166.30" y="484.00" width="7.70" height="3.00" fill="#F8766D" stroke="#333" stroke-width="0.5"/>
<line x1="170.00" y1="484.00" x2="170.00" y2="487.00" stroke="#333" stroke-width="0.6"/>
<circle cx="186.90" cy="485.50" r="0.85" fill="#222"/>
<line x1="156.10" y1="489.50" x2="157.70" y2="489.50" stroke="#444" stroke-width="0.6"/>
<line x1="131.00" y1="489.50" x2="144.30" y2="489.50" stroke="#444" stroke-width="0.6"/>
<rect x="144.30" y="488.00" width="11.80" height="3.00" fill="#00B0F6" stroke="#333" stroke-width="0.5"/>
<line x1="153.20" y1="488.00" x2="153.20" y2="491.00" stroke="#333" stroke-width="0.6"/>
<circle cx="162.50" cy="489.50" r="0.85" fill="#222"/>
<line x1="168.80" y1="493.50" x2="176.80" y2="493.50" stroke="#444" stroke-width="0.6"/>
<line x1="155.60" y1="493.50" x2="157.20" y2="493.50" stroke="#444" stroke-width="0.6"/>
<rect x="157.20" y="492.00" width="11.60" height="3.00" fill="#F8766D" stroke="#333" stroke-width="0.5"/>
<line x1="162.80" y1="492.00" x2="162.80" y2="495.00" stroke="#333" stroke-width="0.6"/>
<circle cx="182.40" cy="493.50" r="0.85" fill="#222"/>
<line x1="165.70" y1="497.50" x2="173.30" y2="497.50" stroke="#444" stroke-width="0.6"/>
<line x1="149.60" y1="497.50" x2="153.20" y2="497.50" stroke="#444" stroke-width="0.6"/>
<rect x="153.20" y="496.00" width="12.50" height="3.00" fill="#00B0F6" stroke="#333" stroke-width="0.5"/>
<line x1="162.80" y1="496.00" x2="162.80" y2="499.00" stroke="#333" stroke-width="0.6"/>
<circle cx="178.90" cy="497.50" r="0.85" fill="#222"/>
<line x1="143.50" y1="501.50" x2="146.00" y2="501.50" stroke="#444" stroke-width="0.6"/>
<line x1="129.10" y1="501.50" x2="136.30" y2="501.50" stroke="#444" stroke-width="0.6"/>
<rect x="136.30" y="500.00" width="7.20" height="3.00" fill="#00B0F6" stroke="#333" stroke-width="0.5"/>
<line x1="140.00" y1="500.00" x2="140.00" y2="503.00" stroke="#333" stroke-width="0.6"/>
<line x1="145.60" y1="505.50" x2="149.20" y2="505.50" stroke="#444" stroke-width="0.6"/>
<line x1="129.60" y1="505.50" x2="135.50" y2="505.50" stroke="#444" stroke-width="0.6"/>
<rect x="135.50" y="504.00" width="10.10" height="3.00" fill="#F8766D" stroke="#333" stroke-width="0.5"/>
<line x1="140.00" y1="504.00" x2="140.00" y2="507.00" stroke="#333" stroke-width="0.6"/>
<line x1="156.10" y1="509.50" x2="164.40" y2="509.50" stroke="#444" stroke-width="0.6"/>
<line x1="145.10" y1="509.50" x2="149.20" y2="509.50" stroke="#444" stroke-width="0.6"/>
<rect x="149.20" y="508.00" width="6.90" height="3.00" fill="#F8766D" stroke="#333" stroke-width="0.5"/>
<line x1="153.20" y1="508.00" x2="153.20" y2="511.00" stroke="#333" stroke-width="0.6"/>
<circle cx="133.10" cy="509.50" r="0.85" fill="#222"/>
<circle cx="175.20" cy="509.50" r="0.85" fill="#222"/>
<line x1="165.50" y1="513.50" x2="168.80" y2="513.50" stroke="#444" stroke-width="0.6"/>
<line x1="143.50" y1="513.50" x2="154.30" y2="513.50" stroke="#444" stroke-width="0.6"/>
<rect x="154.30" y="512.00" width="11.20" height="3.00" fill="#F8766D" stroke="#333" stroke-width="0.5"/>
<line x1="160.40" y1="512.00" x2="160.40" y2="515.00" stroke="#333" stroke-width="0.6"/>
<circle cx="177.00" cy="513.50" r="0.85" fill="#222"/>
<line x1="184.00" y1="517.50" x2="185.30" y2="517.50" stroke="#444" stroke-width="0.6"/>
<line x1="171.30" y1="517.50" x2="177.30" y2="517.50" stroke="#444" stroke-width="0.6"/>
<rect x="177.30" y="516.00" width="6.70" height="3.00" fill="#E76BF3" stroke="#333" stroke-width="0.5"/>
<line x1="180.50" y1="516.00" x2="180.50" y2="519.00" stroke="#333" stroke-width="0.6"/>
<circle cx="190.10" cy="517.50" r="0.85" fill="#222"/>
<line x1="161.20" y1="521.50" x2="168.40" y2="521.50" stroke="#444" stroke-width="0.6"/>
<line x1="144.30" y1="521.50" x2="151.30" y2="521.50" stroke="#444" stroke-width="0.6"/>
<rect x="151.30" y="520.00" width="9.90" height="3.00" fill="#A3A500" stroke="#333" stroke-width="0.5"/>
<line x1="155.60" y1="520.00" x2="155.60" y2="523.00" stroke="#333" stroke-width="0.6"/>
<circle cx="173.30" cy="521.50" r="0.85" fill="#222"/>
<line x1="150.40" y1="525.50" x2="154.80" y2="525.50" stroke="#444" stroke-width="0.6"/>
<line x1="131.50" y1="525.50" x2="136.00" y2="525.50" stroke="#444" stroke-width="0.6"/>
<rect x="136.00" y="524.00" width="14.40" height="3.00" fill="#00B0F6" stroke="#333" stroke-width="0.5"/>
<line x1="141.10" y1="524.00" x2="141.10" y2="527.00" stroke="#333" stroke-width="0.6"/>
<circle cx="164.40" cy="525.50" r="0.85" fill="#222"/>
<line x1="148.70" y1="529.50" x2="158.80" y2="529.50" stroke="#444" stroke-width="0.6"/>
<line x1="127.50" y1="529.50" x2="134.20" y2="529.50" stroke="#444" stroke-width="0.6"/>
<rect x="134.20" y="528.00" width="14.50" height="3.00" fill="#00BF7D" stroke="#333" stroke-width="0.5"/>
<line x1="140.30" y1="528.00" x2="140.30" y2="531.00" stroke="#333" stroke-width="0.6"/>
<line x1="163.60" y1="533.50" x2="167.60" y2="533.50" stroke="#444" stroke-width="0.6"/>
<line x1="142.70" y1="533.50" x2="150.80" y2="533.50" stroke="#444" stroke-width="0.6"/>
<rect x="150.80" y="532.00" width="12.80" height="3.00" fill="#00B0F6" stroke="#333" stroke-width="0.5"/>
<line x1="156.40" y1="532.00" x2="156.40" y2="535.00" stroke="#333" stroke-width="0.6"/>
<circle cx="174.90" cy="533.50" r="0.85" fill="#222"/>
<line x1="144.80" y1="537.50" x2="151.90" y2="537.50" stroke="#444" stroke-width="0.6"/>
<line x1="133.90" y1="537.50" x2="138.20" y2="537.50" stroke="#444" stroke-width="0.6"/>
<rect x="138.20" y="536.00" width="6.60" height="3.00" fill="#A3A500" stroke="#333" stroke-width="0.5"/>
<line x1="141.60" y1="536.00" x2="141.60" y2="539.00" stroke="#333" stroke-width="0.6"/>
<circle cx="128.00" cy="537.50" r="0.85" fill="#222"/>
<circle cx="161.70" cy="537.50" r="0.85" fill="#222"/>
<line x1="141.10" y1="541.50" x2="153.50" y2="541.50" stroke="#444" stroke-width="0.6"/>
<line x1="126.70" y1="541.50" x2="130.40" y2="541.50" stroke="#444" stroke-width="0.6"/>
<rect x="130.40" y="540.00" width="10.70" height="3.00" fill="#00B0F6" stroke="#333" stroke-width="0.5"/>
<line x1="138.70" y1="540.00" x2="138.70" y2="543.00" stroke="#333" stroke-width="0.6"/>
<line x1="149.60" y1="545.50" x2="155.10" y2="545.50" stroke="#444" stroke-width="0.6"/>
<line x1="134.20" y1="545.50" x2="139.00" y2="545.50" stroke="#444" stroke-width="0.6"/>
<rect x="139.00" y="544.00" width="10.60" height="3.00" fill="#00B0F6" stroke="#333" stroke-width="0.5"/>
<line x1="144.30" y1="544.00" x2="144.30" y2="547.00" stroke="#333" stroke-width="0.6"/>
<circle cx="164.70" cy="545.50" r="0.85" fill="#222"/>
<line x1="125.90" y1="549.50" x2="130.40" y2="549.50" stroke="#444" stroke-width="0.6"/>
<rect x="130.40" y="548.00" width="9.60" height="3.00" fill="#00BF7D" stroke="#333" stroke-width="0.5"/>
<line x1="135.50" y1="548.00" x2="135.50" y2="551.00" stroke="#333" stroke-width="0.6"/>
<circle cx="115.00" cy="549.50" r="0.85" fill="#222"/>
<circle cx="155.10" cy="549.50" r="0.85" fill="#222"/>
<circle cx="158.80" cy="549.50" r="0.85" fill="#222"/>
<line x1="127.50" y1="553.50" x2="129.90" y2="553.50" stroke="#444" stroke-width="0.6"/>
<rect x="129.90" y="552.00" width="6.90" height="3.00" fill="#F8766D" stroke="#333" stroke-width="0.5"/>
<line x1="134.70" y1="552.00" x2="134.70" y2="555.00" stroke="#333" stroke-width="0.6"/>
<line x1="153.50" y1="557.50" x2="156.40" y2="557.50" stroke="#444" stroke-width="0.6"/>
<line x1="141.10" y1="557.50" x2="145.50" y2="557.50" stroke="#444" stroke-width="0.6"/>
<rect x="145.50" y="556.00" width="8.00" height="3.00" fill="#00B0F6" stroke="#333" stroke-width="0.5"/>
<line x1="149.20" y1="556.00" x2="149.20" y2="559.00" stroke="#333" stroke-width="0.6"/>
<circle cx="162.80" cy="557.50" r="0.85" fill="#222"/>
<line x1="133.90" y1="561.50" x2="134.70" y2="561.50" stroke="#444" stroke-width="0.6"/>
<line x1="122.70" y1="561.50" x2="126.40" y2="561.50" stroke="#444" stroke-width="0.6"/>
<rect x="126.40" y="560.00" width="7.50" height="3.00" fill="#F8766D" stroke="#333" stroke-width="0.5"/>
<line x1="129.90" y1="560.00" x2="129.90" y2="563.00" stroke="#333" stroke-width="0.6"/>
<circle cx="147.10" cy="561.50" r="0.85" fill="#222"/>
<line x1="159.30" y1="565.50" x2="165.70" y2="565.50" stroke="#444" stroke-width="0.6"/>
<line x1="139.50" y1="565.50" x2="148.40" y2="565.50" stroke="#444" stroke-width="0.6"/>
<rect x="148.40" y="564.00" width="10.90" height="3.00" fill="#00B0F6" stroke="#333" stroke-width="0.5"/>
<line x1="153.20" y1="564.00" x2="153.20" y2="567.00" stroke="#333" stroke-width="0.6"/>
<circle cx="170.50" cy="565.50" r="0.85" fill="#222"/>
<line x1="163.60" y1="569.50" x2="174.90" y2="569.50" stroke="#444" stroke-width="0.6"/>
<line x1="142.30" y1="569.50" x2="152.90" y2="569.50" stroke="#444" stroke-width="0.6"/>
<rect x="152.90" y="568.00" width="10.70" height="3.00" fill="#00B0F6" stroke="#333" stroke-width="0.5"/>
<line x1="158.00" y1="568.00" x2="158.00" y2="571.00" stroke="#333" stroke-width="0.6"/>
<circle cx="179.70" cy="569.50" r="0.85" fill="#222"/>
<line x1="133.60" y1="573.50" x2="140.00" y2="573.50" stroke="#444" stroke-width="0.6"/>
<line x1="123.50" y1="573.50" x2="127.20" y2="573.50" stroke="#444" stroke-width="0.6"/>
<rect x="127.20" y="572.00" width="6.40" height="3.00" fill="#F8766D" stroke="#333" stroke-width="0.5"/>
<line x1="130.40" y1="572.00" x2="130.40" y2="575.00" stroke="#333" stroke-width="0.6"/>
<circle cx="118.70" cy="573.50" r="0.85" fill="#222"/>
<line x1="154.00" y1="577.50" x2="159.90" y2="577.50" stroke="#444" stroke-width="0.6"/>
<line x1="141.10" y1="577.50" x2="146.00" y2="577.50" stroke="#444" stroke-width="0.6"/>
<rect x="146.00" y="576.00" width="8.00" height="3.00" fill="#F8766D" stroke="#333" stroke-width="0.5"/>
<line x1="151.60" y1="576.00" x2="151.60" y2="579.00" stroke="#333" stroke-width="0.6"/>
<circle cx="166.50" cy="577.50" r="0.85" fill="#222"/>
<line x1="140.30" y1="581.50" x2="145.10" y2="581.50" stroke="#444" stroke-width="0.6"/>
<line x1="116.60" y1="581.50" x2="130.40" y2="581.50" stroke="#444" stroke-width="0.6"/>
<rect x="130.40" y="580.00" width="9.90" height="3.00" fill="#F8766D" stroke="#333" stroke-width="0.5"/>
<line x1="131.00" y1="580.00" x2="131.00" y2="583.00" stroke="#333" stroke-width="0.6"/>
<line x1="143.20" y1="585.50" x2="144.50" y2="585.50" stroke="#444" stroke-width="0.6"/>
<line x1="137.00" y1="585.50" x2="138.40" y2="585.50" stroke="#444" stroke-width="0.6"/>
<rect x="138.40" y="584.00" width="4.80" height="3.00" fill="#E76BF3" stroke="#333" stroke-width="0.5"/>
<line x1="140.80" y1="584.00" x2="140.80" y2="587.00" stroke="#333" stroke-width="0.6"/>
<circle cx="121.10" cy="585.50" r="0.85" fill="#222"/>
<line x1="146.80" y1="589.50" x2="154.80" y2="589.50" stroke="#444" stroke-width="0.6"/>
<line x1="133.10" y1="589.50" x2="136.80" y2="589.50" stroke="#444" stroke-width="0.6"/>
<rect x="136.80" y="588.00" width="10.00" height="3.00" fill="#A3A500" stroke="#333" stroke-width="0.5"/>
<line x1="139.20" y1="588.00" x2="139.20" y2="591.00" stroke="#333" stroke-width="0.6"/>
<line x1="140.70" y1="593.50" x2="146.80" y2="593.50" stroke="#444" stroke-width="0.6"/>
<line x1="128.80" y1="593.50" x2="133.40" y2="593.50" stroke="#444" stroke-width="0.6"/>
<rect x="133.40" y="592.00" width="7.30" height="3.00" fill="#00BF7D" stroke="#333" stroke-width="0.5"/>
<line x1="138.70" y1="592.00" x2="138.70" y2="595.00" stroke="#333" stroke-width="0.6"/>
<line x1="110.60" y1="596.00" x2="110.60" y2="599.00" stroke="#333" stroke-width="0.6"/>
<line x1="162.50" y1="601.50" x2="168.90" y2="601.50" stroke="#444" stroke-width="0.6"/>
<line x1="132.60" y1="601.50" x2="143.50" y2="601.50" stroke="#444" stroke-width="0.6"/>
<rect x="143.50" y="600.00" width="19.00" height="3.00" fill="#00B0F6" stroke="#333" stroke-width="0.5"/>
<line x1="148.70" y1="600.00" x2="148.70" y2="603.00" stroke="#333" stroke-width="0.6"/>
<circle cx="174.40" cy="601.50" r="0.85" fill="#222"/>
<line x1="115.40" y1="605.50" x2="120.50" y2="605.50" stroke="#444" stroke-width="0.6"/>
<rect x="110.30" y="604.00" width="5.10" height="3.00" fill="#00BF7D" stroke="#333" stroke-width="0.5"/>
<line x1="113.00" y1="604.00" x2="113.00" y2="607.00" stroke="#333" stroke-width="0.6"/>
<circle cx="123.30" cy="605.50" r="0.85" fill="#222"/>
<line x1="127.50" y1="609.50" x2="136.80" y2="609.50" stroke="#444" stroke-width="0.6"/>
<line x1="110.60" y1="609.50" x2="112.20" y2="609.50" stroke="#444" stroke-width="0.6"/>
<rect x="112.20" y="608.00" width="15.30" height="3.00" fill="#F8766D" stroke="#333" stroke-width="0.5"/>
<line x1="119.50" y1="608.00" x2="119.50" y2="611.00" stroke="#333" stroke-width="0.6"/>
<line x1="153.20" y1="613.50" x2="162.00" y2="613.50" stroke="#444" stroke-width="0.6"/>
<line x1="121.90" y1="613.50" x2="134.40" y2="613.50" stroke="#444" stroke-width="0.6"/>
<rect x="134.40" y="612.00" width="18.80" height="3.00" fill="#00B0F6" stroke="#333" stroke-width="0.5"/>
<line x1="143.50" y1="612.00" x2="143.50" y2="615.00" stroke="#333" stroke-width="0.6"/>
<circle cx="167.60" cy="613.50" r="0.85" fill="#222"/>
<line x1="130.40" y1="617.50" x2="139.50" y2="617.50" stroke="#444" stroke-width="0.6"/>
<line x1="111.10" y1="617.50" x2="119.50" y2="617.50" stroke="#444" stroke-width="0.6"/>
<rect x="119.50" y="616.00" width="10.90" height="3.00" fill="#F8766D" stroke="#333" stroke-width="0.5"/>
<line x1="123.50" y1="616.00" x2="123.50" y2="619.00" stroke="#333" stroke-width="0.6"/>
<line x1="131.50" y1="621.50" x2="139.50" y2="621.50" stroke="#444" stroke-width="0.6"/>
<line x1="122.70" y1="621.50" x2="123.50" y2="621.50" stroke="#444" stroke-width="0.6"/>
<rect x="123.50" y="620.00" width="8.00" height="3.00" fill="#00B0F6" stroke="#333" stroke-width="0.5"/>
<line x1="127.50" y1="620.00" x2="127.50" y2="623.00" stroke="#333" stroke-width="0.6"/>
<circle cx="110.60" cy="621.50" r="0.85" fill="#222"/>
<line x1="117.50" y1="625.50" x2="119.80" y2="625.50" stroke="#444" stroke-width="0.6"/>
<line x1="110.60" y1="625.50" x2="112.20" y2="625.50" stroke="#444" stroke-width="0.6"/>
<rect x="112.20" y="624.00" width="5.30" height="3.00" fill="#00B0F6" stroke="#333" stroke-width="0.5"/>
<line x1="115.00" y1="624.00" x2="115.00" y2="627.00" stroke="#333" stroke-width="0.6"/>
<line x1="111.70" y1="629.50" x2="112.50" y2="629.50" stroke="#444" stroke-width="0.6"/>
<rect x="110.60" y="628.00" width="1.10" height="3.00" fill="#F8766D" stroke="#333" stroke-width="0.5"/>
<line x1="110.80" y1="628.00" x2="110.80" y2="631.00" stroke="#333" stroke-width="0.6"/>
<circle cx="119.80" cy="629.50" r="0.85" fill="#222"/>
<line x1="110.60" y1="632.00" x2="110.60" y2="635.00" stroke="#333" stroke-width="0.6"/>
<line x1="117.00" y1="637.50" x2="125.90" y2="637.50" stroke="#444" stroke-width="0.6"/>
<rect x="110.60" y="636.00" width="6.40" height="3.00" fill="#F8766D" stroke="#333" stroke-width="0.5"/>
<line x1="111.00" y1="636.00" x2="111.00" y2="639.00" stroke="#333" stroke-width="0.6"/>
<line x1="133.60" y1="641.50" x2="137.40" y2="641.50" stroke="#444" stroke-width="0.6"/>
<line x1="112.70" y1="641.50" x2="123.50" y2="641.50" stroke="#444" stroke-width="0.6"/>
<rect x="123.50" y="640.00" width="10.10" height="3.00" fill="#E76BF3" stroke="#333" stroke-width="0.5"/>
<line x1="126.20" y1="640.00" x2="126.20" y2="643.00" stroke="#333" stroke-width="0.6"/>
<line x1="154.50" y1="645.50" x2="159.90" y2="645.50" stroke="#444" stroke-width="0.6"/>
<line x1="128.00" y1="645.50" x2="138.40" y2="645.50" stroke="#444" stroke-width="0.6"/>
<rect x="138.40" y="644.00" width="16.10" height="3.00" fill="#A3A500" stroke="#333" stroke-width="0.5"/>
<line x1="141.60" y1="644.00" x2="141.60" y2="647.00" stroke="#333" stroke-width="0.6"/>
<circle cx="166.80" cy="645.50" r="0.85" fill="#222"/>
<rect x="110.60" y="648.00" width="1.10" height="3.00" fill="#00B0F6" stroke="#333" stroke-width="0.5"/>
<line x1="110.80" y1="648.00" x2="110.80" y2="651.00" stroke="#333" stroke-width="0.6"/>
<circle cx="119.80" cy="649.50" r="0.85" fill="#222"/>
<circle cx="128.00" cy="649.50" r="0.85" fill="#222"/>
<line x1="119.50" y1="653.50" x2="121.90" y2="653.50" stroke="#444" stroke-width="0.6"/>
<line x1="111.10" y1="653.50" x2="114.30" y2="653.50" stroke="#444" stroke-width="0.6"/>
<rect x="114.30" y="652.00" width="5.20" height="3.00" fill="#00BF7D" stroke="#333" stroke-width="0.5"/>
<line x1="116.20" y1="652.00" x2="116.20" y2="655.00" stroke="#333" stroke-width="0.6"/>
<circle cx="128.00" cy="653.50" r="0.85" fill="#222"/>
<rect x="110.60" y="656.00" width="4.80" height="3.00" fill="#F8766D" stroke="#333" stroke-width="0.5"/>
<line x1="111.50" y1="656.00" x2="111.50" y2="659.00" stroke="#333" stroke-width="0.6"/>
<circle cx="123.50" cy="657.50" r="0.85" fill="#222"/>
<circle cx="128.00" cy="657.50" r="0.85" fill="#222"/>
<line x1="135.50" y1="661.50" x2="139.50" y2="661.50" stroke="#444" stroke-width="0.6"/>
<line x1="119.50" y1="661.50" x2="123.50" y2="661.50" stroke="#444" stroke-width="0.6"/>
<rect x="123.50" y="660.00" width="12.00" height="3.00" fill="#00B0F6" stroke="#333" stroke-width="0.5"/>
<line x1="130.70" y1="660.00" x2="130.70" y2="663.00" stroke="#333" stroke-width="0.6"/>
<line x1="134.70" y1="665.50" x2="142.30" y2="665.50" stroke="#444" stroke-width="0.6"/>
<line x1="116.20" y1="665.50" x2="123.50" y2="665.50" stroke="#444" stroke-width="0.6"/>
<rect x="123.50" y="664.00" width="11.20" height="3.00" fill="#F8766D" stroke="#333" stroke-width="0.5"/>
<line x1="125.10" y1="664.00" x2="125.10" y2="667.00" stroke="#333" stroke-width="0.6"/>
<line x1="139.00" y1="669.50" x2="141.60" y2="669.50" stroke="#444" stroke-width="0.6"/>
<line x1="117.50" y1="669.50" x2="127.20" y2="669.50" stroke="#444" stroke-width="0.6"/>
<rect x="127.20" y="668.00" width="11.80" height="3.00" fill="#00B0F6" stroke="#333" stroke-width="0.5"/>
<line x1="134.00" y1="668.00" x2="134.00" y2="671.00" stroke="#333" stroke-width="0.6"/>
<rect x="110.30" y="672.00" width="2.20" height="3.00" fill="#F8766D" stroke="#333" stroke-width="0.5"/>
<line x1="111.00" y1="672.00" x2="111.00" y2="675.00" stroke="#333" stroke-width="0.6"/>
<circle cx="117.80" cy="673.50" r="0.85" fill="#222"/>
<line x1="127.00" y1="677.50" x2="135.00" y2="677.50" stroke="#444" stroke-width="0.6"/>
<line x1="115.40" y1="677.50" x2="118.30" y2="677.50" stroke="#444" stroke-width="0.6"/>
<rect x="118.30" y="676.00" width="8.70" height="3.00" fill="#F8766D" stroke="#333" stroke-width="0.5"/>
<line x1="123.50" y1="676.00" x2="123.50" y2="679.00" stroke="#333" stroke-width="0.6"/>
<circle cx="153.20" cy="677.50" r="0.85" fill="#222"/>
<line x1="155.60" y1="681.50" x2="162.00" y2="681.50" stroke="#444" stroke-width="0.6"/>
<line x1="138.70" y1="681.50" x2="143.20" y2="681.50" stroke="#444" stroke-width="0.6"/>
<rect x="143.20" y="680.00" width="12.40" height="3.00" fill="#F8766D" stroke="#333" stroke-width="0.5"/>
<line x1="146.00" y1="680.00" x2="146.00" y2="683.00" stroke="#333" stroke-width="0.6"/>
<circle cx="165.70" cy="681.50" r="0.85" fill="#222"/>
<line x1="134.70" y1="685.50" x2="143.90" y2="685.50" stroke="#444" stroke-width="0.6"/>
<line x1="119.80" y1="685.50" x2="124.30" y2="685.50" stroke="#444" stroke-width="0.6"/>
<rect x="124.30" y="684.00" width="10.40" height="3.00" fill="#A3A500" stroke="#333" stroke-width="0.5"/>
<line x1="130.70" y1="684.00" x2="130.70" y2="687.00" stroke="#333" stroke-width="0.6"/>
<line x1="120.60" y1="689.50" x2="121.10" y2="689.50" stroke="#444" stroke-width="0.6"/>
<line x1="110.60" y1="689.50" x2="115.10" y2="689.50" stroke="#444" stroke-width="0.6"/>
<rect x="115.10" y="688.00" width="5.50" height="3.00" fill="#00B0F6" stroke="#333" stroke-width="0.5"/>
<line x1="117.80" y1="688.00" x2="117.80" y2="691.00" stroke="#333" stroke-width="0.6"/>
<line x1="130.70" y1="693.50" x2="132.60" y2="693.50" stroke="#444" stroke-width="0.6"/>
<line x1="124.30" y1="693.50" x2="126.40" y2="693.50" stroke="#444" stroke-width="0.6"/>
<rect x="126.40" y="692.00" width="4.30" height="3.00" fill="#00B0F6" stroke="#333" stroke-width="0.5"/>
<line x1="128.50" y1="692.00" x2="128.50" y2="695.00" stroke="#333" stroke-width="0.6"/>
<circle cx="148.00" cy="693.50" r="0.85" fill="#222"/>
<rect x="110.30" y="696.00" width="1.40" height="3.00" fill="#00BF7D" stroke="#333" stroke-width="0.5"/>
<line x1="110.80" y1="696.00" x2="110.80" y2="699.00" stroke="#333" stroke-width="0.6"/>
<circle cx="113.80" cy="697.50" r="0.85" fill="#222"/>
<circle cx="122.30" cy="697.50" r="0.85" fill="#222"/>
<line x1="130.40" y1="701.50" x2="133.60" y2="701.50" stroke="#444" stroke-width="0.6"/>
<line x1="123.50" y1="701.50" x2="126.70" y2="701.50" stroke="#444" stroke-width="0.6"/>
<rect x="126.70" y="700.00" width="3.70" height="3.00" fill="#F8766D" stroke="#333" stroke-width="0.5"/>
<line x1="128.50" y1="700.00" x2="128.50" y2="703.00" stroke="#333" stroke-width="0.6"/>
<circle cx="117.80" cy="701.50" r="0.85" fill="#222"/>
<circle cx="137.10" cy="701.50" r="0.85" fill="#222"/>
<line x1="125.90" y1="705.50" x2="129.40" y2="705.50" stroke="#444" stroke-width="0.6"/>
<line x1="110.60" y1="705.50" x2="115.40" y2="705.50" stroke="#444" stroke-width="0.6"/>
<rect x="115.40" y="704.00" width="10.50" height="3.00" fill="#00B0F6" stroke="#333" stroke-width="0.5"/>
<line x1="120.60" y1="704.00" x2="120.60" y2="707.00" stroke="#333" stroke-width="0.6"/>
<line x1="136.80" y1="709.50" x2="138.70" y2="709.50" stroke="#444" stroke-width="0.6"/>
<line x1="125.90" y1="709.50" x2="128.30" y2="709.50" stroke="#444" stroke-width="0.6"/>
<rect x="128.30" y="708.00" width="8.50" height="3.00" fill="#F8766D" stroke="#333" stroke-width="0.5"/>
<line x1="132.60" y1="708.00" x2="132.60" y2="711.00" stroke="#333" stroke-width="0.6"/>
<line x1="148.70" y1="713.50" x2="154.80" y2="713.50" stroke="#444" stroke-width="0.6"/>
<line x1="137.90" y1="713.50" x2="141.10" y2="713.50" stroke="#444" stroke-width="0.6"/>
<rect x="141.10" y="712.00" width="7.60" height="3.00" fill="#00B0F6" stroke="#333" stroke-width="0.5"/>
<line x1="145.10" y1="712.00" x2="145.10" y2="715.00" stroke="#333" stroke-width="0.6"/>
<circle cx="159.30" cy="713.50" r="0.85" fill="#222"/>
<line x1="115.40" y1="717.50" x2="121.90" y2="717.50" stroke="#444" stroke-width="0.6"/>
<rect x="110.30" y="716.00" width="5.10" height="3.00" fill="#00B0F6" stroke="#333" stroke-width="0.5"/>
<line x1="112.80" y1="716.00" x2="112.80" y2="719.00" stroke="#333" stroke-width="0.6"/>
<line x1="118.70" y1="721.50" x2="125.90" y2="721.50" stroke="#444" stroke-width="0.6"/>
<line x1="111.10" y1="721.50" x2="112.50" y2="721.50" stroke="#444" stroke-width="0.6"/>
<rect x="112.50" y="720.00" width="6.20" height="3.00" fill="#F8766D" stroke="#333" stroke-width="0.5"/>
<line x1="117.00" y1="720.00" x2="117.00" y2="723.00" stroke="#333" stroke-width="0.6"/>
<line x1="115.00" y1="725.50" x2="117.80" y2="725.50" stroke="#444" stroke-width="0.6"/>
<rect x="110.60" y="724.00" width="4.40" height="3.00" fill="#F8766D" stroke="#333" stroke-width="0.5"/>
<line x1="112.50" y1="724.00" x2="112.50" y2="727.00" stroke="#333" stroke-width="0.6"/>
<circle cx="125.90" cy="725.50" r="0.85" fill="#222"/>
<line x1="139.20" y1="729.50" x2="145.50" y2="729.50" stroke="#444" stroke-width="0.6"/>
<line x1="126.70" y1="729.50" x2="127.80" y2="729.50" stroke="#444" stroke-width="0.6"/>
<rect x="127.80" y="728.00" width="11.40" height="3.00" fill="#F8766D" stroke="#333" stroke-width="0.5"/>
<line x1="133.60" y1="728.00" x2="133.60" y2="731.00" stroke="#333" stroke-width="0.6"/>
<line x1="148.70" y1="733.50" x2="151.90" y2="733.50" stroke="#444" stroke-width="0.6"/>
<line x1="137.10" y1="733.50" x2="142.40" y2="733.50" stroke="#444" stroke-width="0.6"/>
<rect x="142.40" y="732.00" width="6.30" height="3.00" fill="#E76BF3" stroke="#333" stroke-width="0.5"/>
<line x1="145.50" y1="732.00" x2="145.50" y2="735.00" stroke="#333" stroke-width="0.6"/>
<circle cx="163.30" cy="733.50" r="0.85" fill="#222"/>
<circle cx="168.90" cy="733.50" r="0.85" fill="#222"/>
<line x1="124.60" y1="737.50" x2="125.60" y2="737.50" stroke="#444" stroke-width="0.6"/>
<line x1="114.60" y1="737.50" x2="115.90" y2="737.50" stroke="#444" stroke-width="0.6"/>
<rect x="115.90" y="736.00" width="8.70" height="3.00" fill="#A3A500" stroke="#333" stroke-width="0.5"/>
<line x1="119.50" y1="736.00" x2="119.50" y2="739.00" stroke="#333" stroke-width="0.6"/>
<line x1="157.20" y1="741.50" x2="169.20" y2="741.50" stroke="#444" stroke-width="0.6"/>
<line x1="138.40" y1="741.50" x2="140.30" y2="741.50" stroke="#444" stroke-width="0.6"/>
<rect x="140.30" y="740.00" width="16.90" height="3.00" fill="#00B0F6" stroke="#333" stroke-width="0.5"/>
<line x1="150.80" y1="740.00" x2="150.80" y2="743.00" stroke="#333" stroke-width="0.6"/>
<circle cx="115.00" cy="741.50" r="0.85" fill="#222"/>
<circle cx="174.50" cy="741.50" r="0.85" fill="#222"/>
<line x1="139.50" y1="745.50" x2="151.60" y2="745.50" stroke="#444" stroke-width="0.6"/>
<line x1="116.20" y1="745.50" x2="124.30" y2="745.50" stroke="#444" stroke-width="0.6"/>
<rect x="124.30" y="744.00" width="15.20" height="3.00" fill="#00BF7D" stroke="#333" stroke-width="0.5"/>
<line x1="137.90" y1="744.00" x2="137.90" y2="747.00" stroke="#333" stroke-width="0.6"/>
<line x1="132.60" y1="749.50" x2="141.10" y2="749.50" stroke="#444" stroke-width="0.6"/>
<line x1="110.60" y1="749.50" x2="111.70" y2="749.50" stroke="#444" stroke-width="0.6"/>
<rect x="111.70" y="748.00" width="20.90" height="3.00" fill="#F8766D" stroke="#333" stroke-width="0.5"/>
<line x1="121.40" y1="748.00" x2="121.40" y2="751.00" stroke="#333" stroke-width="0.6"/>
<line x1="190.90" y1="753.50" x2="204.60" y2="753.50" stroke="#444" stroke-width="0.6"/>
<line x1="167.30" y1="753.50" x2="180.20" y2="753.50" stroke="#444" stroke-width="0.6"/>
<rect x="180.20" y="752.00" width="10.70" height="3.00" fill="#00B0F6" stroke="#333" stroke-width="0.5"/>
<line x1="185.60" y1="752.00" x2="185.60" y2="755.00" stroke="#333" stroke-width="0.6"/>
<circle cx="209.90" cy="753.50" r="0.85" fill="#222"/>
<line x1="134.70" y1="757.50" x2="150.80" y2="757.50" stroke="#444" stroke-width="0.6"/>
<rect x="120.30" y="756.00" width="14.40" height="3.00" fill="#F8766D" stroke="#333" stroke-width="0.5"/>
<line x1="129.40" y1="756.00" x2="129.40" y2="759.00" stroke="#333" stroke-width="0.6"/>
<line x1="139.50" y1="761.50" x2="160.90" y2="761.50" stroke="#444" stroke-width="0.6"/>
<line x1="110.60" y1="761.50" x2="120.60" y2="761.50" stroke="#444" stroke-width="0.6"/>
<rect x="120.60" y="760.00" width="18.90" height="3.00" fill="#00B0F6" stroke="#333" stroke-width="0.5"/>
<line x1="125.60" y1="760.00" x2="125.60" y2="763.00" stroke="#333" stroke-width="0.6"/>
<rect x="134.40" y="764.00" width="2.20" height="3.00" fill="#00B0F6" stroke="#333" stroke-width="0.5"/>
<line x1="135.50" y1="764.00" x2="135.50" y2="767.00" stroke="#333" stroke-width="0.6"/>
<circle cx="130.40" cy="765.50" r="0.85" fill="#222"/>
<circle cx="140.70" cy="765.50" r="0.85" fill="#222"/>
<circle cx="149.60" cy="765.50" r="0.85" fill="#222"/>
<line x1="110.60" y1="768.00" x2="110.60" y2="771.00" stroke="#333" stroke-width="0.6"/>
<line x1="162.50" y1="773.50" x2="175.70" y2="773.50" stroke="#444" stroke-width="0.6"/>
<line x1="110.60" y1="773.50" x2="135.80" y2="773.50" stroke="#444" stroke-width="0.6"/>
<rect x="135.80" y="772.00" width="26.70" height="3.00" fill="#F8766D" stroke="#333" stroke-width="0.5"/>
<line x1="151.30" y1="772.00" x2="151.30" y2="775.00" stroke="#333" stroke-width="0.6"/>
<circle cx="182.10" cy="773.50" r="0.85" fill="#222"/>
<line x1="182.90" y1="777.50" x2="205.90" y2="777.50" stroke="#444" stroke-width="0.6"/>
<line x1="159.30" y1="777.50" x2="163.30" y2="777.50" stroke="#444" stroke-width="0.6"/>
<rect x="163.30" y="776.00" width="19.60" height="3.00" fill="#F8766D" stroke="#333" stroke-width="0.5"/>
<line x1="176.10" y1="776.00" x2="176.10" y2="779.00" stroke="#333" stroke-width="0.6"/>
<circle cx="209.90" cy="777.50" r="0.85" fill="#222"/>
<line x1="123.00" y1="781.50" x2="133.90" y2="781.50" stroke="#444" stroke-width="0.6"/>
<rect x="110.30" y="780.00" width="12.70" height="3.00" fill="#E76BF3" stroke="#333" stroke-width="0.5"/>
<line x1="115.40" y1="780.00" x2="115.40" y2="783.00" stroke="#333" stroke-width="0.6"/>
<line x1="110.60" y1="784.00" x2="110.60" y2="787.00" stroke="#333" stroke-width="0.6"/>
<rect x="226.30" y="371.85" width="2.39" height="3.30" fill="#194557" stroke="#1e1e1e" stroke-width="0.55"/>
<circle cx="229.62" cy="373.50" r="0.75" fill="#1e1e1e"/>
<rect x="226.30" y="375.85" width="1.33" height="3.30" fill="#422e2d" stroke="#1e1e1e" stroke-width="0.55"/>
<rect x="226.30" y="379.85" width="1.33" height="3.30" fill="#1c3741" stroke="#1e1e1e" stroke-width="0.55"/>
<rect x="226.30" y="383.85" width="1.06" height="3.30" fill="#422e2d" stroke="#1e1e1e" stroke-width="0.55"/>
<rect x="225.63" y="387.85" width="1.33" height="3.30" fill="#1c3741" stroke="#1e1e1e" stroke-width="0.55"/>
<rect x="226.96" y="391.85" width="1.33" height="3.30" fill="#1c3741" stroke="#1e1e1e" stroke-width="0.55"/>
<rect x="226.96" y="395.85" width="1.33" height="3.30" fill="#422e2d" stroke="#1e1e1e" stroke-width="0.55"/>
<rect x="226.30" y="399.85" width="1.60" height="3.30" fill="#422e2d" stroke="#1e1e1e" stroke-width="0.55"/>
<rect x="226.30" y="403.85" width="1.33" height="3.30" fill="#422e2d" stroke="#1e1e1e" stroke-width="0.55"/>
<rect x="225.63" y="407.85" width="1.33" height="3.30" fill="#35351c" stroke="#1e1e1e" stroke-width="0.55"/>
<rect x="226.20" y="411.90" width="1.10" height="3.20" fill="#333" stroke="none" stroke-width="1"/>
<rect x="226.30" y="415.85" width="1.33" height="3.30" fill="#1c392f" stroke="#1e1e1e" stroke-width="0.55"/>
<line x1="228.69" y1="421.50" x2="232.68" y2="421.50" stroke="#333" stroke-width="0.6"/>
<rect x="229.29" y="419.85" width="2.80" height="3.30" fill="#573734" stroke="#1e1e1e" stroke-width="0.55"/>
<rect x="226.93" y="423.85" width="1.00" height="3.30" fill="#1c3741" stroke="#1e1e1e" stroke-width="0.55"/>
<rect x="227.36" y="427.85" width="1.60" height="3.30" fill="#422e2d" stroke="#1e1e1e" stroke-width="0.55"/>
<rect x="226.30" y="431.85" width="1.06" height="3.30" fill="#1c3741" stroke="#1e1e1e" stroke-width="0.55"/>
<rect x="226.20" y="435.90" width="1.10" height="3.20" fill="#333" stroke="none" stroke-width="1"/>
<rect x="225.70" y="439.85" width="1.60" height="3.30" fill="#422e2d" stroke="#1e1e1e" stroke-width="0.55"/>
<rect x="227.69" y="443.85" width="2.80" height="3.30" fill="#573734" stroke="#1e1e1e" stroke-width="0.55"/>
<rect x="226.93" y="447.85" width="1.00" height="3.30" fill="#422e2d" stroke="#1e1e1e" stroke-width="0.55"/>
<rect x="226.96" y="451.85" width="1.33" height="3.30" fill="#35351c" stroke="#1e1e1e" stroke-width="0.55"/>
<rect x="226.50" y="455.85" width="1.60" height="3.30" fill="#1c392f" stroke="#1e1e1e" stroke-width="0.55"/>
<rect x="226.20" y="459.90" width="1.10" height="3.20" fill="#333" stroke="none" stroke-width="1"/>
<rect x="226.30" y="463.85" width="1.06" height="3.30" fill="#422e2d" stroke="#1e1e1e" stroke-width="0.55"/>
<rect x="226.20" y="467.90" width="1.10" height="3.20" fill="#333" stroke="none" stroke-width="1"/>
<rect x="225.63" y="471.85" width="1.33" height="3.30" fill="#1c3741" stroke="#1e1e1e" stroke-width="0.55"/>
<rect x="226.20" y="475.90" width="1.10" height="3.20" fill="#333" stroke="none" stroke-width="1"/>
<line x1="228.29" y1="481.50" x2="231.62" y2="481.50" stroke="#333" stroke-width="0.6"/>
<rect x="228.55" y="479.85" width="2.80" height="3.30" fill="#194938" stroke="#1e1e1e" stroke-width="0.55"/>
<rect x="225.63" y="483.85" width="1.33" height="3.30" fill="#422e2d" stroke="#1e1e1e" stroke-width="0.55"/>
<rect x="226.30" y="487.85" width="1.06" height="3.30" fill="#1c3741" stroke="#1e1e1e" stroke-width="0.55"/>
<rect x="226.20" y="491.90" width="1.10" height="3.20" fill="#333" stroke="none" stroke-width="1"/>
<rect x="226.20" y="495.90" width="1.10" height="3.20" fill="#333" stroke="none" stroke-width="1"/>
<rect x="226.96" y="499.85" width="1.33" height="3.30" fill="#1c3741" stroke="#1e1e1e" stroke-width="0.55"/>
<rect x="226.50" y="503.85" width="1.60" height="3.30" fill="#422e2d" stroke="#1e1e1e" stroke-width="0.55"/>
<rect x="226.03" y="507.85" width="1.60" height="3.30" fill="#422e2d" stroke="#1e1e1e" stroke-width="0.55"/>
<rect x="225.63" y="511.85" width="1.33" height="3.30" fill="#422e2d" stroke="#1e1e1e" stroke-width="0.55"/>
<rect x="225.83" y="515.85" width="1.60" height="3.30" fill="#3f2c41" stroke="#1e1e1e" stroke-width="0.55"/>
<rect x="226.20" y="519.90" width="1.10" height="3.20" fill="#333" stroke="none" stroke-width="1"/>
<rect x="226.20" y="523.90" width="1.10" height="3.20" fill="#333" stroke="none" stroke-width="1"/>
<rect x="227.63" y="527.85" width="2.66" height="3.30" fill="#194938" stroke="#1e1e1e" stroke-width="0.55"/>
<rect x="226.20" y="531.90" width="1.10" height="3.20" fill="#333" stroke="none" stroke-width="1"/>
<rect x="225.63" y="535.85" width="1.33" height="3.30" fill="#35351c" stroke="#1e1e1e" stroke-width="0.55"/>
<rect x="225.83" y="539.85" width="1.60" height="3.30" fill="#1c3741" stroke="#1e1e1e" stroke-width="0.55"/>
<rect x="225.63" y="543.85" width="1.33" height="3.30" fill="#1c3741" stroke="#1e1e1e" stroke-width="0.55"/>
<rect x="226.50" y="547.85" width="1.60" height="3.30" fill="#1c392f" stroke="#1e1e1e" stroke-width="0.55"/>
<rect x="226.20" y="551.90" width="1.10" height="3.20" fill="#333" stroke="none" stroke-width="1"/>
<rect x="226.20" y="555.90" width="1.10" height="3.20" fill="#333" stroke="none" stroke-width="1"/>
<rect x="226.20" y="559.90" width="1.10" height="3.20" fill="#333" stroke="none" stroke-width="1"/>
<rect x="226.20" y="563.90" width="1.10" height="3.20" fill="#333" stroke="none" stroke-width="1"/>
<rect x="226.30" y="567.85" width="1.06" height="3.30" fill="#1c3741" stroke="#1e1e1e" stroke-width="0.55"/>
<rect x="227.03" y="571.85" width="1.60" height="3.30" fill="#422e2d" stroke="#1e1e1e" stroke-width="0.55"/>
<rect x="227.36" y="575.85" width="1.60" height="3.30" fill="#422e2d" stroke="#1e1e1e" stroke-width="0.55"/>
<rect x="225.63" y="579.85" width="1.33" height="3.30" fill="#422e2d" stroke="#1e1e1e" stroke-width="0.55"/>
<rect x="225.63" y="583.85" width="1.33" height="3.30" fill="#3f2c41" stroke="#1e1e1e" stroke-width="0.55"/>
<rect x="226.20" y="587.90" width="1.10" height="3.20" fill="#333" stroke="none" stroke-width="1"/>
<rect x="227.36" y="591.85" width="1.60" height="3.30" fill="#1c392f" stroke="#1e1e1e" stroke-width="0.55"/>
<rect x="226.20" y="595.90" width="1.10" height="3.20" fill="#333" stroke="none" stroke-width="1"/>
<rect x="226.20" y="599.90" width="1.10" height="3.20" fill="#333" stroke="none" stroke-width="1"/>
<rect x="226.20" y="603.90" width="1.10" height="3.20" fill="#333" stroke="none" stroke-width="1"/>
<rect x="226.20" y="607.90" width="1.10" height="3.20" fill="#333" stroke="none" stroke-width="1"/>
<rect x="225.63" y="611.85" width="1.33" height="3.30" fill="#1c3741" stroke="#1e1e1e" stroke-width="0.55"/>
<rect x="226.93" y="615.85" width="1.00" height="3.30" fill="#422e2d" stroke="#1e1e1e" stroke-width="0.55"/>
<rect x="225.63" y="619.85" width="1.33" height="3.30" fill="#1c3741" stroke="#1e1e1e" stroke-width="0.55"/>
<rect x="226.30" y="623.85" width="1.60" height="3.30" fill="#194557" stroke="#1e1e1e" stroke-width="0.55"/>
<circle cx="228.69" cy="625.50" r="0.75" fill="#1e1e1e"/>
<rect x="228.69" y="627.85" width="1.86" height="3.30" fill="#573734" stroke="#1e1e1e" stroke-width="0.55"/>
<rect x="225.63" y="631.85" width="1.33" height="3.30" fill="#422e2d" stroke="#1e1e1e" stroke-width="0.55"/>
<rect x="226.20" y="635.90" width="1.10" height="3.20" fill="#333" stroke="none" stroke-width="1"/>
<rect x="226.20" y="639.90" width="1.10" height="3.20" fill="#333" stroke="none" stroke-width="1"/>
<rect x="226.30" y="643.85" width="1.60" height="3.30" fill="#35351c" stroke="#1e1e1e" stroke-width="0.55"/>
<rect x="225.70" y="647.85" width="1.60" height="3.30" fill="#1c3741" stroke="#1e1e1e" stroke-width="0.55"/>
<rect x="226.30" y="651.85" width="1.06" height="3.30" fill="#1c392f" stroke="#1e1e1e" stroke-width="0.55"/>
<rect x="226.30" y="655.85" width="1.06" height="3.30" fill="#422e2d" stroke="#1e1e1e" stroke-width="0.55"/>
<rect x="226.30" y="659.85" width="1.06" height="3.30" fill="#1c3741" stroke="#1e1e1e" stroke-width="0.55"/>
<rect x="225.63" y="663.85" width="1.33" height="3.30" fill="#422e2d" stroke="#1e1e1e" stroke-width="0.55"/>
<rect x="225.63" y="667.85" width="1.33" height="3.30" fill="#1c3741" stroke="#1e1e1e" stroke-width="0.55"/>
<rect x="226.30" y="671.85" width="1.06" height="3.30" fill="#422e2d" stroke="#1e1e1e" stroke-width="0.55"/>
<rect x="226.20" y="675.90" width="1.10" height="3.20" fill="#333" stroke="none" stroke-width="1"/>
<rect x="225.63" y="679.85" width="1.33" height="3.30" fill="#422e2d" stroke="#1e1e1e" stroke-width="0.55"/>
<rect x="226.20" y="683.90" width="1.10" height="3.20" fill="#333" stroke="none" stroke-width="1"/>
<rect x="230.08" y="687.85" width="2.80" height="3.30" fill="#194557" stroke="#1e1e1e" stroke-width="0.55"/>
<rect x="226.30" y="691.85" width="1.33" height="3.30" fill="#1c3741" stroke="#1e1e1e" stroke-width="0.55"/>
<rect x="226.20" y="695.90" width="1.10" height="3.20" fill="#333" stroke="none" stroke-width="1"/>
<rect x="226.30" y="699.85" width="1.33" height="3.30" fill="#422e2d" stroke="#1e1e1e" stroke-width="0.55"/>
<rect x="228.29" y="703.85" width="1.99" height="3.30" fill="#194557" stroke="#1e1e1e" stroke-width="0.55"/>
<rect x="226.93" y="707.85" width="1.00" height="3.30" fill="#422e2d" stroke="#1e1e1e" stroke-width="0.55"/>
<rect x="227.36" y="711.85" width="2.26" height="3.30" fill="#194557" stroke="#1e1e1e" stroke-width="0.55"/>
<rect x="228.26" y="715.85" width="1.40" height="3.30" fill="#194557" stroke="#1e1e1e" stroke-width="0.55"/>
<rect x="229.62" y="719.85" width="2.66" height="3.30" fill="#573734" stroke="#1e1e1e" stroke-width="0.55"/>
<rect x="230.29" y="723.85" width="2.66" height="3.30" fill="#573734" stroke="#1e1e1e" stroke-width="0.55"/>
<rect x="228.96" y="727.85" width="1.99" height="3.30" fill="#573734" stroke="#1e1e1e" stroke-width="0.55"/>
<rect x="226.30" y="731.85" width="1.33" height="3.30" fill="#3f2c41" stroke="#1e1e1e" stroke-width="0.55"/>
<rect x="226.30" y="735.85" width="1.33" height="3.30" fill="#35351c" stroke="#1e1e1e" stroke-width="0.55"/>
<rect x="226.20" y="739.90" width="1.10" height="3.20" fill="#333" stroke="none" stroke-width="1"/>
<rect x="226.30" y="743.85" width="1.60" height="3.30" fill="#194938" stroke="#1e1e1e" stroke-width="0.55"/>
<circle cx="229.22" cy="745.50" r="0.75" fill="#1e1e1e"/>
<rect x="226.26" y="747.85" width="1.40" height="3.30" fill="#573734" stroke="#1e1e1e" stroke-width="0.55"/>
<circle cx="228.69" cy="749.50" r="0.75" fill="#1e1e1e"/>
<rect x="226.20" y="751.90" width="1.10" height="3.20" fill="#333" stroke="none" stroke-width="1"/>
<rect x="226.20" y="755.90" width="1.10" height="3.20" fill="#333" stroke="none" stroke-width="1"/>
<rect x="226.96" y="759.85" width="1.33" height="3.30" fill="#1c3741" stroke="#1e1e1e" stroke-width="0.55"/>
<rect x="226.20" y="763.90" width="1.10" height="3.20" fill="#333" stroke="none" stroke-width="1"/>
<rect x="225.63" y="767.85" width="1.33" height="3.30" fill="#422e2d" stroke="#1e1e1e" stroke-width="0.55"/>
<rect x="226.20" y="771.90" width="1.10" height="3.20" fill="#333" stroke="none" stroke-width="1"/>
<rect x="226.20" y="775.90" width="1.10" height="3.20" fill="#333" stroke="none" stroke-width="1"/>
<rect x="226.20" y="779.90" width="1.10" height="3.20" fill="#333" stroke="none" stroke-width="1"/>
<rect x="225.63" y="783.85" width="1.33" height="3.30" fill="#35351c" stroke="#1e1e1e" stroke-width="0.55"/>
<rect x="349.30" y="371.85" width="2.00" height="3.30" fill="#0b7eab" stroke="#1e1e1e" stroke-width="0.55"/>
<rect x="343.45" y="375.85" width="1.00" height="3.30" fill="#422e2d" stroke="#1e1e1e" stroke-width="0.55"/>
<rect x="345.85" y="379.85" width="1.00" height="3.30" fill="#1c3741" stroke="#1e1e1e" stroke-width="0.55"/>
<line x1="344.20" y1="383.80" x2="344.20" y2="387.20" stroke="#2a2a2a" stroke-width="0.8"/>
<line x1="344.20" y1="387.80" x2="344.20" y2="391.20" stroke="#2a2a2a" stroke-width="0.8"/>
<rect x="343.35" y="391.85" width="1.00" height="3.30" fill="#1c3741" stroke="#1e1e1e" stroke-width="0.55"/>
<line x1="348.60" y1="397.50" x2="352.60" y2="397.50" stroke="#333" stroke-width="0.6"/>
<rect x="349.75" y="395.85" width="1.70" height="3.30" fill="#422e2d" stroke="#1e1e1e" stroke-width="0.55"/>
<line x1="344.90" y1="401.50" x2="347.30" y2="401.50" stroke="#333" stroke-width="0.6"/>
<rect x="345.50" y="399.85" width="1.20" height="3.30" fill="#422e2d" stroke="#1e1e1e" stroke-width="0.55"/>
<line x1="344.00" y1="405.50" x2="346.60" y2="405.50" stroke="#333" stroke-width="0.6"/>
<rect x="344.65" y="403.85" width="1.30" height="3.30" fill="#422e2d" stroke="#1e1e1e" stroke-width="0.55"/>
<line x1="344.40" y1="409.50" x2="348.00" y2="409.50" stroke="#333" stroke-width="0.6"/>
<rect x="345.35" y="407.85" width="1.70" height="3.30" fill="#35351c" stroke="#1e1e1e" stroke-width="0.55"/>
<rect x="352.95" y="411.85" width="1.00" height="3.30" fill="#1c3741" stroke="#1e1e1e" stroke-width="0.55"/>
<line x1="343.20" y1="415.80" x2="343.20" y2="419.20" stroke="#2a2a2a" stroke-width="0.8"/>
<rect x="345.30" y="419.85" width="2.00" height="3.30" fill="#ad5852" stroke="#1e1e1e" stroke-width="0.55"/>
<line x1="346.20" y1="425.50" x2="352.60" y2="425.50" stroke="#333" stroke-width="0.6"/>
<rect x="348.55" y="423.85" width="1.70" height="3.30" fill="#1c3741" stroke="#1e1e1e" stroke-width="0.55"/>
<circle cx="353.50" cy="425.50" r="0.75" fill="#1e1e1e"/>
<rect x="343.35" y="427.85" width="1.00" height="3.30" fill="#422e2d" stroke="#1e1e1e" stroke-width="0.55"/>
<line x1="343.20" y1="431.80" x2="343.20" y2="435.20" stroke="#2a2a2a" stroke-width="0.8"/>
<line x1="344.60" y1="437.50" x2="347.00" y2="437.50" stroke="#333" stroke-width="0.6"/>
<rect x="345.20" y="435.85" width="1.20" height="3.30" fill="#1c3741" stroke="#1e1e1e" stroke-width="0.55"/>
<line x1="351.00" y1="441.50" x2="356.60" y2="441.50" stroke="#333" stroke-width="0.6"/>
<rect x="352.95" y="439.85" width="1.70" height="3.30" fill="#422e2d" stroke="#1e1e1e" stroke-width="0.55"/>
<circle cx="357.50" cy="441.50" r="0.75" fill="#1e1e1e"/>
<line x1="353.70" y1="445.50" x2="358.60" y2="445.50" stroke="#333" stroke-width="0.6"/>
<rect x="354.75" y="443.85" width="2.80" height="3.30" fill="#ad5852" stroke="#1e1e1e" stroke-width="0.55"/>
<rect x="347.45" y="447.85" width="1.00" height="3.30" fill="#422e2d" stroke="#1e1e1e" stroke-width="0.55"/>
<line x1="365.20" y1="453.50" x2="368.60" y2="453.50" stroke="#333" stroke-width="0.6"/>
<rect x="365.50" y="451.85" width="2.80" height="3.30" fill="#75770b" stroke="#1e1e1e" stroke-width="0.55"/>
<line x1="348.00" y1="457.50" x2="350.00" y2="457.50" stroke="#333" stroke-width="0.6"/>
<rect x="348.50" y="455.85" width="1.00" height="3.30" fill="#1c392f" stroke="#1e1e1e" stroke-width="0.55"/>
<rect x="345.45" y="459.85" width="1.00" height="3.30" fill="#422e2d" stroke="#1e1e1e" stroke-width="0.55"/>
<rect x="344.95" y="463.85" width="1.00" height="3.30" fill="#422e2d" stroke="#1e1e1e" stroke-width="0.55"/>
<rect x="352.30" y="467.85" width="1.00" height="3.30" fill="#35351c" stroke="#1e1e1e" stroke-width="0.55"/>
<line x1="343.20" y1="471.80" x2="343.20" y2="475.20" stroke="#2a2a2a" stroke-width="0.8"/>
<line x1="344.60" y1="477.50" x2="346.60" y2="477.50" stroke="#333" stroke-width="0.6"/>
<rect x="345.10" y="475.85" width="1.00" height="3.30" fill="#1c3741" stroke="#1e1e1e" stroke-width="0.55"/>
<line x1="348.00" y1="481.50" x2="351.30" y2="481.50" stroke="#333" stroke-width="0.6"/>
<rect x="348.82" y="479.85" width="1.65" height="3.30" fill="#1c392f" stroke="#1e1e1e" stroke-width="0.55"/>
<circle cx="352.90" cy="481.50" r="0.75" fill="#1e1e1e"/>
<line x1="343.30" y1="485.50" x2="344.90" y2="485.50" stroke="#333" stroke-width="0.6"/>
<rect x="343.60" y="483.85" width="1.00" height="3.30" fill="#422e2d" stroke="#1e1e1e" stroke-width="0.55"/>
<circle cx="346.60" cy="485.50" r="0.75" fill="#1e1e1e"/>
<line x1="342.60" y1="489.50" x2="346.00" y2="489.50" stroke="#333" stroke-width="0.6"/>
<rect x="343.45" y="487.85" width="1.70" height="3.30" fill="#1c3741" stroke="#1e1e1e" stroke-width="0.55"/>
<rect x="343.00" y="491.85" width="1.00" height="3.30" fill="#422e2d" stroke="#1e1e1e" stroke-width="0.55"/>
<line x1="345.30" y1="497.50" x2="347.00" y2="497.50" stroke="#333" stroke-width="0.6"/>
<rect x="345.65" y="495.85" width="1.00" height="3.30" fill="#1c3741" stroke="#1e1e1e" stroke-width="0.55"/>
<rect x="344.80" y="499.85" width="1.00" height="3.30" fill="#1c3741" stroke="#1e1e1e" stroke-width="0.55"/>
<rect x="342.45" y="503.85" width="1.00" height="3.30" fill="#422e2d" stroke="#1e1e1e" stroke-width="0.55"/>
<line x1="344.60" y1="509.50" x2="346.60" y2="509.50" stroke="#333" stroke-width="0.6"/>
<rect x="345.10" y="507.85" width="1.00" height="3.30" fill="#422e2d" stroke="#1e1e1e" stroke-width="0.55"/>
<line x1="345.70" y1="513.50" x2="347.30" y2="513.50" stroke="#333" stroke-width="0.6"/>
<rect x="346.00" y="511.85" width="1.00" height="3.30" fill="#422e2d" stroke="#1e1e1e" stroke-width="0.55"/>
<rect x="345.70" y="515.85" width="2.30" height="3.30" fill="#a251a9" stroke="#1e1e1e" stroke-width="0.55"/>
<circle cx="349.70" cy="517.50" r="0.75" fill="#1e1e1e"/>
<rect x="355.30" y="519.85" width="2.60" height="3.30" fill="#75770b" stroke="#1e1e1e" stroke-width="0.55"/>
<line x1="345.30" y1="525.50" x2="347.30" y2="525.50" stroke="#333" stroke-width="0.6"/>
<rect x="345.80" y="523.85" width="1.00" height="3.30" fill="#1c3741" stroke="#1e1e1e" stroke-width="0.55"/>
<rect x="350.00" y="527.85" width="2.00" height="3.30" fill="#0b885d" stroke="#1e1e1e" stroke-width="0.55"/>
<circle cx="354.00" cy="529.50" r="0.75" fill="#1e1e1e"/>
<line x1="347.30" y1="533.50" x2="350.00" y2="533.50" stroke="#333" stroke-width="0.6"/>
<rect x="347.97" y="531.85" width="1.35" height="3.30" fill="#1c3741" stroke="#1e1e1e" stroke-width="0.55"/>
<line x1="354.00" y1="537.50" x2="357.30" y2="537.50" stroke="#333" stroke-width="0.6"/>
<rect x="354.25" y="535.85" width="2.80" height="3.30" fill="#75770b" stroke="#1e1e1e" stroke-width="0.55"/>
<line x1="344.90" y1="541.50" x2="347.00" y2="541.50" stroke="#333" stroke-width="0.6"/>
<rect x="345.42" y="539.85" width="1.05" height="3.30" fill="#1c3741" stroke="#1e1e1e" stroke-width="0.55"/>
<rect x="343.00" y="543.85" width="1.00" height="3.30" fill="#1c3741" stroke="#1e1e1e" stroke-width="0.55"/>
<rect x="346.00" y="547.85" width="2.00" height="3.30" fill="#0b885d" stroke="#1e1e1e" stroke-width="0.55"/>
<line x1="351.30" y1="553.50" x2="354.00" y2="553.50" stroke="#333" stroke-width="0.6"/>
<rect x="351.97" y="551.85" width="1.35" height="3.30" fill="#422e2d" stroke="#1e1e1e" stroke-width="0.55"/>
<rect x="345.15" y="555.85" width="1.00" height="3.30" fill="#1c3741" stroke="#1e1e1e" stroke-width="0.55"/>
<line x1="346.60" y1="561.50" x2="352.30" y2="561.50" stroke="#333" stroke-width="0.6"/>
<rect x="348.60" y="559.85" width="1.70" height="3.30" fill="#422e2d" stroke="#1e1e1e" stroke-width="0.55"/>
<line x1="346.00" y1="565.50" x2="348.00" y2="565.50" stroke="#333" stroke-width="0.6"/>
<rect x="346.50" y="563.85" width="1.00" height="3.30" fill="#1c3741" stroke="#1e1e1e" stroke-width="0.55"/>
<rect x="347.30" y="567.85" width="2.70" height="3.30" fill="#0b7eab" stroke="#1e1e1e" stroke-width="0.55"/>
<rect x="354.15" y="571.85" width="1.00" height="3.30" fill="#422e2d" stroke="#1e1e1e" stroke-width="0.55"/>
<circle cx="359.50" cy="573.50" r="0.75" fill="#1e1e1e"/>
<line x1="347.00" y1="577.50" x2="348.60" y2="577.50" stroke="#333" stroke-width="0.6"/>
<rect x="347.30" y="575.85" width="1.00" height="3.30" fill="#422e2d" stroke="#1e1e1e" stroke-width="0.55"/>
<line x1="347.00" y1="581.50" x2="349.30" y2="581.50" stroke="#333" stroke-width="0.6"/>
<rect x="347.57" y="579.85" width="1.15" height="3.30" fill="#422e2d" stroke="#1e1e1e" stroke-width="0.55"/>
<rect x="343.20" y="583.85" width="1.00" height="3.30" fill="#3f2c41" stroke="#1e1e1e" stroke-width="0.55"/>
<rect x="356.60" y="587.85" width="2.40" height="3.30" fill="#75770b" stroke="#1e1e1e" stroke-width="0.55"/>
<circle cx="362.00" cy="589.50" r="0.75" fill="#1e1e1e"/>
<rect x="344.55" y="591.85" width="1.00" height="3.30" fill="#1c392f" stroke="#1e1e1e" stroke-width="0.55"/>
<line x1="356.30" y1="597.50" x2="360.60" y2="597.50" stroke="#333" stroke-width="0.6"/>
<rect x="357.60" y="595.85" width="1.70" height="3.30" fill="#1c3741" stroke="#1e1e1e" stroke-width="0.55"/>
<rect x="345.70" y="599.85" width="1.60" height="3.30" fill="#0b7eab" stroke="#1e1e1e" stroke-width="0.55"/>
<line x1="343.20" y1="603.80" x2="343.20" y2="607.20" stroke="#2a2a2a" stroke-width="0.8"/>
<line x1="353.30" y1="609.50" x2="356.90" y2="609.50" stroke="#333" stroke-width="0.6"/>
<rect x="353.70" y="607.85" width="2.80" height="3.30" fill="#ad5852" stroke="#1e1e1e" stroke-width="0.55"/>
<circle cx="358.00" cy="609.50" r="0.75" fill="#1e1e1e"/>
<line x1="344.90" y1="613.50" x2="348.60" y2="613.50" stroke="#333" stroke-width="0.6"/>
<rect x="345.90" y="611.85" width="1.70" height="3.30" fill="#1c3741" stroke="#1e1e1e" stroke-width="0.55"/>
<line x1="348.00" y1="617.50" x2="354.60" y2="617.50" stroke="#333" stroke-width="0.6"/>
<rect x="349.90" y="615.85" width="2.80" height="3.30" fill="#ad5852" stroke="#1e1e1e" stroke-width="0.55"/>
<circle cx="356.00" cy="617.50" r="0.75" fill="#1e1e1e"/>
<rect x="347.30" y="619.85" width="2.40" height="3.30" fill="#0b7eab" stroke="#1e1e1e" stroke-width="0.55"/>
<rect x="345.25" y="623.85" width="1.00" height="3.30" fill="#1c3741" stroke="#1e1e1e" stroke-width="0.55"/>
<rect x="359.35" y="627.85" width="2.80" height="3.30" fill="#ad5852" stroke="#1e1e1e" stroke-width="0.55"/>
<circle cx="365.20" cy="629.50" r="0.75" fill="#1e1e1e"/>
<rect x="343.20" y="631.85" width="1.00" height="3.30" fill="#422e2d" stroke="#1e1e1e" stroke-width="0.55"/>
<line x1="348.00" y1="637.50" x2="351.50" y2="637.50" stroke="#333" stroke-width="0.6"/>
<rect x="348.35" y="635.85" width="2.80" height="3.30" fill="#ad5852" stroke="#1e1e1e" stroke-width="0.55"/>
<line x1="357.30" y1="641.50" x2="360.60" y2="641.50" stroke="#333" stroke-width="0.6"/>
<rect x="357.55" y="639.85" width="2.80" height="3.30" fill="#a251a9" stroke="#1e1e1e" stroke-width="0.55"/>
<rect x="352.90" y="643.85" width="2.10" height="3.30" fill="#75770b" stroke="#1e1e1e" stroke-width="0.55"/>
<rect x="343.60" y="647.85" width="1.00" height="3.30" fill="#1c3741" stroke="#1e1e1e" stroke-width="0.55"/>
<line x1="344.00" y1="653.50" x2="345.70" y2="653.50" stroke="#333" stroke-width="0.6"/>
<rect x="344.35" y="651.85" width="1.00" height="3.30" fill="#1c392f" stroke="#1e1e1e" stroke-width="0.55"/>
<rect x="344.95" y="655.85" width="1.00" height="3.30" fill="#422e2d" stroke="#1e1e1e" stroke-width="0.55"/>
<line x1="343.20" y1="659.80" x2="343.20" y2="663.20" stroke="#2a2a2a" stroke-width="0.8"/>
<rect x="344.55" y="663.85" width="1.00" height="3.30" fill="#422e2d" stroke="#1e1e1e" stroke-width="0.55"/>
<line x1="343.00" y1="669.50" x2="344.90" y2="669.50" stroke="#333" stroke-width="0.6"/>
<rect x="343.45" y="667.85" width="1.00" height="3.30" fill="#1c3741" stroke="#1e1e1e" stroke-width="0.55"/>
<line x1="343.20" y1="671.80" x2="343.20" y2="675.20" stroke="#2a2a2a" stroke-width="0.8"/>
<line x1="345.70" y1="677.50" x2="347.60" y2="677.50" stroke="#333" stroke-width="0.6"/>
<rect x="346.15" y="675.85" width="1.00" height="3.30" fill="#422e2d" stroke="#1e1e1e" stroke-width="0.55"/>
<rect x="343.00" y="679.85" width="1.00" height="3.30" fill="#422e2d" stroke="#1e1e1e" stroke-width="0.55"/>
<rect x="357.45" y="683.85" width="1.00" height="3.30" fill="#35351c" stroke="#1e1e1e" stroke-width="0.55"/>
<line x1="343.00" y1="689.50" x2="344.60" y2="689.50" stroke="#333" stroke-width="0.6"/>
<rect x="343.30" y="687.85" width="1.00" height="3.30" fill="#1c3741" stroke="#1e1e1e" stroke-width="0.55"/>
<rect x="344.55" y="691.85" width="1.00" height="3.30" fill="#1c3741" stroke="#1e1e1e" stroke-width="0.55"/>
<line x1="344.40" y1="695.80" x2="344.40" y2="699.20" stroke="#2a2a2a" stroke-width="0.8"/>
<line x1="342.60" y1="701.50" x2="344.40" y2="701.50" stroke="#333" stroke-width="0.6"/>
<rect x="343.00" y="699.85" width="1.00" height="3.30" fill="#422e2d" stroke="#1e1e1e" stroke-width="0.55"/>
<line x1="342.60" y1="705.50" x2="345.70" y2="705.50" stroke="#333" stroke-width="0.6"/>
<rect x="343.38" y="703.85" width="1.55" height="3.30" fill="#1c3741" stroke="#1e1e1e" stroke-width="0.55"/>
<rect x="343.20" y="707.85" width="1.00" height="3.30" fill="#422e2d" stroke="#1e1e1e" stroke-width="0.55"/>
<line x1="343.20" y1="711.80" x2="343.20" y2="715.20" stroke="#2a2a2a" stroke-width="0.8"/>
<rect x="342.60" y="715.85" width="1.00" height="3.30" fill="#1c3741" stroke="#1e1e1e" stroke-width="0.55"/>
<line x1="343.20" y1="719.80" x2="343.20" y2="723.20" stroke="#2a2a2a" stroke-width="0.8"/>
<line x1="343.20" y1="723.80" x2="343.20" y2="727.20" stroke="#2a2a2a" stroke-width="0.8"/>
<line x1="345.30" y1="729.50" x2="347.60" y2="729.50" stroke="#333" stroke-width="0.6"/>
<rect x="345.88" y="727.85" width="1.15" height="3.30" fill="#422e2d" stroke="#1e1e1e" stroke-width="0.55"/>
<line x1="348.60" y1="733.50" x2="351.50" y2="733.50" stroke="#333" stroke-width="0.6"/>
<rect x="349.33" y="731.85" width="1.45" height="3.30" fill="#3f2c41" stroke="#1e1e1e" stroke-width="0.55"/>
<line x1="346.00" y1="737.50" x2="348.40" y2="737.50" stroke="#333" stroke-width="0.6"/>
<rect x="346.60" y="735.85" width="1.20" height="3.30" fill="#35351c" stroke="#1e1e1e" stroke-width="0.55"/>
<rect x="343.35" y="739.85" width="1.00" height="3.30" fill="#1c3741" stroke="#1e1e1e" stroke-width="0.55"/>
<rect x="342.60" y="743.85" width="1.00" height="3.30" fill="#1c392f" stroke="#1e1e1e" stroke-width="0.55"/>
<rect x="343.45" y="747.85" width="1.00" height="3.30" fill="#422e2d" stroke="#1e1e1e" stroke-width="0.55"/>
<rect x="343.45" y="751.85" width="1.00" height="3.30" fill="#1c3741" stroke="#1e1e1e" stroke-width="0.55"/>
<line x1="343.20" y1="755.80" x2="343.20" y2="759.20" stroke="#2a2a2a" stroke-width="0.8"/>
<rect x="343.80" y="759.85" width="1.00" height="3.30" fill="#1c3741" stroke="#1e1e1e" stroke-width="0.55"/>
<rect x="350.20" y="763.85" width="1.80" height="3.30" fill="#0b7eab" stroke="#1e1e1e" stroke-width="0.55"/>
<rect x="344.55" y="767.85" width="1.00" height="3.30" fill="#422e2d" stroke="#1e1e1e" stroke-width="0.55"/>
<rect x="344.55" y="771.85" width="1.00" height="3.30" fill="#422e2d" stroke="#1e1e1e" stroke-width="0.55"/>
<rect x="344.55" y="775.85" width="1.00" height="3.30" fill="#422e2d" stroke="#1e1e1e" stroke-width="0.55"/>
<line x1="345.30" y1="781.50" x2="348.60" y2="781.50" stroke="#333" stroke-width="0.6"/>
<rect x="346.13" y="779.85" width="1.65" height="3.30" fill="#3f2c41" stroke="#1e1e1e" stroke-width="0.55"/>
<rect x="352.90" y="783.85" width="2.10" height="3.30" fill="#75770b" stroke="#1e1e1e" stroke-width="0.55"/>
<rect x="467.30" y="371.85" width="2.30" height="3.30" fill="#0b7eab" stroke="#1e1e1e" stroke-width="0.55"/>
<circle cx="472.30" cy="373.50" r="0.75" fill="#1e1e1e"/>
<line x1="463.60" y1="377.50" x2="467.00" y2="377.50" stroke="#333" stroke-width="0.6"/>
<rect x="463.90" y="375.85" width="2.80" height="3.30" fill="#ad5852" stroke="#1e1e1e" stroke-width="0.55"/>
<line x1="464.30" y1="381.50" x2="470.30" y2="381.50" stroke="#333" stroke-width="0.6"/>
<rect x="466.45" y="379.85" width="1.70" height="3.30" fill="#1c3741" stroke="#1e1e1e" stroke-width="0.55"/>
<circle cx="470.50" cy="381.50" r="0.75" fill="#1e1e1e"/>
<line x1="468.30" y1="385.50" x2="471.60" y2="385.50" stroke="#333" stroke-width="0.6"/>
<rect x="468.55" y="383.85" width="2.80" height="3.30" fill="#ad5852" stroke="#1e1e1e" stroke-width="0.55"/>
<line x1="464.30" y1="389.50" x2="467.00" y2="389.50" stroke="#333" stroke-width="0.6"/>
<rect x="464.97" y="387.85" width="1.35" height="3.30" fill="#1c3741" stroke="#1e1e1e" stroke-width="0.55"/>
<line x1="471.60" y1="393.50" x2="475.60" y2="393.50" stroke="#333" stroke-width="0.6"/>
<rect x="472.20" y="391.85" width="2.80" height="3.30" fill="#0b7eab" stroke="#1e1e1e" stroke-width="0.55"/>
<line x1="460.30" y1="397.50" x2="463.00" y2="397.50" stroke="#333" stroke-width="0.6"/>
<rect x="460.97" y="395.85" width="1.35" height="3.30" fill="#422e2d" stroke="#1e1e1e" stroke-width="0.55"/>
<line x1="471.00" y1="401.50" x2="474.00" y2="401.50" stroke="#333" stroke-width="0.6"/>
<rect x="471.75" y="399.85" width="1.50" height="3.30" fill="#422e2d" stroke="#1e1e1e" stroke-width="0.55"/>
<line x1="462.30" y1="405.50" x2="469.00" y2="405.50" stroke="#333" stroke-width="0.6"/>
<rect x="464.80" y="403.85" width="1.70" height="3.30" fill="#422e2d" stroke="#1e1e1e" stroke-width="0.55"/>
<circle cx="462.00" cy="405.50" r="0.75" fill="#1e1e1e"/>
<line x1="470.30" y1="409.50" x2="474.50" y2="409.50" stroke="#333" stroke-width="0.6"/>
<rect x="471.55" y="407.85" width="1.70" height="3.30" fill="#35351c" stroke="#1e1e1e" stroke-width="0.55"/>
<rect x="463.15" y="411.85" width="1.00" height="3.30" fill="#1c3741" stroke="#1e1e1e" stroke-width="0.55"/>
<line x1="465.00" y1="417.50" x2="469.00" y2="417.50" stroke="#333" stroke-width="0.6"/>
<rect x="466.15" y="415.85" width="1.70" height="3.30" fill="#1c392f" stroke="#1e1e1e" stroke-width="0.55"/>
<line x1="465.00" y1="421.50" x2="467.00" y2="421.50" stroke="#333" stroke-width="0.6"/>
<rect x="465.50" y="419.85" width="1.00" height="3.30" fill="#422e2d" stroke="#1e1e1e" stroke-width="0.55"/>
<line x1="461.60" y1="425.50" x2="466.30" y2="425.50" stroke="#333" stroke-width="0.6"/>
<rect x="463.10" y="423.85" width="1.70" height="3.30" fill="#1c3741" stroke="#1e1e1e" stroke-width="0.55"/>
<line x1="462.30" y1="429.50" x2="465.00" y2="429.50" stroke="#333" stroke-width="0.6"/>
<rect x="462.97" y="427.85" width="1.35" height="3.30" fill="#422e2d" stroke="#1e1e1e" stroke-width="0.55"/>
<line x1="463.60" y1="433.50" x2="465.60" y2="433.50" stroke="#333" stroke-width="0.6"/>
<rect x="464.10" y="431.85" width="1.00" height="3.30" fill="#1c3741" stroke="#1e1e1e" stroke-width="0.55"/>
<line x1="460.50" y1="435.80" x2="460.50" y2="439.20" stroke="#2a2a2a" stroke-width="0.8"/>
<line x1="462.30" y1="441.50" x2="467.00" y2="441.50" stroke="#333" stroke-width="0.6"/>
<rect x="463.80" y="439.85" width="1.70" height="3.30" fill="#422e2d" stroke="#1e1e1e" stroke-width="0.55"/>
<line x1="463.00" y1="445.50" x2="466.30" y2="445.50" stroke="#333" stroke-width="0.6"/>
<rect x="463.82" y="443.85" width="1.65" height="3.30" fill="#422e2d" stroke="#1e1e1e" stroke-width="0.55"/>
<line x1="464.70" y1="449.50" x2="468.30" y2="449.50" stroke="#333" stroke-width="0.6"/>
<rect x="465.65" y="447.85" width="1.70" height="3.30" fill="#422e2d" stroke="#1e1e1e" stroke-width="0.55"/>
<rect x="475.60" y="451.85" width="2.00" height="3.30" fill="#75770b" stroke="#1e1e1e" stroke-width="0.55"/>
<rect x="478.20" y="455.85" width="2.70" height="3.30" fill="#0b885d" stroke="#1e1e1e" stroke-width="0.55"/>
<line x1="463.00" y1="461.50" x2="465.00" y2="461.50" stroke="#333" stroke-width="0.6"/>
<rect x="463.50" y="459.85" width="1.00" height="3.30" fill="#422e2d" stroke="#1e1e1e" stroke-width="0.55"/>
<line x1="468.30" y1="465.50" x2="471.60" y2="465.50" stroke="#333" stroke-width="0.6"/>
<rect x="468.55" y="463.85" width="2.80" height="3.30" fill="#ad5852" stroke="#1e1e1e" stroke-width="0.55"/>
<line x1="465.60" y1="469.50" x2="470.90" y2="469.50" stroke="#333" stroke-width="0.6"/>
<rect x="467.40" y="467.85" width="1.70" height="3.30" fill="#35351c" stroke="#1e1e1e" stroke-width="0.55"/>
<rect x="469.40" y="471.85" width="2.80" height="3.30" fill="#0b7eab" stroke="#1e1e1e" stroke-width="0.55"/>
<rect x="461.15" y="475.85" width="1.00" height="3.30" fill="#1c3741" stroke="#1e1e1e" stroke-width="0.55"/>
<line x1="473.60" y1="481.50" x2="477.60" y2="481.50" stroke="#333" stroke-width="0.6"/>
<rect x="474.20" y="479.85" width="2.80" height="3.30" fill="#0b885d" stroke="#1e1e1e" stroke-width="0.55"/>
<line x1="461.20" y1="485.50" x2="462.60" y2="485.50" stroke="#333" stroke-width="0.6"/>
<rect x="461.40" y="483.85" width="1.00" height="3.30" fill="#422e2d" stroke="#1e1e1e" stroke-width="0.55"/>
<rect x="461.20" y="487.85" width="1.80" height="3.30" fill="#0b7eab" stroke="#1e1e1e" stroke-width="0.55"/>
<line x1="463.00" y1="493.50" x2="464.70" y2="493.50" stroke="#333" stroke-width="0.6"/>
<rect x="463.35" y="491.85" width="1.00" height="3.30" fill="#422e2d" stroke="#1e1e1e" stroke-width="0.55"/>
<rect x="460.15" y="495.85" width="1.00" height="3.30" fill="#1c3741" stroke="#1e1e1e" stroke-width="0.55"/>
<rect x="460.65" y="499.85" width="1.00" height="3.30" fill="#1c3741" stroke="#1e1e1e" stroke-width="0.55"/>
<line x1="461.60" y1="505.50" x2="464.30" y2="505.50" stroke="#333" stroke-width="0.6"/>
<rect x="462.28" y="503.85" width="1.35" height="3.30" fill="#422e2d" stroke="#1e1e1e" stroke-width="0.55"/>
<line x1="460.30" y1="509.50" x2="462.30" y2="509.50" stroke="#333" stroke-width="0.6"/>
<rect x="460.80" y="507.85" width="1.00" height="3.30" fill="#422e2d" stroke="#1e1e1e" stroke-width="0.55"/>
<rect x="463.00" y="511.85" width="2.60" height="3.30" fill="#ad5852" stroke="#1e1e1e" stroke-width="0.55"/>
<rect x="465.00" y="515.85" width="2.60" height="3.30" fill="#a251a9" stroke="#1e1e1e" stroke-width="0.55"/>
<rect x="472.30" y="519.85" width="2.70" height="3.30" fill="#75770b" stroke="#1e1e1e" stroke-width="0.55"/>
<circle cx="479.30" cy="521.50" r="0.75" fill="#1e1e1e"/>
<line x1="462.00" y1="525.50" x2="463.60" y2="525.50" stroke="#333" stroke-width="0.6"/>
<rect x="462.30" y="523.85" width="1.00" height="3.30" fill="#1c3741" stroke="#1e1e1e" stroke-width="0.55"/>
<rect x="472.30" y="527.85" width="2.70" height="3.30" fill="#0b885d" stroke="#1e1e1e" stroke-width="0.55"/>
<line x1="461.20" y1="533.50" x2="463.60" y2="533.50" stroke="#333" stroke-width="0.6"/>
<rect x="461.80" y="531.85" width="1.20" height="3.30" fill="#1c3741" stroke="#1e1e1e" stroke-width="0.55"/>
<line x1="465.00" y1="537.50" x2="469.60" y2="537.50" stroke="#333" stroke-width="0.6"/>
<rect x="466.45" y="535.85" width="1.70" height="3.30" fill="#35351c" stroke="#1e1e1e" stroke-width="0.55"/>
<line x1="462.00" y1="541.50" x2="463.60" y2="541.50" stroke="#333" stroke-width="0.6"/>
<rect x="462.30" y="539.85" width="1.00" height="3.30" fill="#1c3741" stroke="#1e1e1e" stroke-width="0.55"/>
<line x1="460.50" y1="543.80" x2="460.50" y2="547.20" stroke="#2a2a2a" stroke-width="0.8"/>
<line x1="460.70" y1="549.50" x2="463.00" y2="549.50" stroke="#333" stroke-width="0.6"/>
<rect x="461.28" y="547.85" width="1.15" height="3.30" fill="#1c392f" stroke="#1e1e1e" stroke-width="0.55"/>
<line x1="460.70" y1="553.50" x2="464.70" y2="553.50" stroke="#333" stroke-width="0.6"/>
<rect x="461.85" y="551.85" width="1.70" height="3.30" fill="#422e2d" stroke="#1e1e1e" stroke-width="0.55"/>
<line x1="460.70" y1="557.50" x2="464.70" y2="557.50" stroke="#333" stroke-width="0.6"/>
<rect x="461.85" y="555.85" width="1.70" height="3.30" fill="#1c3741" stroke="#1e1e1e" stroke-width="0.55"/>
<line x1="465.60" y1="561.50" x2="469.00" y2="561.50" stroke="#333" stroke-width="0.6"/>
<rect x="466.45" y="559.85" width="1.70" height="3.30" fill="#422e2d" stroke="#1e1e1e" stroke-width="0.55"/>
<rect x="461.00" y="563.85" width="1.00" height="3.30" fill="#1c3741" stroke="#1e1e1e" stroke-width="0.55"/>
<line x1="460.70" y1="569.50" x2="464.70" y2="569.50" stroke="#333" stroke-width="0.6"/>
<rect x="461.85" y="567.85" width="1.70" height="3.30" fill="#1c3741" stroke="#1e1e1e" stroke-width="0.55"/>
<line x1="466.30" y1="573.50" x2="468.70" y2="573.50" stroke="#333" stroke-width="0.6"/>
<rect x="466.90" y="571.85" width="1.20" height="3.30" fill="#422e2d" stroke="#1e1e1e" stroke-width="0.55"/>
<line x1="464.30" y1="577.50" x2="467.30" y2="577.50" stroke="#333" stroke-width="0.6"/>
<rect x="465.05" y="575.85" width="1.50" height="3.30" fill="#422e2d" stroke="#1e1e1e" stroke-width="0.55"/>
<line x1="460.50" y1="579.80" x2="460.50" y2="583.20" stroke="#2a2a2a" stroke-width="0.8"/>
<line x1="460.50" y1="583.80" x2="460.50" y2="587.20" stroke="#2a2a2a" stroke-width="0.8"/>
<line x1="461.00" y1="589.50" x2="465.00" y2="589.50" stroke="#333" stroke-width="0.6"/>
<rect x="462.15" y="587.85" width="1.70" height="3.30" fill="#35351c" stroke="#1e1e1e" stroke-width="0.55"/>
<line x1="460.50" y1="591.80" x2="460.50" y2="595.20" stroke="#2a2a2a" stroke-width="0.8"/>
<line x1="460.30" y1="597.50" x2="462.30" y2="597.50" stroke="#333" stroke-width="0.6"/>
<rect x="460.80" y="595.85" width="1.00" height="3.30" fill="#1c3741" stroke="#1e1e1e" stroke-width="0.55"/>
<line x1="462.30" y1="601.50" x2="464.30" y2="601.50" stroke="#333" stroke-width="0.6"/>
<rect x="462.80" y="599.85" width="1.00" height="3.30" fill="#1c3741" stroke="#1e1e1e" stroke-width="0.55"/>
<line x1="462.30" y1="605.50" x2="464.30" y2="605.50" stroke="#333" stroke-width="0.6"/>
<rect x="462.80" y="603.85" width="1.00" height="3.30" fill="#1c392f" stroke="#1e1e1e" stroke-width="0.55"/>
<line x1="468.30" y1="609.50" x2="473.60" y2="609.50" stroke="#333" stroke-width="0.6"/>
<rect x="469.55" y="607.85" width="2.80" height="3.30" fill="#ad5852" stroke="#1e1e1e" stroke-width="0.55"/>
<circle cx="473.60" cy="609.50" r="0.75" fill="#1e1e1e"/>
<rect x="464.00" y="611.85" width="2.50" height="3.30" fill="#0b7eab" stroke="#1e1e1e" stroke-width="0.55"/>
<line x1="467.30" y1="617.50" x2="473.00" y2="617.50" stroke="#333" stroke-width="0.6"/>
<rect x="469.30" y="615.85" width="1.70" height="3.30" fill="#422e2d" stroke="#1e1e1e" stroke-width="0.55"/>
<circle cx="473.00" cy="617.50" r="0.75" fill="#1e1e1e"/>
<rect x="461.80" y="619.85" width="1.00" height="3.30" fill="#1c3741" stroke="#1e1e1e" stroke-width="0.55"/>
<line x1="463.00" y1="625.50" x2="465.60" y2="625.50" stroke="#333" stroke-width="0.6"/>
<rect x="463.65" y="623.85" width="1.30" height="3.30" fill="#1c3741" stroke="#1e1e1e" stroke-width="0.55"/>
<line x1="461.00" y1="629.50" x2="467.00" y2="629.50" stroke="#333" stroke-width="0.6"/>
<rect x="463.15" y="627.85" width="1.70" height="3.30" fill="#422e2d" stroke="#1e1e1e" stroke-width="0.55"/>
<line x1="460.70" y1="633.50" x2="463.00" y2="633.50" stroke="#333" stroke-width="0.6"/>
<rect x="461.28" y="631.85" width="1.15" height="3.30" fill="#422e2d" stroke="#1e1e1e" stroke-width="0.55"/>
<line x1="463.00" y1="637.50" x2="465.00" y2="637.50" stroke="#333" stroke-width="0.6"/>
<rect x="463.50" y="635.85" width="1.00" height="3.30" fill="#422e2d" stroke="#1e1e1e" stroke-width="0.55"/>
<rect x="468.30" y="639.85" width="2.20" height="3.30" fill="#a251a9" stroke="#1e1e1e" stroke-width="0.55"/>
<rect x="466.45" y="643.85" width="1.00" height="3.30" fill="#35351c" stroke="#1e1e1e" stroke-width="0.55"/>
<rect x="460.45" y="647.85" width="1.00" height="3.30" fill="#1c3741" stroke="#1e1e1e" stroke-width="0.55"/>
<rect x="461.15" y="651.85" width="1.00" height="3.30" fill="#1c392f" stroke="#1e1e1e" stroke-width="0.55"/>
<line x1="459.60" y1="657.50" x2="462.30" y2="657.50" stroke="#333" stroke-width="0.6"/>
<rect x="460.28" y="655.85" width="1.35" height="3.30" fill="#422e2d" stroke="#1e1e1e" stroke-width="0.55"/>
<line x1="460.50" y1="659.80" x2="460.50" y2="663.20" stroke="#2a2a2a" stroke-width="0.8"/>
<line x1="460.50" y1="663.80" x2="460.50" y2="667.20" stroke="#2a2a2a" stroke-width="0.8"/>
<line x1="460.50" y1="667.80" x2="460.50" y2="671.20" stroke="#2a2a2a" stroke-width="0.8"/>
<line x1="460.50" y1="671.80" x2="460.50" y2="675.20" stroke="#2a2a2a" stroke-width="0.8"/>
<line x1="466.30" y1="677.50" x2="471.00" y2="677.50" stroke="#333" stroke-width="0.6"/>
<rect x="467.80" y="675.85" width="1.70" height="3.30" fill="#422e2d" stroke="#1e1e1e" stroke-width="0.55"/>
<line x1="461.20" y1="681.50" x2="463.90" y2="681.50" stroke="#333" stroke-width="0.6"/>
<rect x="461.87" y="679.85" width="1.35" height="3.30" fill="#422e2d" stroke="#1e1e1e" stroke-width="0.55"/>
<line x1="460.30" y1="685.50" x2="465.00" y2="685.50" stroke="#333" stroke-width="0.6"/>
<rect x="461.80" y="683.85" width="1.70" height="3.30" fill="#35351c" stroke="#1e1e1e" stroke-width="0.55"/>
<rect x="477.70" y="687.85" width="2.80" height="3.30" fill="#0b7eab" stroke="#1e1e1e" stroke-width="0.55"/>
<line x1="462.30" y1="693.50" x2="465.60" y2="693.50" stroke="#333" stroke-width="0.6"/>
<rect x="462.55" y="691.85" width="2.80" height="3.30" fill="#0b7eab" stroke="#1e1e1e" stroke-width="0.55"/>
<line x1="459.60" y1="697.50" x2="461.20" y2="697.50" stroke="#333" stroke-width="0.6"/>
<rect x="459.90" y="695.85" width="1.00" height="3.30" fill="#1c392f" stroke="#1e1e1e" stroke-width="0.55"/>
<line x1="474.90" y1="701.50" x2="478.50" y2="701.50" stroke="#333" stroke-width="0.6"/>
<rect x="475.30" y="699.85" width="2.80" height="3.30" fill="#ad5852" stroke="#1e1e1e" stroke-width="0.55"/>
<line x1="466.30" y1="705.50" x2="468.30" y2="705.50" stroke="#333" stroke-width="0.6"/>
<rect x="466.80" y="703.85" width="1.00" height="3.30" fill="#1c3741" stroke="#1e1e1e" stroke-width="0.55"/>
<line x1="472.30" y1="709.50" x2="474.00" y2="709.50" stroke="#333" stroke-width="0.6"/>
<rect x="472.65" y="707.85" width="1.00" height="3.30" fill="#422e2d" stroke="#1e1e1e" stroke-width="0.55"/>
<rect x="474.30" y="711.85" width="2.60" height="3.30" fill="#0b7eab" stroke="#1e1e1e" stroke-width="0.55"/>
<line x1="468.30" y1="717.50" x2="473.60" y2="717.50" stroke="#333" stroke-width="0.6"/>
<rect x="470.10" y="715.85" width="1.70" height="3.30" fill="#1c3741" stroke="#1e1e1e" stroke-width="0.55"/>
<line x1="474.90" y1="721.50" x2="478.20" y2="721.50" stroke="#333" stroke-width="0.6"/>
<rect x="475.15" y="719.85" width="2.80" height="3.30" fill="#ad5852" stroke="#1e1e1e" stroke-width="0.55"/>
<line x1="471.60" y1="725.50" x2="477.60" y2="725.50" stroke="#333" stroke-width="0.6"/>
<rect x="473.20" y="723.85" width="2.80" height="3.30" fill="#ad5852" stroke="#1e1e1e" stroke-width="0.55"/>
<line x1="462.00" y1="729.50" x2="463.60" y2="729.50" stroke="#333" stroke-width="0.6"/>
<rect x="462.30" y="727.85" width="1.00" height="3.30" fill="#422e2d" stroke="#1e1e1e" stroke-width="0.55"/>
<line x1="464.30" y1="733.50" x2="469.60" y2="733.50" stroke="#333" stroke-width="0.6"/>
<rect x="465.55" y="731.85" width="2.80" height="3.30" fill="#a251a9" stroke="#1e1e1e" stroke-width="0.55"/>
<line x1="467.00" y1="737.50" x2="473.00" y2="737.50" stroke="#333" stroke-width="0.6"/>
<rect x="469.15" y="735.85" width="1.70" height="3.30" fill="#35351c" stroke="#1e1e1e" stroke-width="0.55"/>
<rect x="461.80" y="739.85" width="1.00" height="3.30" fill="#1c3741" stroke="#1e1e1e" stroke-width="0.55"/>
<rect x="465.20" y="743.85" width="2.40" height="3.30" fill="#0b885d" stroke="#1e1e1e" stroke-width="0.55"/>
<line x1="460.30" y1="749.50" x2="463.90" y2="749.50" stroke="#333" stroke-width="0.6"/>
<rect x="461.25" y="747.85" width="1.70" height="3.30" fill="#422e2d" stroke="#1e1e1e" stroke-width="0.55"/>
<line x1="463.60" y1="753.50" x2="466.30" y2="753.50" stroke="#333" stroke-width="0.6"/>
<rect x="464.28" y="751.85" width="1.35" height="3.30" fill="#1c3741" stroke="#1e1e1e" stroke-width="0.55"/>
<line x1="461.00" y1="757.50" x2="464.30" y2="757.50" stroke="#333" stroke-width="0.6"/>
<rect x="461.82" y="755.85" width="1.65" height="3.30" fill="#422e2d" stroke="#1e1e1e" stroke-width="0.55"/>
<rect x="463.60" y="759.85" width="2.00" height="3.30" fill="#0b7eab" stroke="#1e1e1e" stroke-width="0.55"/>
<line x1="462.30" y1="765.50" x2="464.30" y2="765.50" stroke="#333" stroke-width="0.6"/>
<rect x="462.80" y="763.85" width="1.00" height="3.30" fill="#1c3741" stroke="#1e1e1e" stroke-width="0.55"/>
<line x1="460.50" y1="767.80" x2="460.50" y2="771.20" stroke="#2a2a2a" stroke-width="0.8"/>
<line x1="462.00" y1="773.50" x2="466.30" y2="773.50" stroke="#333" stroke-width="0.6"/>
<rect x="462.75" y="771.85" width="2.80" height="3.30" fill="#ad5852" stroke="#1e1e1e" stroke-width="0.55"/>
<line x1="460.30" y1="777.50" x2="464.30" y2="777.50" stroke="#333" stroke-width="0.6"/>
<rect x="461.45" y="775.85" width="1.70" height="3.30" fill="#422e2d" stroke="#1e1e1e" stroke-width="0.55"/>
<line x1="459.90" y1="781.50" x2="462.30" y2="781.50" stroke="#333" stroke-width="0.6"/>
<rect x="460.50" y="779.85" width="1.20" height="3.30" fill="#3f2c41" stroke="#1e1e1e" stroke-width="0.55"/>
<line x1="466.30" y1="785.50" x2="468.70" y2="785.50" stroke="#333" stroke-width="0.6"/>
<rect x="466.90" y="783.85" width="1.20" height="3.30" fill="#35351c" stroke="#1e1e1e" stroke-width="0.55"/>
<line x1="577.20" y1="371.90" x2="577.20" y2="375.10" stroke="#6a6a6a" stroke-width="0.9"/>
<circle cx="577.30" cy="373.50" r="0.8" fill="#222"/>
<line x1="577.20" y1="375.90" x2="577.20" y2="379.10" stroke="#6a6a6a" stroke-width="0.9"/>
<circle cx="577.30" cy="377.50" r="0.8" fill="#222"/>
<line x1="577.20" y1="379.90" x2="577.20" y2="383.10" stroke="#6a6a6a" stroke-width="0.9"/>
<line x1="577.20" y1="383.90" x2="577.20" y2="387.10" stroke="#6a6a6a" stroke-width="0.9"/>
<line x1="577.20" y1="387.90" x2="577.20" y2="391.10" stroke="#6a6a6a" stroke-width="0.9"/>
<line x1="577.20" y1="391.90" x2="577.20" y2="395.10" stroke="#6a6a6a" stroke-width="0.9"/>
<line x1="577.20" y1="395.90" x2="577.20" y2="399.10" stroke="#6a6a6a" stroke-width="0.9"/>
<circle cx="577.30" cy="397.50" r="0.8" fill="#222"/>
<line x1="577.20" y1="399.90" x2="577.20" y2="403.10" stroke="#6a6a6a" stroke-width="0.9"/>
<circle cx="577.30" cy="401.50" r="0.8" fill="#222"/>
<line x1="577.20" y1="403.90" x2="577.20" y2="407.10" stroke="#6a6a6a" stroke-width="0.9"/>
<line x1="577.20" y1="407.90" x2="577.20" y2="411.10" stroke="#6a6a6a" stroke-width="0.9"/>
<circle cx="577.30" cy="409.50" r="0.8" fill="#222"/>
<line x1="577.20" y1="411.90" x2="577.20" y2="415.10" stroke="#6a6a6a" stroke-width="0.9"/>
<line x1="577.20" y1="415.90" x2="577.20" y2="419.10" stroke="#6a6a6a" stroke-width="0.9"/>
<line x1="577.20" y1="419.90" x2="577.20" y2="423.10" stroke="#6a6a6a" stroke-width="0.9"/>
<line x1="577.20" y1="423.90" x2="577.20" y2="427.10" stroke="#6a6a6a" stroke-width="0.9"/>
<circle cx="577.30" cy="425.50" r="0.8" fill="#222"/>
<line x1="577.20" y1="427.90" x2="577.20" y2="431.10" stroke="#6a6a6a" stroke-width="0.9"/>
<circle cx="577.30" cy="429.50" r="0.8" fill="#222"/>
<line x1="577.20" y1="431.90" x2="577.20" y2="435.10" stroke="#6a6a6a" stroke-width="0.9"/>
<line x1="577.20" y1="435.90" x2="577.20" y2="439.10" stroke="#6a6a6a" stroke-width="0.9"/>
<line x1="577.20" y1="439.90" x2="577.20" y2="443.10" stroke="#6a6a6a" stroke-width="0.9"/>
<line x1="577.20" y1="443.90" x2="577.20" y2="447.10" stroke="#6a6a6a" stroke-width="0.9"/>
<line x1="577.20" y1="447.90" x2="577.20" y2="451.10" stroke="#6a6a6a" stroke-width="0.9"/>
<line x1="577.20" y1="451.90" x2="577.20" y2="455.10" stroke="#6a6a6a" stroke-width="0.9"/>
<line x1="577.20" y1="459.90" x2="577.20" y2="463.10" stroke="#6a6a6a" stroke-width="0.9"/>
<line x1="577.20" y1="463.90" x2="577.20" y2="467.10" stroke="#6a6a6a" stroke-width="0.9"/>
<line x1="577.20" y1="467.90" x2="577.20" y2="471.10" stroke="#6a6a6a" stroke-width="0.9"/>
<line x1="577.20" y1="471.90" x2="577.20" y2="475.10" stroke="#6a6a6a" stroke-width="0.9"/>
<line x1="577.20" y1="475.90" x2="577.20" y2="479.10" stroke="#6a6a6a" stroke-width="0.9"/>
<line x1="577.20" y1="479.90" x2="577.20" y2="483.10" stroke="#6a6a6a" stroke-width="0.9"/>
<line x1="577.20" y1="483.90" x2="577.20" y2="487.10" stroke="#6a6a6a" stroke-width="0.9"/>
<line x1="577.20" y1="487.90" x2="577.20" y2="491.10" stroke="#6a6a6a" stroke-width="0.9"/>
<line x1="577.20" y1="491.90" x2="577.20" y2="495.10" stroke="#6a6a6a" stroke-width="0.9"/>
<line x1="577.20" y1="495.90" x2="577.20" y2="499.10" stroke="#6a6a6a" stroke-width="0.9"/>
<circle cx="577.30" cy="497.50" r="0.8" fill="#222"/>
<line x1="577.20" y1="499.90" x2="577.20" y2="503.10" stroke="#6a6a6a" stroke-width="0.9"/>
<circle cx="577.30" cy="501.50" r="0.8" fill="#222"/>
<line x1="577.20" y1="503.90" x2="577.20" y2="507.10" stroke="#6a6a6a" stroke-width="0.9"/>
<line x1="577.20" y1="507.90" x2="577.20" y2="511.10" stroke="#6a6a6a" stroke-width="0.9"/>
<line x1="577.20" y1="511.90" x2="577.20" y2="515.10" stroke="#6a6a6a" stroke-width="0.9"/>
<line x1="577.20" y1="515.90" x2="577.20" y2="519.10" stroke="#6a6a6a" stroke-width="0.9"/>
<line x1="577.20" y1="519.90" x2="577.20" y2="523.10" stroke="#6a6a6a" stroke-width="0.9"/>
<line x1="577.20" y1="523.90" x2="577.20" y2="527.10" stroke="#6a6a6a" stroke-width="0.9"/>
<circle cx="577.30" cy="525.50" r="0.8" fill="#222"/>
<line x1="577.20" y1="527.90" x2="577.20" y2="531.10" stroke="#6a6a6a" stroke-width="0.9"/>
<circle cx="577.30" cy="529.50" r="0.8" fill="#222"/>
<line x1="577.20" y1="531.90" x2="577.20" y2="535.10" stroke="#6a6a6a" stroke-width="0.9"/>
<line x1="577.20" y1="535.90" x2="577.20" y2="539.10" stroke="#6a6a6a" stroke-width="0.9"/>
<line x1="577.20" y1="539.90" x2="577.20" y2="543.10" stroke="#6a6a6a" stroke-width="0.9"/>
<circle cx="577.30" cy="541.50" r="0.8" fill="#222"/>
<line x1="577.20" y1="543.90" x2="577.20" y2="547.10" stroke="#6a6a6a" stroke-width="0.9"/>
<line x1="577.20" y1="547.90" x2="577.20" y2="551.10" stroke="#6a6a6a" stroke-width="0.9"/>
<line x1="577.20" y1="551.90" x2="577.20" y2="555.10" stroke="#6a6a6a" stroke-width="0.9"/>
<line x1="577.20" y1="555.90" x2="577.20" y2="559.10" stroke="#6a6a6a" stroke-width="0.9"/>
<circle cx="577.30" cy="557.50" r="0.8" fill="#222"/>
<line x1="577.20" y1="559.90" x2="577.20" y2="563.10" stroke="#6a6a6a" stroke-width="0.9"/>
<line x1="577.20" y1="563.90" x2="577.20" y2="567.10" stroke="#6a6a6a" stroke-width="0.9"/>
<circle cx="577.30" cy="565.50" r="0.8" fill="#222"/>
<line x1="577.20" y1="567.90" x2="577.20" y2="571.10" stroke="#6a6a6a" stroke-width="0.9"/>
<line x1="577.20" y1="571.90" x2="577.20" y2="575.10" stroke="#6a6a6a" stroke-width="0.9"/>
<line x1="577.20" y1="575.90" x2="577.20" y2="579.10" stroke="#6a6a6a" stroke-width="0.9"/>
<line x1="577.20" y1="579.90" x2="577.20" y2="583.10" stroke="#6a6a6a" stroke-width="0.9"/>
<circle cx="577.30" cy="581.50" r="0.8" fill="#222"/>
<line x1="577.20" y1="583.90" x2="577.20" y2="587.10" stroke="#6a6a6a" stroke-width="0.9"/>
<circle cx="577.30" cy="585.50" r="0.8" fill="#222"/>
<line x1="577.20" y1="587.90" x2="577.20" y2="591.10" stroke="#6a6a6a" stroke-width="0.9"/>
<line x1="577.20" y1="591.90" x2="577.20" y2="595.10" stroke="#6a6a6a" stroke-width="0.9"/>
<line x1="577.20" y1="595.90" x2="577.20" y2="599.10" stroke="#6a6a6a" stroke-width="0.9"/>
<circle cx="577.30" cy="597.50" r="0.8" fill="#222"/>
<line x1="577.20" y1="599.90" x2="577.20" y2="603.10" stroke="#6a6a6a" stroke-width="0.9"/>
<line x1="577.20" y1="603.90" x2="577.20" y2="607.10" stroke="#6a6a6a" stroke-width="0.9"/>
<line x1="577.20" y1="607.90" x2="577.20" y2="611.10" stroke="#6a6a6a" stroke-width="0.9"/>
<line x1="577.20" y1="611.90" x2="577.20" y2="615.10" stroke="#6a6a6a" stroke-width="0.9"/>
<circle cx="577.30" cy="613.50" r="0.8" fill="#222"/>
<line x1="577.20" y1="615.90" x2="577.20" y2="619.10" stroke="#6a6a6a" stroke-width="0.9"/>
<circle cx="577.30" cy="617.50" r="0.8" fill="#222"/>
<line x1="577.20" y1="619.90" x2="577.20" y2="623.10" stroke="#6a6a6a" stroke-width="0.9"/>
<line x1="577.20" y1="623.90" x2="577.20" y2="627.10" stroke="#6a6a6a" stroke-width="0.9"/>
<circle cx="577.30" cy="625.50" r="0.8" fill="#222"/>
<line x1="577.20" y1="627.90" x2="577.20" y2="631.10" stroke="#6a6a6a" stroke-width="0.9"/>
<circle cx="577.30" cy="629.50" r="0.8" fill="#222"/>
<line x1="577.20" y1="631.90" x2="577.20" y2="635.10" stroke="#6a6a6a" stroke-width="0.9"/>
<circle cx="577.30" cy="633.50" r="0.8" fill="#222"/>
<line x1="577.20" y1="635.90" x2="577.20" y2="639.10" stroke="#6a6a6a" stroke-width="0.9"/>
<line x1="577.20" y1="639.90" x2="577.20" y2="643.10" stroke="#6a6a6a" stroke-width="0.9"/>
<line x1="577.20" y1="643.90" x2="577.20" y2="647.10" stroke="#6a6a6a" stroke-width="0.9"/>
<circle cx="577.30" cy="645.50" r="0.8" fill="#222"/>
<line x1="577.20" y1="647.90" x2="577.20" y2="651.10" stroke="#6a6a6a" stroke-width="0.9"/>
<circle cx="577.30" cy="649.50" r="0.8" fill="#222"/>
<line x1="577.20" y1="651.90" x2="577.20" y2="655.10" stroke="#6a6a6a" stroke-width="0.9"/>
<line x1="577.20" y1="655.90" x2="577.20" y2="659.10" stroke="#6a6a6a" stroke-width="0.9"/>
<circle cx="577.30" cy="657.50" r="0.8" fill="#222"/>
<line x1="577.20" y1="659.90" x2="577.20" y2="663.10" stroke="#6a6a6a" stroke-width="0.9"/>
<line x1="577.20" y1="663.90" x2="577.20" y2="667.10" stroke="#6a6a6a" stroke-width="0.9"/>
<circle cx="577.30" cy="665.50" r="0.8" fill="#222"/>
<line x1="577.20" y1="667.90" x2="577.20" y2="671.10" stroke="#6a6a6a" stroke-width="0.9"/>
<line x1="577.20" y1="671.90" x2="577.20" y2="675.10" stroke="#6a6a6a" stroke-width="0.9"/>
<line x1="577.20" y1="675.90" x2="577.20" y2="679.10" stroke="#6a6a6a" stroke-width="0.9"/>
<line x1="577.20" y1="679.90" x2="577.20" y2="683.10" stroke="#6a6a6a" stroke-width="0.9"/>
<line x1="577.20" y1="683.90" x2="577.20" y2="687.10" stroke="#6a6a6a" stroke-width="0.9"/>
<line x1="577.20" y1="687.90" x2="577.20" y2="691.10" stroke="#6a6a6a" stroke-width="0.9"/>
<line x1="577.20" y1="691.90" x2="577.20" y2="695.10" stroke="#6a6a6a" stroke-width="0.9"/>
<line x1="577.20" y1="695.90" x2="577.20" y2="699.10" stroke="#6a6a6a" stroke-width="0.9"/>
<line x1="577.20" y1="699.90" x2="577.20" y2="703.10" stroke="#6a6a6a" stroke-width="0.9"/>
<circle cx="577.30" cy="701.50" r="0.8" fill="#222"/>
<line x1="577.20" y1="703.90" x2="577.20" y2="707.10" stroke="#6a6a6a" stroke-width="0.9"/>
<circle cx="577.30" cy="705.50" r="0.8" fill="#222"/>
<line x1="577.20" y1="707.90" x2="577.20" y2="711.10" stroke="#6a6a6a" stroke-width="0.9"/>
<line x1="577.20" y1="711.90" x2="577.20" y2="715.10" stroke="#6a6a6a" stroke-width="0.9"/>
<line x1="577.20" y1="715.90" x2="577.20" y2="719.10" stroke="#6a6a6a" stroke-width="0.9"/>
<circle cx="577.30" cy="717.50" r="0.8" fill="#222"/>
<line x1="577.20" y1="719.90" x2="577.20" y2="723.10" stroke="#6a6a6a" stroke-width="0.9"/>
<circle cx="577.30" cy="721.50" r="0.8" fill="#222"/>
<line x1="577.20" y1="723.90" x2="577.20" y2="727.10" stroke="#6a6a6a" stroke-width="0.9"/>
<circle cx="577.30" cy="725.50" r="0.8" fill="#222"/>
<line x1="577.20" y1="727.90" x2="577.20" y2="731.10" stroke="#6a6a6a" stroke-width="0.9"/>
<line x1="577.20" y1="731.90" x2="577.20" y2="735.10" stroke="#6a6a6a" stroke-width="0.9"/>
<line x1="577.20" y1="735.90" x2="577.20" y2="739.10" stroke="#6a6a6a" stroke-width="0.9"/>
<circle cx="577.30" cy="737.50" r="0.8" fill="#222"/>
<line x1="577.20" y1="739.90" x2="577.20" y2="743.10" stroke="#6a6a6a" stroke-width="0.9"/>
<circle cx="577.30" cy="741.50" r="0.8" fill="#222"/>
<line x1="577.20" y1="743.90" x2="577.20" y2="747.10" stroke="#6a6a6a" stroke-width="0.9"/>
<circle cx="577.30" cy="745.50" r="0.8" fill="#222"/>
<line x1="577.20" y1="747.90" x2="577.20" y2="751.10" stroke="#6a6a6a" stroke-width="0.9"/>
<circle cx="577.30" cy="749.50" r="0.8" fill="#222"/>
<line x1="577.20" y1="751.90" x2="577.20" y2="755.10" stroke="#6a6a6a" stroke-width="0.9"/>
<circle cx="577.30" cy="753.50" r="0.8" fill="#222"/>
<line x1="577.20" y1="755.90" x2="577.20" y2="759.10" stroke="#6a6a6a" stroke-width="0.9"/>
<circle cx="577.30" cy="757.50" r="0.8" fill="#222"/>
<line x1="577.20" y1="759.90" x2="577.20" y2="763.10" stroke="#6a6a6a" stroke-width="0.9"/>
<circle cx="577.30" cy="761.50" r="0.8" fill="#222"/>
<line x1="577.20" y1="763.90" x2="577.20" y2="767.10" stroke="#6a6a6a" stroke-width="0.9"/>
<line x1="577.20" y1="767.90" x2="577.20" y2="771.10" stroke="#6a6a6a" stroke-width="0.9"/>
<line x1="577.20" y1="771.90" x2="577.20" y2="775.10" stroke="#6a6a6a" stroke-width="0.9"/>
<line x1="577.20" y1="775.90" x2="577.20" y2="779.10" stroke="#6a6a6a" stroke-width="0.9"/>
<line x1="577.20" y1="779.90" x2="577.20" y2="783.10" stroke="#6a6a6a" stroke-width="0.9"/>
<circle cx="577.30" cy="781.50" r="0.8" fill="#222"/>
<line x1="577.20" y1="783.90" x2="577.20" y2="787.10" stroke="#6a6a6a" stroke-width="0.9"/>
<circle cx="577.30" cy="785.50" r="0.8" fill="#222"/>
<line x1="22.50" y1="374.80" x2="22.50" y2="543.50" stroke="#222" stroke-width="0.8"/>
<line x1="22.50" y1="549.40" x2="22.50" y2="783.20" stroke="#222" stroke-width="0.8"/>
<text x="19.30" y="457.40" font-size="8.2" fill="#111" text-anchor="middle" transform="rotate(-90 19.3 457.4)" stroke="#111" stroke-width="0.205">WWBC</text>
<text x="19.30" y="652.30" font-size="8.2" fill="#111" text-anchor="middle" transform="rotate(-90 19.3 652.3)" stroke="#111" stroke-width="0.205">PBMC</text>
<line x1="43.70" y1="375.00" x2="43.70" y2="411.70" stroke="#aaa" stroke-width="1.2"/>
<text x="36.60" y="394.00" font-size="8.0" fill="#111" text-anchor="middle" transform="rotate(-90 36.6 394.0)" stroke="#111" stroke-width="0.200">IL6</text>
<line x1="43.70" y1="415.20" x2="43.70" y2="454.30" stroke="#aaa" stroke-width="1.2"/>
<text x="36.60" y="434.50" font-size="8.0" fill="#111" text-anchor="middle" transform="rotate(-90 36.6 434.5)" stroke="#111" stroke-width="0.200">IL1β</text>
<line x1="43.70" y1="459.60" x2="43.70" y2="470.50" stroke="#aaa" stroke-width="1.2"/>
<text x="36.60" y="465.20" font-size="8.0" fill="#111" text-anchor="middle" transform="rotate(-90 36.6 465.2)" stroke="#111" stroke-width="0.200">IL17</text>
<line x1="43.70" y1="477.60" x2="43.70" y2="520.80" stroke="#aaa" stroke-width="1.2"/>
<text x="36.60" y="500.50" font-size="8.0" fill="#111" text-anchor="middle" transform="rotate(-90 36.6 500.5)" stroke="#111" stroke-width="0.200">IL10</text>
<line x1="43.70" y1="526.30" x2="43.70" y2="537.00" stroke="#aaa" stroke-width="1.2"/>
<text x="36.60" y="530.50" font-size="8.0" fill="#111" text-anchor="middle" transform="rotate(-90 36.6 530.5)" stroke="#111" stroke-width="0.200">IFNγ</text>
<line x1="43.70" y1="546.30" x2="43.70" y2="586.30" stroke="#aaa" stroke-width="1.2"/>
<text x="36.60" y="566.40" font-size="8.0" fill="#111" text-anchor="middle" transform="rotate(-90 36.6 566.4)" stroke="#111" stroke-width="0.200">IL6</text>
<line x1="43.70" y1="591.80" x2="43.70" y2="597.30" stroke="#aaa" stroke-width="1.2"/>
<text x="36.60" y="594.20" font-size="8.0" fill="#111" text-anchor="middle" transform="rotate(-90 36.6 594.2)" stroke="#111" stroke-width="0.200">IL4</text>
<line x1="43.70" y1="602.00" x2="43.70" y2="643.60" stroke="#aaa" stroke-width="1.2"/>
<text x="36.60" y="623.50" font-size="8.0" fill="#111" text-anchor="middle" transform="rotate(-90 36.6 623.5)" stroke="#111" stroke-width="0.200">IL1β</text>
<line x1="43.70" y1="651.20" x2="43.70" y2="683.50" stroke="#aaa" stroke-width="1.2"/>
<text x="36.60" y="670.00" font-size="8.0" fill="#111" text-anchor="middle" transform="rotate(-90 36.6 670.0)" stroke="#111" stroke-width="0.200">IL17</text>
<line x1="43.70" y1="689.40" x2="43.70" y2="737.70" stroke="#aaa" stroke-width="1.2"/>
<text x="36.60" y="712.60" font-size="8.0" fill="#111" text-anchor="middle" transform="rotate(-90 36.6 712.6)" stroke="#111" stroke-width="0.200">IL10</text>
<line x1="43.70" y1="742.60" x2="43.70" y2="786.70" stroke="#aaa" stroke-width="1.2"/>
<text x="36.60" y="764.00" font-size="8.0" fill="#111" text-anchor="middle" transform="rotate(-90 36.6 764.0)" stroke="#111" stroke-width="0.200">IFNγ</text>
<text x="144.60" y="825.50" font-size="8.0" fill="#111" text-anchor="start" stroke="#111" stroke-width="0.200">Stimulation</text>
<line x1="213.30" y1="818.30" x2="213.30" y2="827.00" stroke="#555" stroke-width="0.6"/>
<rect x="209.00" y="819.40" width="8.60" height="5.60" fill="#F8766D" stroke="#333" stroke-width="0.6"/>
<line x1="209.00" y1="822.20" x2="217.60" y2="822.20" stroke="#333" stroke-width="0.6"/>
<text x="222.80" y="825.10" font-size="8.0" fill="#111" text-anchor="start" stroke="#111" stroke-width="0.200">Bacteria</text>
<line x1="268.60" y1="818.30" x2="268.60" y2="827.00" stroke="#555" stroke-width="0.6"/>
<rect x="264.30" y="819.40" width="8.60" height="5.60" fill="#A3A500" stroke="#333" stroke-width="0.6"/>
<line x1="264.30" y1="822.20" x2="272.90" y2="822.20" stroke="#333" stroke-width="0.6"/>
<text x="278.10" y="825.10" font-size="8.0" fill="#111" text-anchor="start" stroke="#111" stroke-width="0.200">Fungi</text>
<line x1="314.90" y1="818.30" x2="314.90" y2="827.00" stroke="#555" stroke-width="0.6"/>
<rect x="310.60" y="819.40" width="8.60" height="5.60" fill="#00BF7D" stroke="#333" stroke-width="0.6"/>
<line x1="310.60" y1="822.20" x2="319.20" y2="822.20" stroke="#333" stroke-width="0.6"/>
<text x="324.40" y="825.10" font-size="8.0" fill="#111" text-anchor="start" stroke="#111" stroke-width="0.200">Non−microbial</text>
<line x1="392.20" y1="818.30" x2="392.20" y2="827.00" stroke="#555" stroke-width="0.6"/>
<rect x="387.90" y="819.40" width="8.60" height="5.60" fill="#00B0F6" stroke="#333" stroke-width="0.6"/>
<line x1="387.90" y1="822.20" x2="396.50" y2="822.20" stroke="#333" stroke-width="0.6"/>
<text x="401.70" y="825.10" font-size="8.0" fill="#111" text-anchor="start" stroke="#111" stroke-width="0.200">TLR ligands</text>
<line x1="455.30" y1="818.30" x2="455.30" y2="827.00" stroke="#555" stroke-width="0.6"/>
<rect x="451.00" y="819.40" width="8.60" height="5.60" fill="#E76BF3" stroke="#333" stroke-width="0.6"/>
<line x1="451.00" y1="822.20" x2="459.60" y2="822.20" stroke="#333" stroke-width="0.6"/>
<text x="464.80" y="825.10" font-size="8.0" fill="#111" text-anchor="start" stroke="#111" stroke-width="0.200">Virus</text>
</svg></body></html>
